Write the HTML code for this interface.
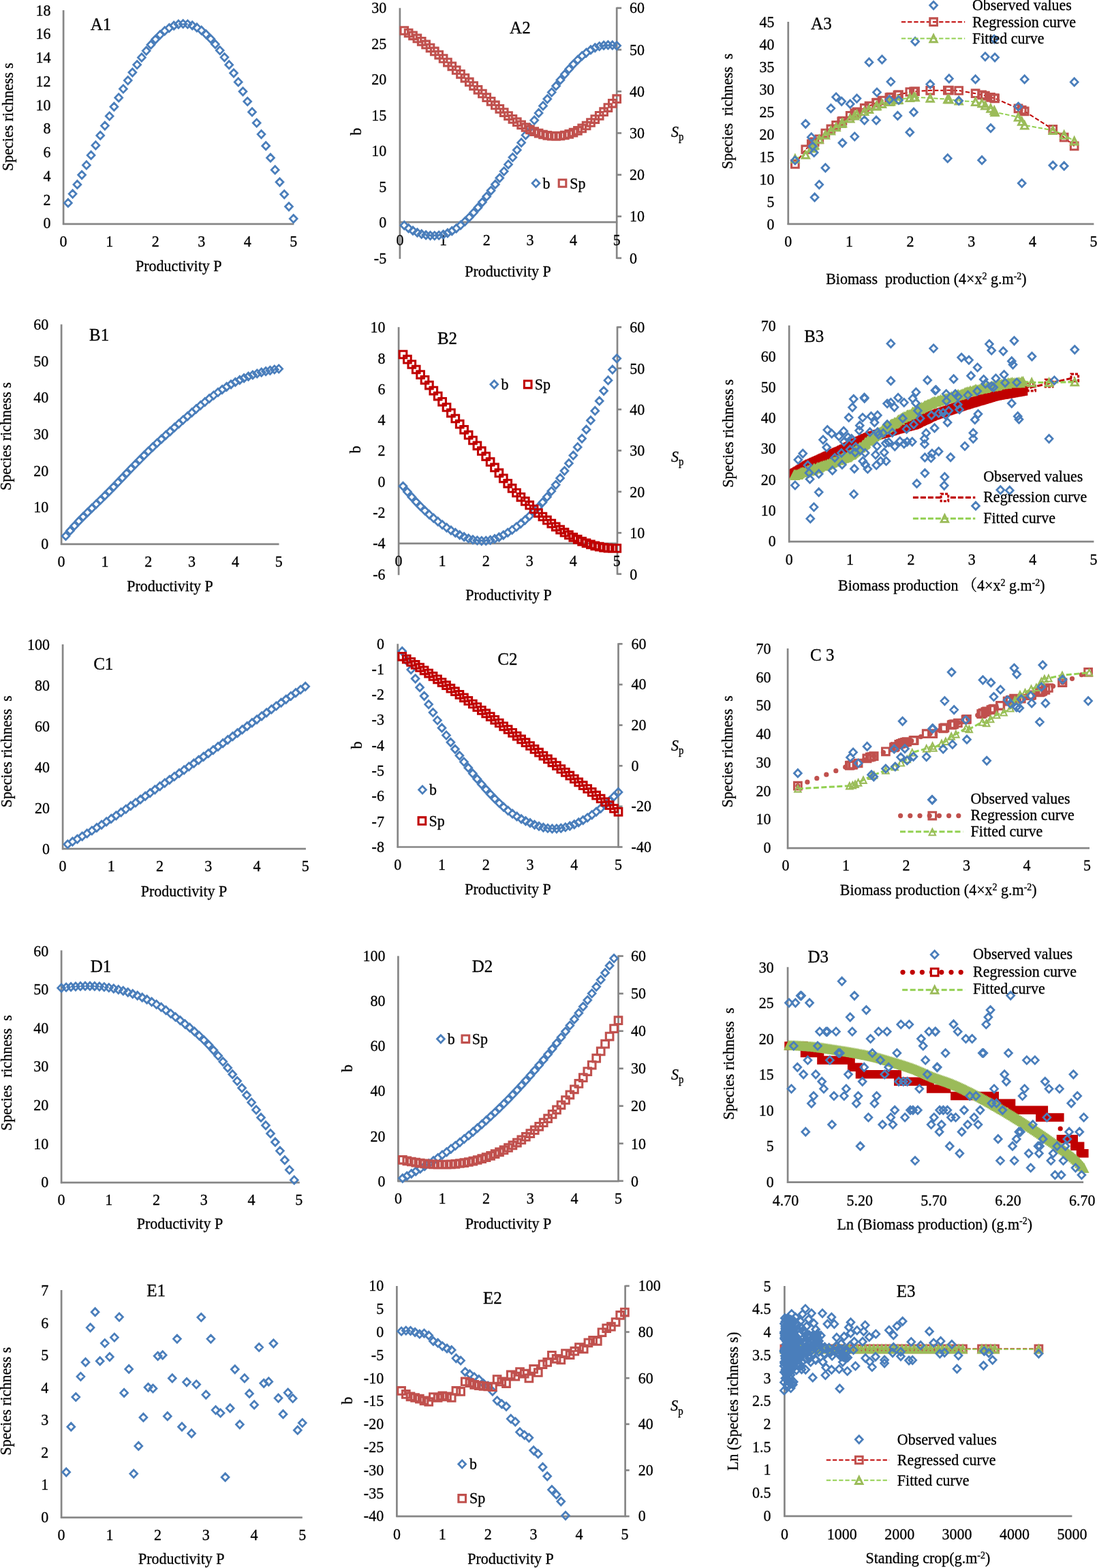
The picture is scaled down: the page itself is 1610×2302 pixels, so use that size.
<!DOCTYPE html>
<html lang="en">
<head>
<meta charset="utf-8">
<title>Species richness and productivity figure</title>
<style>
html,body{margin:0;padding:0;background:#fff;}
body{width:1610px;height:2302px;overflow:hidden;}
svg{display:block;}
svg text{font-family:"Liberation Serif","Noto Serif CJK SC","Noto Sans CJK SC",serif;font-size:22px;fill:#000;stroke:#000;stroke-width:0.3px;white-space:pre;}
</style>
</head>
<body>
<svg width="1610" height="2302" viewBox="0 0 1610 2302">
<rect width="1610" height="2302" fill="#fff"/>
<!-- panel A1 -->
<g id="panel-A1">
<line x1="93.1" y1="15.1" x2="93.1" y2="330.1" stroke="#868686" stroke-width="2.7"/>
<line x1="91.9" y1="328.9" x2="431.4" y2="328.9" stroke="#868686" stroke-width="2.7"/>
<text transform="translate(74.5 22.5) scale(1 1.045)" text-anchor="end">18</text>
<text transform="translate(74.5 57.3) scale(1 1.045)" text-anchor="end">16</text>
<text transform="translate(74.5 92) scale(1 1.045)" text-anchor="end">14</text>
<text transform="translate(74.5 126.8) scale(1 1.045)" text-anchor="end">12</text>
<text transform="translate(74.5 161.5) scale(1 1.045)" text-anchor="end">10</text>
<text transform="translate(74.5 196.3) scale(1 1.045)" text-anchor="end">8</text>
<text transform="translate(74.5 231) scale(1 1.045)" text-anchor="end">6</text>
<text transform="translate(74.5 265.7) scale(1 1.045)" text-anchor="end">4</text>
<text transform="translate(74.5 300.5) scale(1 1.045)" text-anchor="end">2</text>
<text transform="translate(74.5 335.2) scale(1 1.045)" text-anchor="end">0</text>
<text transform="translate(93.1 361.7) scale(1 1.045)" text-anchor="middle">0</text>
<text transform="translate(160.7 361.7) scale(1 1.045)" text-anchor="middle">1</text>
<text transform="translate(228.2 361.7) scale(1 1.045)" text-anchor="middle">2</text>
<text transform="translate(295.7 361.7) scale(1 1.045)" text-anchor="middle">3</text>
<text transform="translate(363.2 361.7) scale(1 1.045)" text-anchor="middle">4</text>
<text transform="translate(430.7 361.7) scale(1 1.045)" text-anchor="middle">5</text>
<text transform="translate(132.8 43.7) scale(1 1.045)" style="font-size:25px">A1</text>
<text transform="translate(262.3 397.8) scale(1 1.045)" text-anchor="middle">Productivity P</text>
<text transform="translate(18.5 171.5) rotate(-90) scale(1 1.045)" text-anchor="middle" xml:space="preserve">Species richness s</text>
<path d="M94.5 297.9l5.4 -5.6l5.4 5.6l-5.4 5.6zM101.2 284.6l5.4 -5.6l5.4 5.6l-5.4 5.6zM108 270.9l5.4 -5.6l5.4 5.6l-5.4 5.6zM114.7 256.8l5.4 -5.6l5.4 5.6l-5.4 5.6zM121.5 242.4l5.4 -5.6l5.4 5.6l-5.4 5.6zM128.2 227.9l5.4 -5.6l5.4 5.6l-5.4 5.6zM135 213.4l5.4 -5.6l5.4 5.6l-5.4 5.6zM141.8 198.9l5.4 -5.6l5.4 5.6l-5.4 5.6zM148.5 184.6l5.4 -5.6l5.4 5.6l-5.4 5.6zM155.3 170.5l5.4 -5.6l5.4 5.6l-5.4 5.6zM162 156.7l5.4 -5.6l5.4 5.6l-5.4 5.6zM168.8 143.4l5.4 -5.6l5.4 5.6l-5.4 5.6zM175.5 130.5l5.4 -5.6l5.4 5.6l-5.4 5.6zM182.3 118.1l5.4 -5.6l5.4 5.6l-5.4 5.6zM189 106.3l5.4 -5.6l5.4 5.6l-5.4 5.6zM195.8 95l5.4 -5.6l5.4 5.6l-5.4 5.6zM202.5 84.4l5.4 -5.6l5.4 5.6l-5.4 5.6zM209.3 74.6l5.4 -5.6l5.4 5.6l-5.4 5.6zM216 65.7l5.4 -5.6l5.4 5.6l-5.4 5.6zM222.8 57.8l5.4 -5.6l5.4 5.6l-5.4 5.6zM229.5 51.1l5.4 -5.6l5.4 5.6l-5.4 5.6zM236.3 45.4l5.4 -5.6l5.4 5.6l-5.4 5.6zM243 41l5.4 -5.6l5.4 5.6l-5.4 5.6zM249.8 37.7l5.4 -5.6l5.4 5.6l-5.4 5.6zM256.5 35.7l5.4 -5.6l5.4 5.6l-5.4 5.6zM263.3 35l5.4 -5.6l5.4 5.6l-5.4 5.6zM270 35.5l5.4 -5.6l5.4 5.6l-5.4 5.6zM276.8 37.3l5.4 -5.6l5.4 5.6l-5.4 5.6zM283.5 40.4l5.4 -5.6l5.4 5.6l-5.4 5.6zM290.3 44.7l5.4 -5.6l5.4 5.6l-5.4 5.6zM297 50.3l5.4 -5.6l5.4 5.6l-5.4 5.6zM303.8 57l5.4 -5.6l5.4 5.6l-5.4 5.6zM310.5 64.9l5.4 -5.6l5.4 5.6l-5.4 5.6zM317.3 74l5.4 -5.6l5.4 5.6l-5.4 5.6zM324 84.1l5.4 -5.6l5.4 5.6l-5.4 5.6zM330.8 95.2l5.4 -5.6l5.4 5.6l-5.4 5.6zM337.6 107.3l5.4 -5.6l5.4 5.6l-5.4 5.6zM344.3 120.4l5.4 -5.6l5.4 5.6l-5.4 5.6zM351.1 134.3l5.4 -5.6l5.4 5.6l-5.4 5.6zM357.8 149l5.4 -5.6l5.4 5.6l-5.4 5.6zM364.6 164.4l5.4 -5.6l5.4 5.6l-5.4 5.6zM371.3 180.5l5.4 -5.6l5.4 5.6l-5.4 5.6zM378.1 197.1l5.4 -5.6l5.4 5.6l-5.4 5.6zM384.8 214.2l5.4 -5.6l5.4 5.6l-5.4 5.6zM391.6 231.7l5.4 -5.6l5.4 5.6l-5.4 5.6zM398.3 249.4l5.4 -5.6l5.4 5.6l-5.4 5.6zM405.1 267.3l5.4 -5.6l5.4 5.6l-5.4 5.6zM411.8 285.3l5.4 -5.6l5.4 5.6l-5.4 5.6zM418.6 303.3l5.4 -5.6l5.4 5.6l-5.4 5.6zM425.3 321.1l5.4 -5.6l5.4 5.6l-5.4 5.6z" fill="none" stroke="#4a7ebb" stroke-width="2.8"/>
</g>
<!-- panel B1 -->
<g id="panel-B1">
<line x1="90.1" y1="476.2" x2="90.1" y2="800" stroke="#868686" stroke-width="2.7"/>
<line x1="88.9" y1="798.8" x2="409.5" y2="798.8" stroke="#868686" stroke-width="2.7"/>
<text transform="translate(71.3 484.1) scale(1 1.045)" text-anchor="end">60</text>
<text transform="translate(71.3 537.8) scale(1 1.045)" text-anchor="end">50</text>
<text transform="translate(71.3 591.4) scale(1 1.045)" text-anchor="end">40</text>
<text transform="translate(71.3 645) scale(1 1.045)" text-anchor="end">30</text>
<text transform="translate(71.3 698.6) scale(1 1.045)" text-anchor="end">20</text>
<text transform="translate(71.3 752.3) scale(1 1.045)" text-anchor="end">10</text>
<text transform="translate(71.3 805.9) scale(1 1.045)" text-anchor="end">0</text>
<text transform="translate(90.1 831.5) scale(1 1.045)" text-anchor="middle">0</text>
<text transform="translate(153.9 831.5) scale(1 1.045)" text-anchor="middle">1</text>
<text transform="translate(217.7 831.5) scale(1 1.045)" text-anchor="middle">2</text>
<text transform="translate(281.6 831.5) scale(1 1.045)" text-anchor="middle">3</text>
<text transform="translate(345.4 831.5) scale(1 1.045)" text-anchor="middle">4</text>
<text transform="translate(409.2 831.5) scale(1 1.045)" text-anchor="middle">5</text>
<text transform="translate(131.1 500.4) scale(1 1.045)" style="font-size:25px">B1</text>
<text transform="translate(249.5 867.6) scale(1 1.045)" text-anchor="middle">Productivity P</text>
<text transform="translate(15.8 640.6) rotate(-90) scale(1 1.045)" text-anchor="middle" xml:space="preserve">Species richness s</text>
<path d="M91.1 786.9l5.4 -5.6l5.4 5.6l-5.4 5.6zM97.5 779.2l5.4 -5.6l5.4 5.6l-5.4 5.6zM103.9 772l5.4 -5.6l5.4 5.6l-5.4 5.6zM110.2 765.2l5.4 -5.6l5.4 5.6l-5.4 5.6zM116.6 758.7l5.4 -5.6l5.4 5.6l-5.4 5.6zM123 752.4l5.4 -5.6l5.4 5.6l-5.4 5.6zM129.4 746.2l5.4 -5.6l5.4 5.6l-5.4 5.6zM135.8 740.1l5.4 -5.6l5.4 5.6l-5.4 5.6zM142.1 734l5.4 -5.6l5.4 5.6l-5.4 5.6zM148.5 727.7l5.4 -5.6l5.4 5.6l-5.4 5.6zM154.9 721.3l5.4 -5.6l5.4 5.6l-5.4 5.6zM161.3 714.8l5.4 -5.6l5.4 5.6l-5.4 5.6zM167.7 708.1l5.4 -5.6l5.4 5.6l-5.4 5.6zM174.1 701.5l5.4 -5.6l5.4 5.6l-5.4 5.6zM180.4 694.8l5.4 -5.6l5.4 5.6l-5.4 5.6zM186.8 688.1l5.4 -5.6l5.4 5.6l-5.4 5.6zM193.2 681.6l5.4 -5.6l5.4 5.6l-5.4 5.6zM199.6 675.1l5.4 -5.6l5.4 5.6l-5.4 5.6zM206 668.7l5.4 -5.6l5.4 5.6l-5.4 5.6zM212.3 662.5l5.4 -5.6l5.4 5.6l-5.4 5.6zM218.7 656.4l5.4 -5.6l5.4 5.6l-5.4 5.6zM225.1 650.5l5.4 -5.6l5.4 5.6l-5.4 5.6zM231.5 644.7l5.4 -5.6l5.4 5.6l-5.4 5.6zM237.9 638.9l5.4 -5.6l5.4 5.6l-5.4 5.6zM244.3 633.3l5.4 -5.6l5.4 5.6l-5.4 5.6zM250.6 627.6l5.4 -5.6l5.4 5.6l-5.4 5.6zM257 622.1l5.4 -5.6l5.4 5.6l-5.4 5.6zM263.4 616.5l5.4 -5.6l5.4 5.6l-5.4 5.6zM269.8 611.1l5.4 -5.6l5.4 5.6l-5.4 5.6zM276.2 605.7l5.4 -5.6l5.4 5.6l-5.4 5.6zM282.5 600.4l5.4 -5.6l5.4 5.6l-5.4 5.6zM288.9 595.1l5.4 -5.6l5.4 5.6l-5.4 5.6zM295.3 590.1l5.4 -5.6l5.4 5.6l-5.4 5.6zM301.7 585.2l5.4 -5.6l5.4 5.6l-5.4 5.6zM308.1 580.5l5.4 -5.6l5.4 5.6l-5.4 5.6zM314.5 576l5.4 -5.6l5.4 5.6l-5.4 5.6zM320.8 571.8l5.4 -5.6l5.4 5.6l-5.4 5.6zM327.2 567.9l5.4 -5.6l5.4 5.6l-5.4 5.6zM333.6 564.3l5.4 -5.6l5.4 5.6l-5.4 5.6zM340 561l5.4 -5.6l5.4 5.6l-5.4 5.6zM346.4 557.9l5.4 -5.6l5.4 5.6l-5.4 5.6zM352.7 555.2l5.4 -5.6l5.4 5.6l-5.4 5.6zM359.1 552.7l5.4 -5.6l5.4 5.6l-5.4 5.6zM365.5 550.5l5.4 -5.6l5.4 5.6l-5.4 5.6zM371.9 548.5l5.4 -5.6l5.4 5.6l-5.4 5.6zM378.3 546.7l5.4 -5.6l5.4 5.6l-5.4 5.6zM384.7 545.2l5.4 -5.6l5.4 5.6l-5.4 5.6zM391 543.8l5.4 -5.6l5.4 5.6l-5.4 5.6zM397.4 542.5l5.4 -5.6l5.4 5.6l-5.4 5.6zM403.8 541.5l5.4 -5.6l5.4 5.6l-5.4 5.6z" fill="none" stroke="#4a7ebb" stroke-width="2.8"/>
</g>
<!-- panel C1 -->
<g id="panel-C1">
<line x1="92.1" y1="946" x2="92.1" y2="1247.3" stroke="#868686" stroke-width="2.7"/>
<line x1="90.9" y1="1246.1" x2="448.9" y2="1246.1" stroke="#868686" stroke-width="2.7"/>
<text transform="translate(73 953.9) scale(1 1.045)" text-anchor="end">100</text>
<text transform="translate(73 1013.8) scale(1 1.045)" text-anchor="end">80</text>
<text transform="translate(73 1073.7) scale(1 1.045)" text-anchor="end">60</text>
<text transform="translate(73 1133.6) scale(1 1.045)" text-anchor="end">40</text>
<text transform="translate(73 1193.5) scale(1 1.045)" text-anchor="end">20</text>
<text transform="translate(73 1253.5) scale(1 1.045)" text-anchor="end">0</text>
<text transform="translate(92.1 1279.3) scale(1 1.045)" text-anchor="middle">0</text>
<text transform="translate(163.3 1279.3) scale(1 1.045)" text-anchor="middle">1</text>
<text transform="translate(234.6 1279.3) scale(1 1.045)" text-anchor="middle">2</text>
<text transform="translate(305.8 1279.3) scale(1 1.045)" text-anchor="middle">3</text>
<text transform="translate(377 1279.3) scale(1 1.045)" text-anchor="middle">4</text>
<text transform="translate(448.2 1279.3) scale(1 1.045)" text-anchor="middle">5</text>
<text transform="translate(137.2 983.3) scale(1 1.045)" style="font-size:25px">C1</text>
<text transform="translate(270 1315.8) scale(1 1.045)" text-anchor="middle">Productivity P</text>
<text transform="translate(16.8 1103.3) rotate(-90) scale(1 1.045)" text-anchor="middle" xml:space="preserve">Species richness  s</text>
<path d="M93.9 1239.5l5.4 -5.6l5.4 5.6l-5.4 5.6zM101 1235.7l5.4 -5.6l5.4 5.6l-5.4 5.6zM108.1 1231.8l5.4 -5.6l5.4 5.6l-5.4 5.6zM115.2 1227.8l5.4 -5.6l5.4 5.6l-5.4 5.6zM122.3 1223.7l5.4 -5.6l5.4 5.6l-5.4 5.6zM129.5 1219.5l5.4 -5.6l5.4 5.6l-5.4 5.6zM136.6 1215.2l5.4 -5.6l5.4 5.6l-5.4 5.6zM143.7 1210.8l5.4 -5.6l5.4 5.6l-5.4 5.6zM150.8 1206.4l5.4 -5.6l5.4 5.6l-5.4 5.6zM157.9 1201.9l5.4 -5.6l5.4 5.6l-5.4 5.6zM165.1 1197.3l5.4 -5.6l5.4 5.6l-5.4 5.6zM172.2 1192.6l5.4 -5.6l5.4 5.6l-5.4 5.6zM179.3 1188l5.4 -5.6l5.4 5.6l-5.4 5.6zM186.4 1183.2l5.4 -5.6l5.4 5.6l-5.4 5.6zM193.6 1178.5l5.4 -5.6l5.4 5.6l-5.4 5.6zM200.7 1173.7l5.4 -5.6l5.4 5.6l-5.4 5.6zM207.8 1168.9l5.4 -5.6l5.4 5.6l-5.4 5.6zM214.9 1164.1l5.4 -5.6l5.4 5.6l-5.4 5.6zM222 1159.3l5.4 -5.6l5.4 5.6l-5.4 5.6zM229.2 1154.4l5.4 -5.6l5.4 5.6l-5.4 5.6zM236.3 1149.6l5.4 -5.6l5.4 5.6l-5.4 5.6zM243.4 1144.8l5.4 -5.6l5.4 5.6l-5.4 5.6zM250.5 1140l5.4 -5.6l5.4 5.6l-5.4 5.6zM257.6 1135.2l5.4 -5.6l5.4 5.6l-5.4 5.6zM264.8 1130.4l5.4 -5.6l5.4 5.6l-5.4 5.6zM271.9 1125.5l5.4 -5.6l5.4 5.6l-5.4 5.6zM279 1120.7l5.4 -5.6l5.4 5.6l-5.4 5.6zM286.1 1115.8l5.4 -5.6l5.4 5.6l-5.4 5.6zM293.3 1110.9l5.4 -5.6l5.4 5.6l-5.4 5.6zM300.4 1106l5.4 -5.6l5.4 5.6l-5.4 5.6zM307.5 1101.1l5.4 -5.6l5.4 5.6l-5.4 5.6zM314.6 1096.2l5.4 -5.6l5.4 5.6l-5.4 5.6zM321.7 1091.2l5.4 -5.6l5.4 5.6l-5.4 5.6zM328.9 1086.2l5.4 -5.6l5.4 5.6l-5.4 5.6zM336 1081.2l5.4 -5.6l5.4 5.6l-5.4 5.6zM343.1 1076.2l5.4 -5.6l5.4 5.6l-5.4 5.6zM350.2 1071.2l5.4 -5.6l5.4 5.6l-5.4 5.6zM357.3 1066.2l5.4 -5.6l5.4 5.6l-5.4 5.6zM364.5 1061.2l5.4 -5.6l5.4 5.6l-5.4 5.6zM371.6 1056.3l5.4 -5.6l5.4 5.6l-5.4 5.6zM378.7 1051.3l5.4 -5.6l5.4 5.6l-5.4 5.6zM385.8 1046.3l5.4 -5.6l5.4 5.6l-5.4 5.6zM393 1041.4l5.4 -5.6l5.4 5.6l-5.4 5.6zM400.1 1036.5l5.4 -5.6l5.4 5.6l-5.4 5.6zM407.2 1031.6l5.4 -5.6l5.4 5.6l-5.4 5.6zM414.3 1026.8l5.4 -5.6l5.4 5.6l-5.4 5.6zM421.4 1022l5.4 -5.6l5.4 5.6l-5.4 5.6zM428.6 1017.2l5.4 -5.6l5.4 5.6l-5.4 5.6zM435.7 1012.5l5.4 -5.6l5.4 5.6l-5.4 5.6zM442.8 1007.8l5.4 -5.6l5.4 5.6l-5.4 5.6z" fill="none" stroke="#4a7ebb" stroke-width="2.8"/>
</g>
<!-- panel D1 -->
<g id="panel-D1">
<line x1="90.1" y1="1395.2" x2="90.1" y2="1737.3" stroke="#868686" stroke-width="2.7"/>
<line x1="88.9" y1="1736.1" x2="439.8" y2="1736.1" stroke="#868686" stroke-width="2.7"/>
<text transform="translate(71.3 1403.5) scale(1 1.045)" text-anchor="end">60</text>
<text transform="translate(71.3 1460.1) scale(1 1.045)" text-anchor="end">50</text>
<text transform="translate(71.3 1516.7) scale(1 1.045)" text-anchor="end">40</text>
<text transform="translate(71.3 1573.3) scale(1 1.045)" text-anchor="end">30</text>
<text transform="translate(71.3 1629.9) scale(1 1.045)" text-anchor="end">20</text>
<text transform="translate(71.3 1686.5) scale(1 1.045)" text-anchor="end">10</text>
<text transform="translate(71.3 1743.1) scale(1 1.045)" text-anchor="end">0</text>
<text transform="translate(90.1 1769) scale(1 1.045)" text-anchor="middle">0</text>
<text transform="translate(159.8 1769) scale(1 1.045)" text-anchor="middle">1</text>
<text transform="translate(229.6 1769) scale(1 1.045)" text-anchor="middle">2</text>
<text transform="translate(299.3 1769) scale(1 1.045)" text-anchor="middle">3</text>
<text transform="translate(369.1 1769) scale(1 1.045)" text-anchor="middle">4</text>
<text transform="translate(438.8 1769) scale(1 1.045)" text-anchor="middle">5</text>
<text transform="translate(132.8 1426.5) scale(1 1.045)" style="font-size:25px">D1</text>
<text transform="translate(263.9 1804.4) scale(1 1.045)" text-anchor="middle">Productivity P</text>
<text transform="translate(16.8 1575.1) rotate(-90) scale(1 1.045)" text-anchor="middle" xml:space="preserve">Species  richness  s</text>
<path d="M84.7 1450.4l5.4 -5.6l5.4 5.6l-5.4 5.6zM91.7 1449.5l5.4 -5.6l5.4 5.6l-5.4 5.6zM98.7 1448.8l5.4 -5.6l5.4 5.6l-5.4 5.6zM105.6 1448.3l5.4 -5.6l5.4 5.6l-5.4 5.6zM112.6 1447.9l5.4 -5.6l5.4 5.6l-5.4 5.6zM119.6 1447.7l5.4 -5.6l5.4 5.6l-5.4 5.6zM126.6 1447.7l5.4 -5.6l5.4 5.6l-5.4 5.6zM133.5 1447.9l5.4 -5.6l5.4 5.6l-5.4 5.6zM140.5 1448.3l5.4 -5.6l5.4 5.6l-5.4 5.6zM147.5 1449l5.4 -5.6l5.4 5.6l-5.4 5.6zM154.4 1450l5.4 -5.6l5.4 5.6l-5.4 5.6zM161.4 1451.3l5.4 -5.6l5.4 5.6l-5.4 5.6zM168.4 1452.9l5.4 -5.6l5.4 5.6l-5.4 5.6zM175.4 1454.7l5.4 -5.6l5.4 5.6l-5.4 5.6zM182.3 1456.8l5.4 -5.6l5.4 5.6l-5.4 5.6zM189.3 1459.1l5.4 -5.6l5.4 5.6l-5.4 5.6zM196.3 1461.6l5.4 -5.6l5.4 5.6l-5.4 5.6zM203.3 1464.4l5.4 -5.6l5.4 5.6l-5.4 5.6zM210.2 1467.4l5.4 -5.6l5.4 5.6l-5.4 5.6zM217.2 1470.8l5.4 -5.6l5.4 5.6l-5.4 5.6zM224.2 1474.6l5.4 -5.6l5.4 5.6l-5.4 5.6zM231.2 1478.7l5.4 -5.6l5.4 5.6l-5.4 5.6zM238.1 1483.2l5.4 -5.6l5.4 5.6l-5.4 5.6zM245.1 1488l5.4 -5.6l5.4 5.6l-5.4 5.6zM252.1 1493l5.4 -5.6l5.4 5.6l-5.4 5.6zM259.1 1498.1l5.4 -5.6l5.4 5.6l-5.4 5.6zM266 1503.3l5.4 -5.6l5.4 5.6l-5.4 5.6zM273 1508.7l5.4 -5.6l5.4 5.6l-5.4 5.6zM280 1514.4l5.4 -5.6l5.4 5.6l-5.4 5.6zM286.9 1520.5l5.4 -5.6l5.4 5.6l-5.4 5.6zM293.9 1527l5.4 -5.6l5.4 5.6l-5.4 5.6zM300.9 1534.1l5.4 -5.6l5.4 5.6l-5.4 5.6zM307.9 1541.8l5.4 -5.6l5.4 5.6l-5.4 5.6zM314.8 1550l5.4 -5.6l5.4 5.6l-5.4 5.6zM321.8 1558.6l5.4 -5.6l5.4 5.6l-5.4 5.6zM328.8 1567.7l5.4 -5.6l5.4 5.6l-5.4 5.6zM335.8 1577.2l5.4 -5.6l5.4 5.6l-5.4 5.6zM342.7 1587.1l5.4 -5.6l5.4 5.6l-5.4 5.6zM349.7 1597.3l5.4 -5.6l5.4 5.6l-5.4 5.6zM356.7 1607.8l5.4 -5.6l5.4 5.6l-5.4 5.6zM363.7 1618.5l5.4 -5.6l5.4 5.6l-5.4 5.6zM370.6 1629.4l5.4 -5.6l5.4 5.6l-5.4 5.6zM377.6 1640.7l5.4 -5.6l5.4 5.6l-5.4 5.6zM384.6 1652.2l5.4 -5.6l5.4 5.6l-5.4 5.6zM391.6 1664.2l5.4 -5.6l5.4 5.6l-5.4 5.6zM398.5 1676.7l5.4 -5.6l5.4 5.6l-5.4 5.6zM405.5 1689.6l5.4 -5.6l5.4 5.6l-5.4 5.6zM412.5 1703.2l5.4 -5.6l5.4 5.6l-5.4 5.6zM419.4 1717.5l5.4 -5.6l5.4 5.6l-5.4 5.6zM426.4 1732.5l5.4 -5.6l5.4 5.6l-5.4 5.6z" fill="none" stroke="#4a7ebb" stroke-width="2.8"/>
</g>
<!-- panel E1 -->
<g id="panel-E1">
<line x1="90.1" y1="1893.9" x2="90.1" y2="2229" stroke="#868686" stroke-width="2.7"/>
<line x1="88.9" y1="2227.8" x2="443.8" y2="2227.8" stroke="#868686" stroke-width="2.7"/>
<text transform="translate(71.3 1901.9) scale(1 1.045)" text-anchor="end">7</text>
<text transform="translate(71.3 1949.5) scale(1 1.045)" text-anchor="end">6</text>
<text transform="translate(71.3 1997.1) scale(1 1.045)" text-anchor="end">5</text>
<text transform="translate(71.3 2044.6) scale(1 1.045)" text-anchor="end">4</text>
<text transform="translate(71.3 2092.2) scale(1 1.045)" text-anchor="end">3</text>
<text transform="translate(71.3 2139.7) scale(1 1.045)" text-anchor="end">2</text>
<text transform="translate(71.3 2187.3) scale(1 1.045)" text-anchor="end">1</text>
<text transform="translate(71.3 2234.8) scale(1 1.045)" text-anchor="end">0</text>
<text transform="translate(90.1 2260.8) scale(1 1.045)" text-anchor="middle">0</text>
<text transform="translate(160.9 2260.8) scale(1 1.045)" text-anchor="middle">1</text>
<text transform="translate(231.6 2260.8) scale(1 1.045)" text-anchor="middle">2</text>
<text transform="translate(302.3 2260.8) scale(1 1.045)" text-anchor="middle">3</text>
<text transform="translate(373.1 2260.8) scale(1 1.045)" text-anchor="middle">4</text>
<text transform="translate(443.8 2260.8) scale(1 1.045)" text-anchor="middle">5</text>
<text transform="translate(215.2 1903.4) scale(1 1.045)" style="font-size:25px">E1</text>
<text transform="translate(266.3 2296.4) scale(1 1.045)" text-anchor="middle">Productivity P</text>
<text transform="translate(15.8 2057) rotate(-90) scale(1 1.045)" text-anchor="middle" xml:space="preserve">Species richness s</text>
<path d="M91.8 2161.3l5.4 -5.6l5.4 5.6l-5.4 5.6zM98.9 2094.7l5.4 -5.6l5.4 5.6l-5.4 5.6zM105.9 2051l5.4 -5.6l5.4 5.6l-5.4 5.6zM113 2021l5.4 -5.6l5.4 5.6l-5.4 5.6zM120.1 1999.9l5.4 -5.6l5.4 5.6l-5.4 5.6zM127.2 1949.1l5.4 -5.6l5.4 5.6l-5.4 5.6zM134.2 1926.2l5.4 -5.6l5.4 5.6l-5.4 5.6zM141.3 1998.2l5.4 -5.6l5.4 5.6l-5.4 5.6zM148.4 1972l5.4 -5.6l5.4 5.6l-5.4 5.6zM155.5 1992.1l5.4 -5.6l5.4 5.6l-5.4 5.6zM162.5 1963.5l5.4 -5.6l5.4 5.6l-5.4 5.6zM169.6 1933.6l5.4 -5.6l5.4 5.6l-5.4 5.6zM176.7 2044.9l5.4 -5.6l5.4 5.6l-5.4 5.6zM183.8 2009.9l5.4 -5.6l5.4 5.6l-5.4 5.6zM190.8 2163.6l5.4 -5.6l5.4 5.6l-5.4 5.6zM197.9 2122.9l5.4 -5.6l5.4 5.6l-5.4 5.6zM205 2080.9l5.4 -5.6l5.4 5.6l-5.4 5.6zM212.1 2036.8l5.4 -5.6l5.4 5.6l-5.4 5.6zM219.1 2038.5l5.4 -5.6l5.4 5.6l-5.4 5.6zM226.2 1990.8l5.4 -5.6l5.4 5.6l-5.4 5.6zM233.3 1989.4l5.4 -5.6l5.4 5.6l-5.4 5.6zM240.4 2079.2l5.4 -5.6l5.4 5.6l-5.4 5.6zM247.4 2023.4l5.4 -5.6l5.4 5.6l-5.4 5.6zM254.5 1965.6l5.4 -5.6l5.4 5.6l-5.4 5.6zM261.6 2094.7l5.4 -5.6l5.4 5.6l-5.4 5.6zM268.6 2029.1l5.4 -5.6l5.4 5.6l-5.4 5.6zM275.7 2104.4l5.4 -5.6l5.4 5.6l-5.4 5.6zM282.8 2032.5l5.4 -5.6l5.4 5.6l-5.4 5.6zM289.9 1934l5.4 -5.6l5.4 5.6l-5.4 5.6zM296.9 2047.6l5.4 -5.6l5.4 5.6l-5.4 5.6zM304 1965.6l5.4 -5.6l5.4 5.6l-5.4 5.6zM311.1 2070.1l5.4 -5.6l5.4 5.6l-5.4 5.6zM318.2 2074.5l5.4 -5.6l5.4 5.6l-5.4 5.6zM325.2 2168.7l5.4 -5.6l5.4 5.6l-5.4 5.6zM332.3 2067.4l5.4 -5.6l5.4 5.6l-5.4 5.6zM339.4 2010.3l5.4 -5.6l5.4 5.6l-5.4 5.6zM346.5 2091.3l5.4 -5.6l5.4 5.6l-5.4 5.6zM353.5 2023.4l5.4 -5.6l5.4 5.6l-5.4 5.6zM360.6 2045.9l5.4 -5.6l5.4 5.6l-5.4 5.6zM367.7 2062.4l5.4 -5.6l5.4 5.6l-5.4 5.6zM374.8 1978l5.4 -5.6l5.4 5.6l-5.4 5.6zM381.8 2030.8l5.4 -5.6l5.4 5.6l-5.4 5.6zM388.9 2028.4l5.4 -5.6l5.4 5.6l-5.4 5.6zM396 1972.3l5.4 -5.6l5.4 5.6l-5.4 5.6zM403.1 2052.6l5.4 -5.6l5.4 5.6l-5.4 5.6zM410.1 2076.2l5.4 -5.6l5.4 5.6l-5.4 5.6zM417.2 2044.6l5.4 -5.6l5.4 5.6l-5.4 5.6zM424.3 2053l5.4 -5.6l5.4 5.6l-5.4 5.6zM431.4 2099.7l5.4 -5.6l5.4 5.6l-5.4 5.6zM438.4 2089l5.4 -5.6l5.4 5.6l-5.4 5.6z" fill="none" stroke="#4a7ebb" stroke-width="2.8"/>
</g>
<!-- panel A2 -->
<g id="panel-A2">
<line x1="586.9" y1="11.8" x2="586.9" y2="379.9" stroke="#868686" stroke-width="2.7"/>
<line x1="585.9" y1="326.2" x2="906.2" y2="326.2" stroke="#868686" stroke-width="2.7"/>
<line x1="905.2" y1="10.8" x2="905.2" y2="379.9" stroke="#868686" stroke-width="2.7"/>
<line x1="905.2" y1="11.8" x2="912.1" y2="11.8" stroke="#868686" stroke-width="2.7"/>
<line x1="905.2" y1="73" x2="912.1" y2="73" stroke="#868686" stroke-width="2.7"/>
<line x1="905.2" y1="134.2" x2="912.1" y2="134.2" stroke="#868686" stroke-width="2.7"/>
<line x1="905.2" y1="195.4" x2="912.1" y2="195.4" stroke="#868686" stroke-width="2.7"/>
<line x1="905.2" y1="256.6" x2="912.1" y2="256.6" stroke="#868686" stroke-width="2.7"/>
<line x1="905.2" y1="317.7" x2="912.1" y2="317.7" stroke="#868686" stroke-width="2.7"/>
<line x1="905.2" y1="378.9" x2="912.1" y2="378.9" stroke="#868686" stroke-width="2.7"/>
<text transform="translate(567.2 19.4) scale(1 1.045)" text-anchor="end">30</text>
<text transform="translate(567.2 71.8) scale(1 1.045)" text-anchor="end">25</text>
<text transform="translate(567.2 124.3) scale(1 1.045)" text-anchor="end">20</text>
<text transform="translate(567.2 176.7) scale(1 1.045)" text-anchor="end">15</text>
<text transform="translate(567.2 229.2) scale(1 1.045)" text-anchor="end">10</text>
<text transform="translate(567.2 281.6) scale(1 1.045)" text-anchor="end">5</text>
<text transform="translate(567.2 334.1) scale(1 1.045)" text-anchor="end">0</text>
<text transform="translate(567.2 386.5) scale(1 1.045)" text-anchor="end">-5</text>
<text transform="translate(586.9 360.4) scale(1 1.045)" text-anchor="middle">0</text>
<text transform="translate(650.6 360.4) scale(1 1.045)" text-anchor="middle">1</text>
<text transform="translate(714.2 360.4) scale(1 1.045)" text-anchor="middle">2</text>
<text transform="translate(777.9 360.4) scale(1 1.045)" text-anchor="middle">3</text>
<text transform="translate(841.5 360.4) scale(1 1.045)" text-anchor="middle">4</text>
<text transform="translate(905.2 360.4) scale(1 1.045)" text-anchor="middle">5</text>
<text transform="translate(923.9 19.4) scale(1 1.045)">60</text>
<text transform="translate(923.9 80.6) scale(1 1.045)">50</text>
<text transform="translate(923.9 141.8) scale(1 1.045)">40</text>
<text transform="translate(923.9 203) scale(1 1.045)">30</text>
<text transform="translate(923.9 264.2) scale(1 1.045)">20</text>
<text transform="translate(923.9 325.3) scale(1 1.045)">10</text>
<text transform="translate(923.9 386.5) scale(1 1.045)">0</text>
<text transform="translate(748.1 48.8) scale(1 1.045)" style="font-size:25px">A2</text>
<text transform="translate(745.5 405.8) scale(1 1.045)" text-anchor="middle">Productivity P</text>
<text transform="translate(530.3 193.3) rotate(-90) scale(1 1.045)" text-anchor="middle">b</text>
<text transform="translate(984.9 201) scale(1 1.045)"><tspan font-style="italic">S</tspan><tspan style="font-size:15px" dy="5">p</tspan></text>
<path d="M587.9 330.9l5.4 -5.6l5.4 5.6l-5.4 5.6zM594.2 335.2l5.4 -5.6l5.4 5.6l-5.4 5.6zM600.6 338.7l5.4 -5.6l5.4 5.6l-5.4 5.6zM607 341.5l5.4 -5.6l5.4 5.6l-5.4 5.6zM613.3 343.6l5.4 -5.6l5.4 5.6l-5.4 5.6zM619.7 345.1l5.4 -5.6l5.4 5.6l-5.4 5.6zM626.1 345.8l5.4 -5.6l5.4 5.6l-5.4 5.6zM632.4 346l5.4 -5.6l5.4 5.6l-5.4 5.6zM638.8 345.5l5.4 -5.6l5.4 5.6l-5.4 5.6zM645.2 344.3l5.4 -5.6l5.4 5.6l-5.4 5.6zM651.5 342.2l5.4 -5.6l5.4 5.6l-5.4 5.6zM657.9 339.2l5.4 -5.6l5.4 5.6l-5.4 5.6zM664.3 335.3l5.4 -5.6l5.4 5.6l-5.4 5.6zM670.6 330.6l5.4 -5.6l5.4 5.6l-5.4 5.6zM677 325.1l5.4 -5.6l5.4 5.6l-5.4 5.6zM683.4 319l5.4 -5.6l5.4 5.6l-5.4 5.6zM689.7 312.1l5.4 -5.6l5.4 5.6l-5.4 5.6zM696.1 304.7l5.4 -5.6l5.4 5.6l-5.4 5.6zM702.5 296.8l5.4 -5.6l5.4 5.6l-5.4 5.6zM708.8 288.5l5.4 -5.6l5.4 5.6l-5.4 5.6zM715.2 279.8l5.4 -5.6l5.4 5.6l-5.4 5.6zM721.5 270.7l5.4 -5.6l5.4 5.6l-5.4 5.6zM727.9 261.3l5.4 -5.6l5.4 5.6l-5.4 5.6zM734.3 251.5l5.4 -5.6l5.4 5.6l-5.4 5.6zM740.6 241.4l5.4 -5.6l5.4 5.6l-5.4 5.6zM747 231l5.4 -5.6l5.4 5.6l-5.4 5.6zM753.4 220.3l5.4 -5.6l5.4 5.6l-5.4 5.6zM759.7 209.4l5.4 -5.6l5.4 5.6l-5.4 5.6zM766.1 198.4l5.4 -5.6l5.4 5.6l-5.4 5.6zM772.5 187.5l5.4 -5.6l5.4 5.6l-5.4 5.6zM778.8 176.6l5.4 -5.6l5.4 5.6l-5.4 5.6zM785.2 165.9l5.4 -5.6l5.4 5.6l-5.4 5.6zM791.6 155.4l5.4 -5.6l5.4 5.6l-5.4 5.6zM797.9 145.3l5.4 -5.6l5.4 5.6l-5.4 5.6zM804.3 135.5l5.4 -5.6l5.4 5.6l-5.4 5.6zM810.7 126.2l5.4 -5.6l5.4 5.6l-5.4 5.6zM817 117.4l5.4 -5.6l5.4 5.6l-5.4 5.6zM823.4 109.1l5.4 -5.6l5.4 5.6l-5.4 5.6zM829.8 101.4l5.4 -5.6l5.4 5.6l-5.4 5.6zM836.1 94.3l5.4 -5.6l5.4 5.6l-5.4 5.6zM842.5 87.9l5.4 -5.6l5.4 5.6l-5.4 5.6zM848.8 82.2l5.4 -5.6l5.4 5.6l-5.4 5.6zM855.2 77.3l5.4 -5.6l5.4 5.6l-5.4 5.6zM861.6 73.2l5.4 -5.6l5.4 5.6l-5.4 5.6zM867.9 70.1l5.4 -5.6l5.4 5.6l-5.4 5.6zM874.3 68l5.4 -5.6l5.4 5.6l-5.4 5.6zM880.7 66.7l5.4 -5.6l5.4 5.6l-5.4 5.6zM887 66.2l5.4 -5.6l5.4 5.6l-5.4 5.6zM893.4 66.4l5.4 -5.6l5.4 5.6l-5.4 5.6zM899.8 67.1l5.4 -5.6l5.4 5.6l-5.4 5.6z" fill="none" stroke="#4a7ebb" stroke-width="2.8"/>
<path d="M588 39.7h10.6v10.6h-10.6zM594.3 43.2h10.6v10.6h-10.6zM600.7 47h10.6v10.6h-10.6zM607.1 51.1h10.6v10.6h-10.6zM613.4 55.5h10.6v10.6h-10.6zM619.8 60.1h10.6v10.6h-10.6zM626.2 65h10.6v10.6h-10.6zM632.5 70.1h10.6v10.6h-10.6zM638.9 75.3h10.6v10.6h-10.6zM645.3 80.7h10.6v10.6h-10.6zM651.6 86.3h10.6v10.6h-10.6zM658 92h10.6v10.6h-10.6zM664.4 97.7h10.6v10.6h-10.6zM670.7 103.5h10.6v10.6h-10.6zM677.1 109.3h10.6v10.6h-10.6zM683.5 115.1h10.6v10.6h-10.6zM689.8 120.8h10.6v10.6h-10.6zM696.2 126.5h10.6v10.6h-10.6zM702.6 132.2h10.6v10.6h-10.6zM708.9 137.9h10.6v10.6h-10.6zM715.3 143.5h10.6v10.6h-10.6zM721.6 149.1h10.6v10.6h-10.6zM728 154.5h10.6v10.6h-10.6zM734.4 159.8h10.6v10.6h-10.6zM740.7 164.8h10.6v10.6h-10.6zM747.1 169.5h10.6v10.6h-10.6zM753.5 173.9h10.6v10.6h-10.6zM759.8 178h10.6v10.6h-10.6zM766.2 181.7h10.6v10.6h-10.6zM772.6 185h10.6v10.6h-10.6zM778.9 187.8h10.6v10.6h-10.6zM785.3 190.3h10.6v10.6h-10.6zM791.7 192.2h10.6v10.6h-10.6zM798 193.6h10.6v10.6h-10.6zM804.4 194.4h10.6v10.6h-10.6zM810.8 194.6h10.6v10.6h-10.6zM817.1 194.2h10.6v10.6h-10.6zM823.5 193.2h10.6v10.6h-10.6zM829.9 191.6h10.6v10.6h-10.6zM836.2 189.3h10.6v10.6h-10.6zM842.6 186.5h10.6v10.6h-10.6zM848.9 183.1h10.6v10.6h-10.6zM855.3 179.2h10.6v10.6h-10.6zM861.7 174.7h10.6v10.6h-10.6zM868 169.8h10.6v10.6h-10.6zM874.4 164.5h10.6v10.6h-10.6zM880.8 158.9h10.6v10.6h-10.6zM887.1 152.8h10.6v10.6h-10.6zM893.5 146.5h10.6v10.6h-10.6zM899.9 139.9h10.6v10.6h-10.6z" fill="none" stroke="#c0504d" stroke-width="3.1"/>
<path d="M781.1 269l5.4 -5.6l5.4 5.6l-5.4 5.6z" fill="none" stroke="#4a7ebb" stroke-width="2.8"/>
<text transform="translate(796.6 276.5) scale(1 1.045)">b</text>
<path d="M820.2 263.7h10.6v10.6h-10.6z" fill="none" stroke="#c0504d" stroke-width="3.1"/>
<text transform="translate(836.2 276.5) scale(1 1.045)">Sp</text>
</g>
<!-- panel B2 -->
<g id="panel-B2">
<line x1="585.1" y1="480.3" x2="585.1" y2="844.3" stroke="#868686" stroke-width="2.7"/>
<line x1="584.1" y1="797.9" x2="907" y2="797.9" stroke="#868686" stroke-width="2.7"/>
<line x1="906" y1="479.3" x2="906" y2="843.7" stroke="#868686" stroke-width="2.7"/>
<line x1="906" y1="480.3" x2="912.1" y2="480.3" stroke="#868686" stroke-width="2.7"/>
<line x1="906" y1="540.7" x2="912.1" y2="540.7" stroke="#868686" stroke-width="2.7"/>
<line x1="906" y1="601.1" x2="912.1" y2="601.1" stroke="#868686" stroke-width="2.7"/>
<line x1="906" y1="661.5" x2="912.1" y2="661.5" stroke="#868686" stroke-width="2.7"/>
<line x1="906" y1="721.9" x2="912.1" y2="721.9" stroke="#868686" stroke-width="2.7"/>
<line x1="906" y1="782.3" x2="912.1" y2="782.3" stroke="#868686" stroke-width="2.7"/>
<line x1="906" y1="842.7" x2="912.1" y2="842.7" stroke="#868686" stroke-width="2.7"/>
<text transform="translate(565.6 488.2) scale(1 1.045)" text-anchor="end">10</text>
<text transform="translate(565.6 533.5) scale(1 1.045)" text-anchor="end">8</text>
<text transform="translate(565.6 578.8) scale(1 1.045)" text-anchor="end">6</text>
<text transform="translate(565.6 624.1) scale(1 1.045)" text-anchor="end">4</text>
<text transform="translate(565.6 669.4) scale(1 1.045)" text-anchor="end">2</text>
<text transform="translate(565.6 714.7) scale(1 1.045)" text-anchor="end">0</text>
<text transform="translate(565.6 760) scale(1 1.045)" text-anchor="end">-2</text>
<text transform="translate(565.6 805.3) scale(1 1.045)" text-anchor="end">-4</text>
<text transform="translate(565.6 850.6) scale(1 1.045)" text-anchor="end">-6</text>
<text transform="translate(585.1 831.2) scale(1 1.045)" text-anchor="middle">0</text>
<text transform="translate(649.1 831.2) scale(1 1.045)" text-anchor="middle">1</text>
<text transform="translate(713.2 831.2) scale(1 1.045)" text-anchor="middle">2</text>
<text transform="translate(777.2 831.2) scale(1 1.045)" text-anchor="middle">3</text>
<text transform="translate(841.3 831.2) scale(1 1.045)" text-anchor="middle">4</text>
<text transform="translate(905.3 831.2) scale(1 1.045)" text-anchor="middle">5</text>
<text transform="translate(924.3 488.2) scale(1 1.045)">60</text>
<text transform="translate(924.3 548.6) scale(1 1.045)">50</text>
<text transform="translate(924.3 609) scale(1 1.045)">40</text>
<text transform="translate(924.3 669.4) scale(1 1.045)">30</text>
<text transform="translate(924.3 729.8) scale(1 1.045)">20</text>
<text transform="translate(924.3 790.2) scale(1 1.045)">10</text>
<text transform="translate(924.3 850.6) scale(1 1.045)">0</text>
<text transform="translate(641.9 504.5) scale(1 1.045)" style="font-size:25px">B2</text>
<text transform="translate(746.5 881.4) scale(1 1.045)" text-anchor="middle">Productivity P</text>
<text transform="translate(529.3 660.1) rotate(-90) scale(1 1.045)" text-anchor="middle">b</text>
<text transform="translate(984.9 677.9) scale(1 1.045)"><tspan font-style="italic">S</tspan><tspan style="font-size:15px" dy="5">p</tspan></text>
<path d="M586.1 713.8l5.4 -5.6l5.4 5.6l-5.4 5.6zM592.5 722l5.4 -5.6l5.4 5.6l-5.4 5.6zM598.9 729.7l5.4 -5.6l5.4 5.6l-5.4 5.6zM605.3 736.8l5.4 -5.6l5.4 5.6l-5.4 5.6zM611.7 743.4l5.4 -5.6l5.4 5.6l-5.4 5.6zM618.1 749.6l5.4 -5.6l5.4 5.6l-5.4 5.6zM624.5 755.4l5.4 -5.6l5.4 5.6l-5.4 5.6zM630.9 760.7l5.4 -5.6l5.4 5.6l-5.4 5.6zM637.3 765.7l5.4 -5.6l5.4 5.6l-5.4 5.6zM643.7 770.3l5.4 -5.6l5.4 5.6l-5.4 5.6zM650.1 774.6l5.4 -5.6l5.4 5.6l-5.4 5.6zM656.5 778.6l5.4 -5.6l5.4 5.6l-5.4 5.6zM662.9 782.2l5.4 -5.6l5.4 5.6l-5.4 5.6zM669.3 785.4l5.4 -5.6l5.4 5.6l-5.4 5.6zM675.7 788.2l5.4 -5.6l5.4 5.6l-5.4 5.6zM682.2 790.5l5.4 -5.6l5.4 5.6l-5.4 5.6zM688.6 792.3l5.4 -5.6l5.4 5.6l-5.4 5.6zM695 793.5l5.4 -5.6l5.4 5.6l-5.4 5.6zM701.4 794.1l5.4 -5.6l5.4 5.6l-5.4 5.6zM707.8 793.9l5.4 -5.6l5.4 5.6l-5.4 5.6zM714.2 792.9l5.4 -5.6l5.4 5.6l-5.4 5.6zM720.6 791.1l5.4 -5.6l5.4 5.6l-5.4 5.6zM727 788.7l5.4 -5.6l5.4 5.6l-5.4 5.6zM733.4 785.6l5.4 -5.6l5.4 5.6l-5.4 5.6zM739.8 782l5.4 -5.6l5.4 5.6l-5.4 5.6zM746.2 778l5.4 -5.6l5.4 5.6l-5.4 5.6zM752.6 773.5l5.4 -5.6l5.4 5.6l-5.4 5.6zM759 768.6l5.4 -5.6l5.4 5.6l-5.4 5.6zM765.4 763.3l5.4 -5.6l5.4 5.6l-5.4 5.6zM771.8 757.5l5.4 -5.6l5.4 5.6l-5.4 5.6zM778.2 751.3l5.4 -5.6l5.4 5.6l-5.4 5.6zM784.6 744.6l5.4 -5.6l5.4 5.6l-5.4 5.6zM791 737.4l5.4 -5.6l5.4 5.6l-5.4 5.6zM797.5 729.5l5.4 -5.6l5.4 5.6l-5.4 5.6zM803.9 721l5.4 -5.6l5.4 5.6l-5.4 5.6zM810.3 711.8l5.4 -5.6l5.4 5.6l-5.4 5.6zM816.7 701.9l5.4 -5.6l5.4 5.6l-5.4 5.6zM823.1 691.3l5.4 -5.6l5.4 5.6l-5.4 5.6zM829.5 680.2l5.4 -5.6l5.4 5.6l-5.4 5.6zM835.9 668.6l5.4 -5.6l5.4 5.6l-5.4 5.6zM842.3 656.4l5.4 -5.6l5.4 5.6l-5.4 5.6zM848.7 643.8l5.4 -5.6l5.4 5.6l-5.4 5.6zM855.1 630.7l5.4 -5.6l5.4 5.6l-5.4 5.6zM861.5 617.2l5.4 -5.6l5.4 5.6l-5.4 5.6zM867.9 603.2l5.4 -5.6l5.4 5.6l-5.4 5.6zM874.3 588.7l5.4 -5.6l5.4 5.6l-5.4 5.6zM880.7 573.8l5.4 -5.6l5.4 5.6l-5.4 5.6zM887.1 558.4l5.4 -5.6l5.4 5.6l-5.4 5.6zM893.5 542.6l5.4 -5.6l5.4 5.6l-5.4 5.6zM899.9 526.3l5.4 -5.6l5.4 5.6l-5.4 5.6z" fill="none" stroke="#4a7ebb" stroke-width="2.8"/>
<path d="M586.2 515.2h10.6v10.6h-10.6zM592.6 522.4h10.6v10.6h-10.6zM599 529.7h10.6v10.6h-10.6zM605.4 537.2h10.6v10.6h-10.6zM611.8 544.8h10.6v10.6h-10.6zM618.2 552.5h10.6v10.6h-10.6zM624.6 560.3h10.6v10.6h-10.6zM631 568.3h10.6v10.6h-10.6zM637.4 576.3h10.6v10.6h-10.6zM643.8 584.5h10.6v10.6h-10.6zM650.2 592.7h10.6v10.6h-10.6zM656.6 601h10.6v10.6h-10.6zM663 609.2h10.6v10.6h-10.6zM669.4 617.4h10.6v10.6h-10.6zM675.8 625.5h10.6v10.6h-10.6zM682.3 633.4h10.6v10.6h-10.6zM688.7 641.2h10.6v10.6h-10.6zM695.1 649h10.6v10.6h-10.6zM701.5 656.9h10.6v10.6h-10.6zM707.9 664.8h10.6v10.6h-10.6zM714.3 672.9h10.6v10.6h-10.6zM720.7 681.1h10.6v10.6h-10.6zM727.1 689.1h10.6v10.6h-10.6zM733.5 697h10.6v10.6h-10.6zM739.9 704.5h10.6v10.6h-10.6zM746.3 711.6h10.6v10.6h-10.6zM752.7 718.2h10.6v10.6h-10.6zM759.1 724.5h10.6v10.6h-10.6zM765.5 730.6h10.6v10.6h-10.6zM771.9 736.4h10.6v10.6h-10.6zM778.3 742.2h10.6v10.6h-10.6zM784.7 747.8h10.6v10.6h-10.6zM791.1 753.2h10.6v10.6h-10.6zM797.6 758.4h10.6v10.6h-10.6zM804 763.3h10.6v10.6h-10.6zM810.4 768h10.6v10.6h-10.6zM816.8 772.3h10.6v10.6h-10.6zM823.2 776.4h10.6v10.6h-10.6zM829.6 780.1h10.6v10.6h-10.6zM836 783.5h10.6v10.6h-10.6zM842.4 786.6h10.6v10.6h-10.6zM848.8 789.5h10.6v10.6h-10.6zM855.2 792h10.6v10.6h-10.6zM861.6 794.1h10.6v10.6h-10.6zM868 796h10.6v10.6h-10.6zM874.4 797.4h10.6v10.6h-10.6zM880.8 798.6h10.6v10.6h-10.6zM887.2 799.3h10.6v10.6h-10.6zM893.6 799.7h10.6v10.6h-10.6zM900 799.7h10.6v10.6h-10.6z" fill="none" stroke="#c00000" stroke-width="3.1"/>
<path d="M719.9 564.3l5.4 -5.6l5.4 5.6l-5.4 5.6z" fill="none" stroke="#4a7ebb" stroke-width="2.8"/>
<text transform="translate(735.4 571.8) scale(1 1.045)">b</text>
<path d="M769.4 559h10.6v10.6h-10.6z" fill="none" stroke="#c00000" stroke-width="3.1"/>
<text transform="translate(784.8 571.8) scale(1 1.045)">Sp</text>
</g>
<!-- panel C2 -->
<g id="panel-C2">
<line x1="583.7" y1="945.3" x2="583.7" y2="1244.5" stroke="#868686" stroke-width="2.7"/>
<line x1="582.7" y1="1243.5" x2="908.5" y2="1243.5" stroke="#868686" stroke-width="2.7"/>
<line x1="907.5" y1="944.3" x2="907.5" y2="1244.5" stroke="#868686" stroke-width="2.7"/>
<line x1="907.5" y1="945.3" x2="913.6" y2="945.3" stroke="#868686" stroke-width="2.7"/>
<line x1="907.5" y1="1005" x2="913.6" y2="1005" stroke="#868686" stroke-width="2.7"/>
<line x1="907.5" y1="1064.6" x2="913.6" y2="1064.6" stroke="#868686" stroke-width="2.7"/>
<line x1="907.5" y1="1124.3" x2="913.6" y2="1124.3" stroke="#868686" stroke-width="2.7"/>
<line x1="907.5" y1="1183.9" x2="913.6" y2="1183.9" stroke="#868686" stroke-width="2.7"/>
<line x1="907.5" y1="1243.5" x2="913.6" y2="1243.5" stroke="#868686" stroke-width="2.7"/>
<text transform="translate(563.9 952.6) scale(1 1.045)" text-anchor="end">0</text>
<text transform="translate(563.9 989.9) scale(1 1.045)" text-anchor="end">-1</text>
<text transform="translate(563.9 1027.2) scale(1 1.045)" text-anchor="end">-2</text>
<text transform="translate(563.9 1064.4) scale(1 1.045)" text-anchor="end">-3</text>
<text transform="translate(563.9 1101.7) scale(1 1.045)" text-anchor="end">-4</text>
<text transform="translate(563.9 1139) scale(1 1.045)" text-anchor="end">-5</text>
<text transform="translate(563.9 1176.3) scale(1 1.045)" text-anchor="end">-6</text>
<text transform="translate(563.9 1213.6) scale(1 1.045)" text-anchor="end">-7</text>
<text transform="translate(563.9 1250.8) scale(1 1.045)" text-anchor="end">-8</text>
<text transform="translate(583.7 1277.1) scale(1 1.045)" text-anchor="middle">0</text>
<text transform="translate(648.5 1277.1) scale(1 1.045)" text-anchor="middle">1</text>
<text transform="translate(713.2 1277.1) scale(1 1.045)" text-anchor="middle">2</text>
<text transform="translate(778 1277.1) scale(1 1.045)" text-anchor="middle">3</text>
<text transform="translate(842.8 1277.1) scale(1 1.045)" text-anchor="middle">4</text>
<text transform="translate(907.5 1277.1) scale(1 1.045)" text-anchor="middle">5</text>
<text transform="translate(926.6 952.6) scale(1 1.045)">60</text>
<text transform="translate(926.6 1012.3) scale(1 1.045)">40</text>
<text transform="translate(926.6 1071.9) scale(1 1.045)">20</text>
<text transform="translate(926.6 1131.6) scale(1 1.045)">0</text>
<text transform="translate(926.6 1191.2) scale(1 1.045)">-20</text>
<text transform="translate(926.6 1250.8) scale(1 1.045)">-40</text>
<text transform="translate(730.3 975.6) scale(1 1.045)" style="font-size:25px">C2</text>
<text transform="translate(745.5 1312.8) scale(1 1.045)" text-anchor="middle">Productivity P</text>
<text transform="translate(531.3 1093.9) rotate(-90) scale(1 1.045)" text-anchor="middle">b</text>
<text transform="translate(984.9 1101.9) scale(1 1.045)"><tspan font-style="italic">S</tspan><tspan style="font-size:15px" dy="5">p</tspan></text>
<path d="M584.8 956.1l5.4 -5.6l5.4 5.6l-5.4 5.6zM591.3 969.7l5.4 -5.6l5.4 5.6l-5.4 5.6zM597.8 983.1l5.4 -5.6l5.4 5.6l-5.4 5.6zM604.2 996.3l5.4 -5.6l5.4 5.6l-5.4 5.6zM610.7 1009.2l5.4 -5.6l5.4 5.6l-5.4 5.6zM617.2 1021.8l5.4 -5.6l5.4 5.6l-5.4 5.6zM623.7 1034.1l5.4 -5.6l5.4 5.6l-5.4 5.6zM630.1 1046l5.4 -5.6l5.4 5.6l-5.4 5.6zM636.6 1057.5l5.4 -5.6l5.4 5.6l-5.4 5.6zM643.1 1068.7l5.4 -5.6l5.4 5.6l-5.4 5.6zM649.6 1079.5l5.4 -5.6l5.4 5.6l-5.4 5.6zM656 1089.8l5.4 -5.6l5.4 5.6l-5.4 5.6zM662.5 1099.8l5.4 -5.6l5.4 5.6l-5.4 5.6zM669 1109.3l5.4 -5.6l5.4 5.6l-5.4 5.6zM675.5 1118.5l5.4 -5.6l5.4 5.6l-5.4 5.6zM681.9 1127.2l5.4 -5.6l5.4 5.6l-5.4 5.6zM688.4 1135.6l5.4 -5.6l5.4 5.6l-5.4 5.6zM694.9 1143.7l5.4 -5.6l5.4 5.6l-5.4 5.6zM701.4 1151.4l5.4 -5.6l5.4 5.6l-5.4 5.6zM707.8 1158.8l5.4 -5.6l5.4 5.6l-5.4 5.6zM714.3 1165.9l5.4 -5.6l5.4 5.6l-5.4 5.6zM720.8 1172.7l5.4 -5.6l5.4 5.6l-5.4 5.6zM727.3 1179l5.4 -5.6l5.4 5.6l-5.4 5.6zM733.7 1184.8l5.4 -5.6l5.4 5.6l-5.4 5.6zM740.2 1190.1l5.4 -5.6l5.4 5.6l-5.4 5.6zM746.7 1194.7l5.4 -5.6l5.4 5.6l-5.4 5.6zM753.2 1198.7l5.4 -5.6l5.4 5.6l-5.4 5.6zM759.7 1202.3l5.4 -5.6l5.4 5.6l-5.4 5.6zM766.1 1205.4l5.4 -5.6l5.4 5.6l-5.4 5.6zM772.6 1208.2l5.4 -5.6l5.4 5.6l-5.4 5.6zM779.1 1210.8l5.4 -5.6l5.4 5.6l-5.4 5.6zM785.6 1213l5.4 -5.6l5.4 5.6l-5.4 5.6zM792 1214.8l5.4 -5.6l5.4 5.6l-5.4 5.6zM798.5 1216l5.4 -5.6l5.4 5.6l-5.4 5.6zM805 1216.7l5.4 -5.6l5.4 5.6l-5.4 5.6zM811.5 1216.6l5.4 -5.6l5.4 5.6l-5.4 5.6zM817.9 1215.9l5.4 -5.6l5.4 5.6l-5.4 5.6zM824.4 1214.5l5.4 -5.6l5.4 5.6l-5.4 5.6zM830.9 1212.6l5.4 -5.6l5.4 5.6l-5.4 5.6zM837.4 1210.3l5.4 -5.6l5.4 5.6l-5.4 5.6zM843.8 1207.4l5.4 -5.6l5.4 5.6l-5.4 5.6zM850.3 1204.2l5.4 -5.6l5.4 5.6l-5.4 5.6zM856.8 1200.5l5.4 -5.6l5.4 5.6l-5.4 5.6zM863.3 1196.3l5.4 -5.6l5.4 5.6l-5.4 5.6zM869.7 1191.8l5.4 -5.6l5.4 5.6l-5.4 5.6zM876.2 1186.8l5.4 -5.6l5.4 5.6l-5.4 5.6zM882.7 1181.4l5.4 -5.6l5.4 5.6l-5.4 5.6zM889.2 1175.6l5.4 -5.6l5.4 5.6l-5.4 5.6zM895.6 1169.4l5.4 -5.6l5.4 5.6l-5.4 5.6zM902.1 1162.9l5.4 -5.6l5.4 5.6l-5.4 5.6z" fill="none" stroke="#4a7ebb" stroke-width="2.8"/>
<path d="M584.9 958.5h10.6v10.6h-10.6zM591.4 962.4h10.6v10.6h-10.6zM597.9 966.5h10.6v10.6h-10.6zM604.3 970.6h10.6v10.6h-10.6zM610.8 974.7h10.6v10.6h-10.6zM617.3 979h10.6v10.6h-10.6zM623.8 983.3h10.6v10.6h-10.6zM630.2 987.6h10.6v10.6h-10.6zM636.7 992h10.6v10.6h-10.6zM643.2 996.5h10.6v10.6h-10.6zM649.7 1000.9h10.6v10.6h-10.6zM656.1 1005.4h10.6v10.6h-10.6zM662.6 1009.9h10.6v10.6h-10.6zM669.1 1014.5h10.6v10.6h-10.6zM675.6 1019h10.6v10.6h-10.6zM682 1023.6h10.6v10.6h-10.6zM688.5 1028.2h10.6v10.6h-10.6zM695 1032.8h10.6v10.6h-10.6zM701.5 1037.5h10.6v10.6h-10.6zM707.9 1042.1h10.6v10.6h-10.6zM714.4 1046.8h10.6v10.6h-10.6zM720.9 1051.5h10.6v10.6h-10.6zM727.4 1056.2h10.6v10.6h-10.6zM733.8 1061h10.6v10.6h-10.6zM740.3 1065.7h10.6v10.6h-10.6zM746.8 1070.5h10.6v10.6h-10.6zM753.3 1075.3h10.6v10.6h-10.6zM759.8 1080.1h10.6v10.6h-10.6zM766.2 1084.9h10.6v10.6h-10.6zM772.7 1089.7h10.6v10.6h-10.6zM779.2 1094.6h10.6v10.6h-10.6zM785.7 1099.4h10.6v10.6h-10.6zM792.1 1104.3h10.6v10.6h-10.6zM798.6 1109.1h10.6v10.6h-10.6zM805.1 1114h10.6v10.6h-10.6zM811.6 1118.8h10.6v10.6h-10.6zM818 1123.7h10.6v10.6h-10.6zM824.5 1128.5h10.6v10.6h-10.6zM831 1133.4h10.6v10.6h-10.6zM837.5 1138.2h10.6v10.6h-10.6zM843.9 1143.1h10.6v10.6h-10.6zM850.4 1147.9h10.6v10.6h-10.6zM856.9 1152.7h10.6v10.6h-10.6zM863.4 1157.6h10.6v10.6h-10.6zM869.8 1162.4h10.6v10.6h-10.6zM876.3 1167.2h10.6v10.6h-10.6zM882.8 1172h10.6v10.6h-10.6zM889.3 1176.9h10.6v10.6h-10.6zM895.7 1181.7h10.6v10.6h-10.6zM902.2 1186.5h10.6v10.6h-10.6z" fill="none" stroke="#c00000" stroke-width="3.1"/>
<path d="M614.6 1159.5l5.4 -5.6l5.4 5.6l-5.4 5.6z" fill="none" stroke="#4a7ebb" stroke-width="2.8"/>
<text transform="translate(630.1 1167) scale(1 1.045)">b</text>
<path d="M614.1 1199.9h10.6v10.6h-10.6z" fill="none" stroke="#c00000" stroke-width="3.1"/>
<text transform="translate(629.5 1212.7) scale(1 1.045)">Sp</text>
</g>
<!-- panel D2 -->
<g id="panel-D2">
<line x1="584.4" y1="1403.6" x2="584.4" y2="1735.1" stroke="#868686" stroke-width="2.7"/>
<line x1="583.4" y1="1734.1" x2="908.5" y2="1734.1" stroke="#868686" stroke-width="2.7"/>
<line x1="907.5" y1="1402.6" x2="907.5" y2="1734.8" stroke="#868686" stroke-width="2.7"/>
<line x1="907.5" y1="1403.6" x2="914.8" y2="1403.6" stroke="#868686" stroke-width="2.7"/>
<line x1="907.5" y1="1458.7" x2="914.8" y2="1458.7" stroke="#868686" stroke-width="2.7"/>
<line x1="907.5" y1="1513.7" x2="914.8" y2="1513.7" stroke="#868686" stroke-width="2.7"/>
<line x1="907.5" y1="1568.7" x2="914.8" y2="1568.7" stroke="#868686" stroke-width="2.7"/>
<line x1="907.5" y1="1623.7" x2="914.8" y2="1623.7" stroke="#868686" stroke-width="2.7"/>
<line x1="907.5" y1="1678.8" x2="914.8" y2="1678.8" stroke="#868686" stroke-width="2.7"/>
<line x1="907.5" y1="1733.8" x2="914.8" y2="1733.8" stroke="#868686" stroke-width="2.7"/>
<text transform="translate(565.6 1411.3) scale(1 1.045)" text-anchor="end">100</text>
<text transform="translate(565.6 1477.4) scale(1 1.045)" text-anchor="end">80</text>
<text transform="translate(565.6 1543.4) scale(1 1.045)" text-anchor="end">60</text>
<text transform="translate(565.6 1609.4) scale(1 1.045)" text-anchor="end">40</text>
<text transform="translate(565.6 1675.5) scale(1 1.045)" text-anchor="end">20</text>
<text transform="translate(565.6 1741.5) scale(1 1.045)" text-anchor="end">0</text>
<text transform="translate(584.4 1767.3) scale(1 1.045)" text-anchor="middle">0</text>
<text transform="translate(649 1767.3) scale(1 1.045)" text-anchor="middle">1</text>
<text transform="translate(713.6 1767.3) scale(1 1.045)" text-anchor="middle">2</text>
<text transform="translate(778.3 1767.3) scale(1 1.045)" text-anchor="middle">3</text>
<text transform="translate(842.9 1767.3) scale(1 1.045)" text-anchor="middle">4</text>
<text transform="translate(907.5 1767.3) scale(1 1.045)" text-anchor="middle">5</text>
<text transform="translate(926.1 1411.3) scale(1 1.045)">60</text>
<text transform="translate(926.1 1466.4) scale(1 1.045)">50</text>
<text transform="translate(926.1 1521.4) scale(1 1.045)">40</text>
<text transform="translate(926.1 1576.4) scale(1 1.045)">30</text>
<text transform="translate(926.1 1631.4) scale(1 1.045)">20</text>
<text transform="translate(926.1 1686.5) scale(1 1.045)">10</text>
<text transform="translate(926.1 1741.5) scale(1 1.045)">0</text>
<text transform="translate(692.7 1427.2) scale(1 1.045)" style="font-size:25px">D2</text>
<text transform="translate(746.1 1803.7) scale(1 1.045)" text-anchor="middle">Productivity P</text>
<text transform="translate(516.8 1568.4) rotate(-90) scale(1 1.045)" text-anchor="middle">b</text>
<text transform="translate(984.9 1584.5) scale(1 1.045)"><tspan font-style="italic">S</tspan><tspan style="font-size:15px" dy="5">p</tspan></text>
<path d="M585.5 1729.8l5.4 -5.6l5.4 5.6l-5.4 5.6zM591.9 1726.5l5.4 -5.6l5.4 5.6l-5.4 5.6zM598.4 1723.1l5.4 -5.6l5.4 5.6l-5.4 5.6zM604.8 1719.6l5.4 -5.6l5.4 5.6l-5.4 5.6zM611.3 1715.9l5.4 -5.6l5.4 5.6l-5.4 5.6zM617.8 1712.2l5.4 -5.6l5.4 5.6l-5.4 5.6zM624.2 1708.2l5.4 -5.6l5.4 5.6l-5.4 5.6zM630.7 1704.2l5.4 -5.6l5.4 5.6l-5.4 5.6zM637.2 1700l5.4 -5.6l5.4 5.6l-5.4 5.6zM643.6 1695.7l5.4 -5.6l5.4 5.6l-5.4 5.6zM650.1 1691.3l5.4 -5.6l5.4 5.6l-5.4 5.6zM656.5 1686.7l5.4 -5.6l5.4 5.6l-5.4 5.6zM663 1682l5.4 -5.6l5.4 5.6l-5.4 5.6zM669.5 1677.1l5.4 -5.6l5.4 5.6l-5.4 5.6zM675.9 1672.1l5.4 -5.6l5.4 5.6l-5.4 5.6zM682.4 1667l5.4 -5.6l5.4 5.6l-5.4 5.6zM688.9 1661.7l5.4 -5.6l5.4 5.6l-5.4 5.6zM695.3 1656.2l5.4 -5.6l5.4 5.6l-5.4 5.6zM701.8 1650.6l5.4 -5.6l5.4 5.6l-5.4 5.6zM708.2 1644.9l5.4 -5.6l5.4 5.6l-5.4 5.6zM714.7 1639l5.4 -5.6l5.4 5.6l-5.4 5.6zM721.2 1633l5.4 -5.6l5.4 5.6l-5.4 5.6zM727.6 1626.8l5.4 -5.6l5.4 5.6l-5.4 5.6zM734.1 1620.4l5.4 -5.6l5.4 5.6l-5.4 5.6zM740.6 1613.9l5.4 -5.6l5.4 5.6l-5.4 5.6zM747 1607.2l5.4 -5.6l5.4 5.6l-5.4 5.6zM753.5 1600.4l5.4 -5.6l5.4 5.6l-5.4 5.6zM759.9 1593.4l5.4 -5.6l5.4 5.6l-5.4 5.6zM766.4 1586.3l5.4 -5.6l5.4 5.6l-5.4 5.6zM772.9 1578.9l5.4 -5.6l5.4 5.6l-5.4 5.6zM779.3 1571.5l5.4 -5.6l5.4 5.6l-5.4 5.6zM785.8 1563.8l5.4 -5.6l5.4 5.6l-5.4 5.6zM792.3 1556l5.4 -5.6l5.4 5.6l-5.4 5.6zM798.7 1548l5.4 -5.6l5.4 5.6l-5.4 5.6zM805.2 1539.8l5.4 -5.6l5.4 5.6l-5.4 5.6zM811.6 1531.5l5.4 -5.6l5.4 5.6l-5.4 5.6zM818.1 1523l5.4 -5.6l5.4 5.6l-5.4 5.6zM824.6 1514.3l5.4 -5.6l5.4 5.6l-5.4 5.6zM831 1505.5l5.4 -5.6l5.4 5.6l-5.4 5.6zM837.5 1496.4l5.4 -5.6l5.4 5.6l-5.4 5.6zM844 1487.2l5.4 -5.6l5.4 5.6l-5.4 5.6zM850.4 1477.8l5.4 -5.6l5.4 5.6l-5.4 5.6zM856.9 1468.3l5.4 -5.6l5.4 5.6l-5.4 5.6zM863.3 1458.5l5.4 -5.6l5.4 5.6l-5.4 5.6zM869.8 1448.6l5.4 -5.6l5.4 5.6l-5.4 5.6zM876.3 1438.5l5.4 -5.6l5.4 5.6l-5.4 5.6zM882.7 1428.2l5.4 -5.6l5.4 5.6l-5.4 5.6zM889.2 1417.7l5.4 -5.6l5.4 5.6l-5.4 5.6zM895.7 1407l5.4 -5.6l5.4 5.6l-5.4 5.6z" fill="none" stroke="#4a7ebb" stroke-width="2.8"/>
<path d="M585.6 1697.5h10.6v10.6h-10.6zM592 1699h10.6v10.6h-10.6zM598.5 1700.2h10.6v10.6h-10.6zM604.9 1701.3h10.6v10.6h-10.6zM611.4 1702.3h10.6v10.6h-10.6zM617.9 1703.1h10.6v10.6h-10.6zM624.3 1703.7h10.6v10.6h-10.6zM630.8 1704.1h10.6v10.6h-10.6zM637.3 1704.3h10.6v10.6h-10.6zM643.7 1704.4h10.6v10.6h-10.6zM650.2 1704.3h10.6v10.6h-10.6zM656.6 1704h10.6v10.6h-10.6zM663.1 1703.5h10.6v10.6h-10.6zM669.6 1702.7h10.6v10.6h-10.6zM676 1701.8h10.6v10.6h-10.6zM682.5 1700.7h10.6v10.6h-10.6zM689 1699.3h10.6v10.6h-10.6zM695.4 1697.7h10.6v10.6h-10.6zM701.9 1695.9h10.6v10.6h-10.6zM708.3 1693.8h10.6v10.6h-10.6zM714.8 1691.5h10.6v10.6h-10.6zM721.3 1688.9h10.6v10.6h-10.6zM727.7 1686.1h10.6v10.6h-10.6zM734.2 1683.1h10.6v10.6h-10.6zM740.7 1679.7h10.6v10.6h-10.6zM747.1 1676.1h10.6v10.6h-10.6zM753.6 1672.3h10.6v10.6h-10.6zM760 1668.1h10.6v10.6h-10.6zM766.5 1663.6h10.6v10.6h-10.6zM773 1658.9h10.6v10.6h-10.6zM779.4 1653.9h10.6v10.6h-10.6zM785.9 1648.5h10.6v10.6h-10.6zM792.4 1642.9h10.6v10.6h-10.6zM798.8 1636.9h10.6v10.6h-10.6zM805.3 1630.6h10.6v10.6h-10.6zM811.7 1624h10.6v10.6h-10.6zM818.2 1617h10.6v10.6h-10.6zM824.7 1609.7h10.6v10.6h-10.6zM831.1 1602h10.6v10.6h-10.6zM837.6 1594h10.6v10.6h-10.6zM844.1 1585.6h10.6v10.6h-10.6zM850.5 1576.9h10.6v10.6h-10.6zM857 1567.8h10.6v10.6h-10.6zM863.4 1558.3h10.6v10.6h-10.6zM869.9 1548.4h10.6v10.6h-10.6zM876.4 1538.1h10.6v10.6h-10.6zM882.8 1527.4h10.6v10.6h-10.6zM889.3 1516.3h10.6v10.6h-10.6zM895.8 1504.8h10.6v10.6h-10.6zM902.2 1492.9h10.6v10.6h-10.6z" fill="none" stroke="#c0504d" stroke-width="3.1"/>
<path d="M641.5 1525.3l5.4 -5.6l5.4 5.6l-5.4 5.6z" fill="none" stroke="#4a7ebb" stroke-width="2.8"/>
<text transform="translate(656.7 1532.8) scale(1 1.045)">b</text>
<path d="M678 1520h10.6v10.6h-10.6z" fill="none" stroke="#c0504d" stroke-width="3.1"/>
<text transform="translate(692.7 1532.8) scale(1 1.045)">Sp</text>
</g>
<!-- panel E2 -->
<g id="panel-E2">
<line x1="582.4" y1="1887.9" x2="582.4" y2="2227.1" stroke="#868686" stroke-width="2.7"/>
<line x1="581.4" y1="2226.1" x2="918.6" y2="2226.1" stroke="#868686" stroke-width="2.7"/>
<line x1="917.6" y1="1886.9" x2="917.6" y2="2227.1" stroke="#868686" stroke-width="2.7"/>
<line x1="917.6" y1="1887.9" x2="923.7" y2="1887.9" stroke="#868686" stroke-width="2.7"/>
<line x1="917.6" y1="1955.5" x2="923.7" y2="1955.5" stroke="#868686" stroke-width="2.7"/>
<line x1="917.6" y1="2023.2" x2="923.7" y2="2023.2" stroke="#868686" stroke-width="2.7"/>
<line x1="917.6" y1="2090.8" x2="923.7" y2="2090.8" stroke="#868686" stroke-width="2.7"/>
<line x1="917.6" y1="2158.5" x2="923.7" y2="2158.5" stroke="#868686" stroke-width="2.7"/>
<line x1="917.6" y1="2226.1" x2="923.7" y2="2226.1" stroke="#868686" stroke-width="2.7"/>
<text transform="translate(563.2 1895.2) scale(1 1.045)" text-anchor="end">10</text>
<text transform="translate(563.2 1929) scale(1 1.045)" text-anchor="end">5</text>
<text transform="translate(563.2 1962.8) scale(1 1.045)" text-anchor="end">0</text>
<text transform="translate(563.2 1996.7) scale(1 1.045)" text-anchor="end">-5</text>
<text transform="translate(563.2 2030.5) scale(1 1.045)" text-anchor="end">-10</text>
<text transform="translate(563.2 2064.3) scale(1 1.045)" text-anchor="end">-15</text>
<text transform="translate(563.2 2098.1) scale(1 1.045)" text-anchor="end">-20</text>
<text transform="translate(563.2 2132) scale(1 1.045)" text-anchor="end">-25</text>
<text transform="translate(563.2 2165.8) scale(1 1.045)" text-anchor="end">-30</text>
<text transform="translate(563.2 2199.6) scale(1 1.045)" text-anchor="end">-35</text>
<text transform="translate(563.2 2233.4) scale(1 1.045)" text-anchor="end">-40</text>
<text transform="translate(582.4 2260.3) scale(1 1.045)" text-anchor="middle">0</text>
<text transform="translate(649.3 2260.3) scale(1 1.045)" text-anchor="middle">1</text>
<text transform="translate(716.2 2260.3) scale(1 1.045)" text-anchor="middle">2</text>
<text transform="translate(783.1 2260.3) scale(1 1.045)" text-anchor="middle">3</text>
<text transform="translate(850 2260.3) scale(1 1.045)" text-anchor="middle">4</text>
<text transform="translate(916.9 2260.3) scale(1 1.045)" text-anchor="middle">5</text>
<text transform="translate(936.7 1895.2) scale(1 1.045)">100</text>
<text transform="translate(936.7 1962.8) scale(1 1.045)">80</text>
<text transform="translate(936.7 2030.5) scale(1 1.045)">60</text>
<text transform="translate(936.7 2098.1) scale(1 1.045)">40</text>
<text transform="translate(936.7 2165.8) scale(1 1.045)">20</text>
<text transform="translate(936.7 2233.4) scale(1 1.045)">0</text>
<text transform="translate(709.1 1914.1) scale(1 1.045)" style="font-size:25px">E2</text>
<text transform="translate(749.5 2295.7) scale(1 1.045)" text-anchor="middle">Productivity P</text>
<text transform="translate(516.8 2056.3) rotate(-90) scale(1 1.045)" text-anchor="middle">b</text>
<text transform="translate(984.2 2071.4) scale(1 1.045)"><tspan font-style="italic">S</tspan><tspan style="font-size:15px" dy="5">p</tspan></text>
<path d="M583.7 1954.5l5.4 -5.6l5.4 5.6l-5.4 5.6zM590.4 1953.5l5.4 -5.6l5.4 5.6l-5.4 5.6zM597.1 1953.8l5.4 -5.6l5.4 5.6l-5.4 5.6zM603.7 1955.8l5.4 -5.6l5.4 5.6l-5.4 5.6zM610.4 1958.5l5.4 -5.6l5.4 5.6l-5.4 5.6zM617.1 1957.5l5.4 -5.6l5.4 5.6l-5.4 5.6zM623.8 1960.5l5.4 -5.6l5.4 5.6l-5.4 5.6zM630.5 1968.9l5.4 -5.6l5.4 5.6l-5.4 5.6zM637.2 1971.6l5.4 -5.6l5.4 5.6l-5.4 5.6zM643.9 1976.3l5.4 -5.6l5.4 5.6l-5.4 5.6zM650.6 1979.7l5.4 -5.6l5.4 5.6l-5.4 5.6zM657.3 1982l5.4 -5.6l5.4 5.6l-5.4 5.6zM664 1994.1l5.4 -5.6l5.4 5.6l-5.4 5.6zM670.7 1997.5l5.4 -5.6l5.4 5.6l-5.4 5.6zM677.3 2014l5.4 -5.6l5.4 5.6l-5.4 5.6zM684 2017.3l5.4 -5.6l5.4 5.6l-5.4 5.6zM690.7 2021.7l5.4 -5.6l5.4 5.6l-5.4 5.6zM697.4 2025.1l5.4 -5.6l5.4 5.6l-5.4 5.6zM704.1 2031.1l5.4 -5.6l5.4 5.6l-5.4 5.6zM710.8 2034.5l5.4 -5.6l5.4 5.6l-5.4 5.6zM717.5 2042.6l5.4 -5.6l5.4 5.6l-5.4 5.6zM724.2 2056.3l5.4 -5.6l5.4 5.6l-5.4 5.6zM730.9 2061.1l5.4 -5.6l5.4 5.6l-5.4 5.6zM737.6 2064.8l5.4 -5.6l5.4 5.6l-5.4 5.6zM744.3 2082.9l5.4 -5.6l5.4 5.6l-5.4 5.6zM750.9 2087.3l5.4 -5.6l5.4 5.6l-5.4 5.6zM757.6 2102.4l5.4 -5.6l5.4 5.6l-5.4 5.6zM764.3 2106.8l5.4 -5.6l5.4 5.6l-5.4 5.6zM771 2110.8l5.4 -5.6l5.4 5.6l-5.4 5.6zM777.7 2129.3l5.4 -5.6l5.4 5.6l-5.4 5.6zM784.4 2134.4l5.4 -5.6l5.4 5.6l-5.4 5.6zM791.1 2153.9l5.4 -5.6l5.4 5.6l-5.4 5.6zM797.8 2167.3l5.4 -5.6l5.4 5.6l-5.4 5.6zM804.5 2187.1l5.4 -5.6l5.4 5.6l-5.4 5.6zM811.2 2194.2l5.4 -5.6l5.4 5.6l-5.4 5.6zM817.9 2204.3l5.4 -5.6l5.4 5.6l-5.4 5.6zM824.6 2225.1l5.4 -5.6l5.4 5.6l-5.4 5.6z" fill="none" stroke="#4a7ebb" stroke-width="2.8"/>
<path d="M583.8 2036.6h10.6v10.6h-10.6zM590.5 2041.6h10.6v10.6h-10.6zM597.2 2045h10.6v10.6h-10.6zM603.8 2046.7h10.6v10.6h-10.6zM610.5 2048.4h10.6v10.6h-10.6zM617.2 2051h10.6v10.6h-10.6zM623.9 2052.7h10.6v10.6h-10.6zM630.6 2045.7h10.6v10.6h-10.6zM637.3 2046.7h10.6v10.6h-10.6zM644 2044h10.6v10.6h-10.6zM650.7 2045h10.6v10.6h-10.6zM657.4 2046.7h10.6v10.6h-10.6zM664.1 2036.6h10.6v10.6h-10.6zM670.8 2037.6h10.6v10.6h-10.6zM677.4 2023.1h10.6v10.6h-10.6zM684.1 2024.8h10.6v10.6h-10.6zM690.8 2027.5h10.6v10.6h-10.6zM697.5 2028.9h10.6v10.6h-10.6zM704.2 2029.5h10.6v10.6h-10.6zM710.9 2030.2h10.6v10.6h-10.6zM717.6 2030.9h10.6v10.6h-10.6zM724.3 2019.8h10.6v10.6h-10.6zM731 2023.1h10.6v10.6h-10.6zM737.7 2025.8h10.6v10.6h-10.6zM744.4 2013.1h10.6v10.6h-10.6zM751 2015.4h10.6v10.6h-10.6zM757.7 2008.7h10.6v10.6h-10.6zM764.4 2011.4h10.6v10.6h-10.6zM771.1 2018.1h10.6v10.6h-10.6zM777.8 2004.6h10.6v10.6h-10.6zM784.5 2009.7h10.6v10.6h-10.6zM791.2 1997.9h10.6v10.6h-10.6zM797.9 1994.6h10.6v10.6h-10.6zM804.6 1984.5h10.6v10.6h-10.6zM811.3 1989.5h10.6v10.6h-10.6zM818 1991.2h10.6v10.6h-10.6zM824.7 1981.8h10.6v10.6h-10.6zM831.3 1983.8h10.6v10.6h-10.6zM838 1978.4h10.6v10.6h-10.6zM844.7 1972.7h10.6v10.6h-10.6zM851.4 1975.1h10.6v10.6h-10.6zM858.1 1966h10.6v10.6h-10.6zM864.8 1962.6h10.6v10.6h-10.6zM871.5 1963.6h10.6v10.6h-10.6zM878.2 1950.8h10.6v10.6h-10.6zM884.9 1944.8h10.6v10.6h-10.6zM891.6 1942.4h10.6v10.6h-10.6zM898.3 1935.7h10.6v10.6h-10.6zM904.9 1925.6h10.6v10.6h-10.6zM911.6 1921.3h10.6v10.6h-10.6z" fill="none" stroke="#c0504d" stroke-width="3.1"/>
<path d="M672.8 2149.5l5.4 -5.6l5.4 5.6l-5.4 5.6z" fill="none" stroke="#4a7ebb" stroke-width="2.8"/>
<text transform="translate(689 2157) scale(1 1.045)">b</text>
<path d="M672.9 2194.6h10.6v10.6h-10.6z" fill="none" stroke="#c0504d" stroke-width="3.1"/>
<text transform="translate(689 2207.4) scale(1 1.045)">Sp</text>
</g>
<!-- panel A3 -->
<g id="panel-A3">
<line x1="1156.8" y1="31.9" x2="1156.8" y2="330" stroke="#868686" stroke-width="2.7"/>
<line x1="1155.6" y1="328.8" x2="1605.4" y2="328.8" stroke="#868686" stroke-width="2.7"/>
<text transform="translate(1136.5 39.7) scale(1 1.045)" text-anchor="end">45</text>
<text transform="translate(1136.5 72.8) scale(1 1.045)" text-anchor="end">40</text>
<text transform="translate(1136.5 105.8) scale(1 1.045)" text-anchor="end">35</text>
<text transform="translate(1136.5 138.8) scale(1 1.045)" text-anchor="end">30</text>
<text transform="translate(1136.5 171.8) scale(1 1.045)" text-anchor="end">25</text>
<text transform="translate(1136.5 204.8) scale(1 1.045)" text-anchor="end">20</text>
<text transform="translate(1136.5 237.8) scale(1 1.045)" text-anchor="end">15</text>
<text transform="translate(1136.5 270.8) scale(1 1.045)" text-anchor="end">10</text>
<text transform="translate(1136.5 303.8) scale(1 1.045)" text-anchor="end">5</text>
<text transform="translate(1136.5 336.8) scale(1 1.045)" text-anchor="end">0</text>
<text transform="translate(1156.8 362.2) scale(1 1.045)" text-anchor="middle">0</text>
<text transform="translate(1246.4 362.2) scale(1 1.045)" text-anchor="middle">1</text>
<text transform="translate(1336.1 362.2) scale(1 1.045)" text-anchor="middle">2</text>
<text transform="translate(1425.7 362.2) scale(1 1.045)" text-anchor="middle">3</text>
<text transform="translate(1515.4 362.2) scale(1 1.045)" text-anchor="middle">4</text>
<text transform="translate(1605 362.2) scale(1 1.045)" text-anchor="middle">5</text>
<text transform="translate(1190.1 43.3) scale(1 1.045)" style="font-size:25px" xml:space="preserve">A3</text>
<text transform="translate(1359.4 417) scale(1 1.045)" text-anchor="middle" xml:space="preserve">Biomass  production (4×x<tspan style="font-size:14px" dy="-7">2</tspan><tspan dy="7"> g.m</tspan><tspan style="font-size:14px" dy="-7">-2</tspan><tspan dy="7">)</tspan></text>
<text transform="translate(1074.8 163.3) rotate(-90) scale(1 1.045)" text-anchor="middle" xml:space="preserve">Species  richness  s</text>
<polyline fill="none" points="1166.9,240.9 1182.3,219.4 1190.8,211.4 1192.6,210.3 1194.7,209 1195.6,208.4 1202.3,204.3 1211.4,195.5 1219.4,189.4 1227.1,183.8 1235.2,178.3 1236.4,177.5 1247.7,169.8 1254.3,166 1257.5,164.4 1268.7,158.7 1275.5,155.6 1286,150.9 1287,150.5 1294.5,147.6 1305.4,143.2 1307.4,142.6 1317.4,139.5 1319,139 1335.3,135 1341,134.4 1343.1,134.2 1365.2,132.8 1390.8,132.6 1392.9,132.6 1407.2,133 1431.6,137.2 1441.1,139.3 1445.9,140.6 1454,142.9 1459.2,144.2 1460.1,144.4 1494.5,159.3 1499.7,161.6 1503.7,163.4 1545.3,189.8 1561.7,201.7 1576.7,214.4" stroke="#c00000" stroke-width="2.0" stroke-dasharray="6.3 2.9"/>
<path d="M1161.6 235.6h10.6v10.6h-10.6zM1177 214.1h10.6v10.6h-10.6zM1185.5 206.1h10.6v10.6h-10.6zM1187.3 205h10.6v10.6h-10.6zM1189.4 203.7h10.6v10.6h-10.6zM1190.3 203.1h10.6v10.6h-10.6zM1197 199h10.6v10.6h-10.6zM1206.1 190.2h10.6v10.6h-10.6zM1214.1 184.1h10.6v10.6h-10.6zM1221.8 178.5h10.6v10.6h-10.6zM1229.9 173h10.6v10.6h-10.6zM1231.1 172.2h10.6v10.6h-10.6zM1242.4 164.5h10.6v10.6h-10.6zM1249 160.7h10.6v10.6h-10.6zM1252.2 159.1h10.6v10.6h-10.6zM1263.4 153.4h10.6v10.6h-10.6zM1270.2 150.3h10.6v10.6h-10.6zM1280.7 145.6h10.6v10.6h-10.6zM1281.7 145.2h10.6v10.6h-10.6zM1289.2 142.3h10.6v10.6h-10.6zM1300.1 137.9h10.6v10.6h-10.6zM1302.1 137.3h10.6v10.6h-10.6zM1312.1 134.2h10.6v10.6h-10.6zM1313.7 133.7h10.6v10.6h-10.6zM1330 129.7h10.6v10.6h-10.6zM1335.7 129.1h10.6v10.6h-10.6zM1337.8 128.9h10.6v10.6h-10.6zM1359.9 127.5h10.6v10.6h-10.6zM1385.5 127.3h10.6v10.6h-10.6zM1387.6 127.3h10.6v10.6h-10.6zM1401.9 127.7h10.6v10.6h-10.6zM1426.3 131.9h10.6v10.6h-10.6zM1435.8 134h10.6v10.6h-10.6zM1440.6 135.3h10.6v10.6h-10.6zM1448.7 137.6h10.6v10.6h-10.6zM1453.9 138.9h10.6v10.6h-10.6zM1454.8 139.1h10.6v10.6h-10.6zM1489.2 154h10.6v10.6h-10.6zM1494.4 156.3h10.6v10.6h-10.6zM1498.4 158.1h10.6v10.6h-10.6zM1540 184.5h10.6v10.6h-10.6zM1556.4 196.4h10.6v10.6h-10.6zM1571.4 209.1h10.6v10.6h-10.6z" fill="none" stroke="#c0504d" stroke-width="3.1"/>
<polyline fill="none" points="1166.9,233 1182.3,227.1 1190.8,217.5 1192.6,215.5 1194.7,213.6 1195.6,212.8 1202.3,204.5 1211.4,198 1219.4,191.8 1227.1,186.6 1235.2,181.4 1236.4,180.6 1247.7,173.8 1254.3,169.8 1257.5,167.9 1268.7,163.4 1275.5,160.3 1286,155.8 1287,155.3 1294.5,152.3 1305.4,149.4 1307.4,148.9 1317.4,146.7 1319,146.3 1335.3,143.4 1341,142.6 1343.1,142.6 1365.2,144 1390.8,145.6 1392.9,145.8 1407.2,147.9 1431.6,149.4 1441.1,151.6 1445.9,154.9 1454,159 1459.2,162.1 1460.1,164.6 1494.5,171.9 1499.7,178.2 1503.7,183.9 1545.3,191.3 1561.7,198 1576.7,207" stroke="#92d050" stroke-width="2.0" stroke-dasharray="6.3 2.9"/>
<path d="M1166.9 227.8l5.2 10.4h-10.4zM1182.3 221.9l5.2 10.4h-10.4zM1190.8 212.3l5.2 10.4h-10.4zM1192.6 210.3l5.2 10.4h-10.4zM1194.7 208.4l5.2 10.4h-10.4zM1195.6 207.6l5.2 10.4h-10.4zM1202.3 199.3l5.2 10.4h-10.4zM1211.4 192.8l5.2 10.4h-10.4zM1219.4 186.6l5.2 10.4h-10.4zM1227.1 181.4l5.2 10.4h-10.4zM1235.2 176.2l5.2 10.4h-10.4zM1236.4 175.4l5.2 10.4h-10.4zM1247.7 168.6l5.2 10.4h-10.4zM1254.3 164.6l5.2 10.4h-10.4zM1257.5 162.7l5.2 10.4h-10.4zM1268.7 158.2l5.2 10.4h-10.4zM1275.5 155.1l5.2 10.4h-10.4zM1286 150.6l5.2 10.4h-10.4zM1287 150.1l5.2 10.4h-10.4zM1294.5 147.1l5.2 10.4h-10.4zM1305.4 144.2l5.2 10.4h-10.4zM1307.4 143.7l5.2 10.4h-10.4zM1317.4 141.5l5.2 10.4h-10.4zM1319 141.1l5.2 10.4h-10.4zM1335.3 138.2l5.2 10.4h-10.4zM1341 137.4l5.2 10.4h-10.4zM1343.1 137.4l5.2 10.4h-10.4zM1365.2 138.8l5.2 10.4h-10.4zM1390.8 140.4l5.2 10.4h-10.4zM1392.9 140.6l5.2 10.4h-10.4zM1407.2 142.7l5.2 10.4h-10.4zM1431.6 144.2l5.2 10.4h-10.4zM1441.1 146.4l5.2 10.4h-10.4zM1445.9 149.7l5.2 10.4h-10.4zM1454 153.8l5.2 10.4h-10.4zM1459.2 156.9l5.2 10.4h-10.4zM1460.1 159.4l5.2 10.4h-10.4zM1494.5 166.7l5.2 10.4h-10.4zM1499.7 173l5.2 10.4h-10.4zM1503.7 178.7l5.2 10.4h-10.4zM1545.3 186.1l5.2 10.4h-10.4zM1561.7 192.8l5.2 10.4h-10.4zM1576.7 201.8l5.2 10.4h-10.4z" fill="none" stroke="#9bbb59" stroke-width="2.9"/>
<path d="M1161.5 235.5l5.4 -5.6l5.4 5.6l-5.4 5.6zM1176.9 181.8l5.4 -5.6l5.4 5.6l-5.4 5.6zM1185.4 201.4l5.4 -5.6l5.4 5.6l-5.4 5.6zM1187.2 214.7l5.4 -5.6l5.4 5.6l-5.4 5.6zM1189.3 224l5.4 -5.6l5.4 5.6l-5.4 5.6zM1206 246.4l5.4 -5.6l5.4 5.6l-5.4 5.6zM1196.9 271.1l5.4 -5.6l5.4 5.6l-5.4 5.6zM1190.2 289.7l5.4 -5.6l5.4 5.6l-5.4 5.6zM1214 159.1l5.4 -5.6l5.4 5.6l-5.4 5.6zM1221.7 142.5l5.4 -5.6l5.4 5.6l-5.4 5.6zM1229.8 148.8l5.4 -5.6l5.4 5.6l-5.4 5.6zM1242.3 152.7l5.4 -5.6l5.4 5.6l-5.4 5.6zM1252.1 144.6l5.4 -5.6l5.4 5.6l-5.4 5.6zM1231 209.8l5.4 -5.6l5.4 5.6l-5.4 5.6zM1248.9 200.5l5.4 -5.6l5.4 5.6l-5.4 5.6zM1263.3 176.6l5.4 -5.6l5.4 5.6l-5.4 5.6zM1280.6 176.6l5.4 -5.6l5.4 5.6l-5.4 5.6zM1281.6 135.5l5.4 -5.6l5.4 5.6l-5.4 5.6zM1270.1 91.4l5.4 -5.6l5.4 5.6l-5.4 5.6zM1289.1 87.4l5.4 -5.6l5.4 5.6l-5.4 5.6zM1302 120l5.4 -5.6l5.4 5.6l-5.4 5.6zM1300 146.3l5.4 -5.6l5.4 5.6l-5.4 5.6zM1313.6 147l5.4 -5.6l5.4 5.6l-5.4 5.6zM1312 169.9l5.4 -5.6l5.4 5.6l-5.4 5.6zM1335.6 164.7l5.4 -5.6l5.4 5.6l-5.4 5.6zM1329.9 194.2l5.4 -5.6l5.4 5.6l-5.4 5.6zM1337.7 60.9l5.4 -5.6l5.4 5.6l-5.4 5.6zM1359.8 123.6l5.4 -5.6l5.4 5.6l-5.4 5.6zM1453.8 57.5l5.4 -5.6l5.4 5.6l-5.4 5.6zM1440.5 83.1l5.4 -5.6l5.4 5.6l-5.4 5.6zM1454.7 84.3l5.4 -5.6l5.4 5.6l-5.4 5.6zM1387.5 115.4l5.4 -5.6l5.4 5.6l-5.4 5.6zM1426.2 116.4l5.4 -5.6l5.4 5.6l-5.4 5.6zM1498.3 116.4l5.4 -5.6l5.4 5.6l-5.4 5.6zM1571.3 120.4l5.4 -5.6l5.4 5.6l-5.4 5.6zM1401.8 147.9l5.4 -5.6l5.4 5.6l-5.4 5.6zM1489.1 156.5l5.4 -5.6l5.4 5.6l-5.4 5.6zM1448.6 188.1l5.4 -5.6l5.4 5.6l-5.4 5.6zM1385.4 232.4l5.4 -5.6l5.4 5.6l-5.4 5.6zM1435.7 235.2l5.4 -5.6l5.4 5.6l-5.4 5.6zM1539.9 242.8l5.4 -5.6l5.4 5.6l-5.4 5.6zM1556.3 243.7l5.4 -5.6l5.4 5.6l-5.4 5.6zM1494.3 269l5.4 -5.6l5.4 5.6l-5.4 5.6z" fill="none" stroke="#4a7ebb" stroke-width="2.8"/>
<path d="M1364.7 7.8l5.4 -5.6l5.4 5.6l-5.4 5.6z" fill="none" stroke="#4a7ebb" stroke-width="2.8"/>
<line x1="1322.9" y1="32.2" x2="1416.2" y2="32.2" stroke="#c00000" stroke-width="2.0" stroke-dasharray="6.3 2.9"/>
<path d="M1364.8 26.9h10.6v10.6h-10.6z" fill="none" stroke="#c0504d" stroke-width="3.1"/>
<line x1="1322.9" y1="56.5" x2="1416.2" y2="56.5" stroke="#92d050" stroke-width="2.0" stroke-dasharray="6.3 2.9"/>
<path d="M1370.1 51.3l5.2 10.4h-10.4z" fill="none" stroke="#9bbb59" stroke-width="2.9"/>
<text transform="translate(1426.9 15.4) scale(1 1.045)">Observed values</text>
<text transform="translate(1426.9 39.6) scale(1 1.045)">Regression curve</text>
<text transform="translate(1426.9 63.5) scale(1 1.045)">Fitted curve</text>
</g>
<!-- panel B3 -->
<g id="panel-B3">
<line x1="1158.2" y1="477.7" x2="1158.2" y2="796.3" stroke="#868686" stroke-width="2.7"/>
<line x1="1157" y1="795.1" x2="1605.4" y2="795.1" stroke="#868686" stroke-width="2.7"/>
<text transform="translate(1138.7 485.5) scale(1 1.045)" text-anchor="end">70</text>
<text transform="translate(1138.7 530.7) scale(1 1.045)" text-anchor="end">60</text>
<text transform="translate(1138.7 575.9) scale(1 1.045)" text-anchor="end">50</text>
<text transform="translate(1138.7 621.2) scale(1 1.045)" text-anchor="end">40</text>
<text transform="translate(1138.7 666.4) scale(1 1.045)" text-anchor="end">30</text>
<text transform="translate(1138.7 711.6) scale(1 1.045)" text-anchor="end">20</text>
<text transform="translate(1138.7 756.8) scale(1 1.045)" text-anchor="end">10</text>
<text transform="translate(1138.7 802.1) scale(1 1.045)" text-anchor="end">0</text>
<text transform="translate(1158.2 828.9) scale(1 1.045)" text-anchor="middle">0</text>
<text transform="translate(1247.6 828.9) scale(1 1.045)" text-anchor="middle">1</text>
<text transform="translate(1336.9 828.9) scale(1 1.045)" text-anchor="middle">2</text>
<text transform="translate(1426.3 828.9) scale(1 1.045)" text-anchor="middle">3</text>
<text transform="translate(1515.7 828.9) scale(1 1.045)" text-anchor="middle">4</text>
<text transform="translate(1605 828.9) scale(1 1.045)" text-anchor="middle">5</text>
<text transform="translate(1180.2 502.2) scale(1 1.045)" style="font-size:25px" xml:space="preserve">B3</text>
<text transform="translate(1381.8 867) scale(1 1.045)" text-anchor="middle" xml:space="preserve">Biomass production （4×x<tspan style="font-size:14px" dy="-7">2</tspan><tspan dy="7"> g.m</tspan><tspan style="font-size:14px" dy="-7">-2</tspan><tspan dy="7">)</tspan></text>
<text transform="translate(1075.5 636.3) rotate(-90) scale(1 1.045)" text-anchor="middle" xml:space="preserve">Species richness s</text>
<polyline fill="none" points="1501.5,573.9 1514.2,568.6 1539.6,562.7 1577.3,554.4" stroke="#c00000" stroke-width="3.1" stroke-dasharray="8 3"/>
<path d="M1160.4 690.1h10.6v10.6h-10.6zM1161.6 689.4h10.6v10.6h-10.6zM1162.4 688.9h10.6v10.6h-10.6zM1164.4 687.6h10.6v10.6h-10.6zM1166.1 686.6h10.6v10.6h-10.6zM1166.4 686.4h10.6v10.6h-10.6zM1168.4 685.1h10.6v10.6h-10.6zM1170.3 683.9h10.6v10.6h-10.6zM1172.3 682.6h10.6v10.6h-10.6zM1173 682.2h10.6v10.6h-10.6zM1174.3 681.4h10.6v10.6h-10.6zM1176.3 680.1h10.6v10.6h-10.6zM1178.3 678.9h10.6v10.6h-10.6zM1180.3 677.8h10.6v10.6h-10.6zM1180.3 677.8h10.6v10.6h-10.6zM1182.2 676.9h10.6v10.6h-10.6zM1182.3 676.9h10.6v10.6h-10.6zM1183.3 676.4h10.6v10.6h-10.6zM1184 676.1h10.6v10.6h-10.6zM1184.2 676h10.6v10.6h-10.6zM1186.2 675.1h10.6v10.6h-10.6zM1188.2 674.2h10.6v10.6h-10.6zM1189.2 673.7h10.6v10.6h-10.6zM1190.2 673.3h10.6v10.6h-10.6zM1192.2 672.4h10.6v10.6h-10.6zM1194.2 671.5h10.6v10.6h-10.6zM1196.2 670.6h10.6v10.6h-10.6zM1196.4 670.5h10.6v10.6h-10.6zM1196.4 670.5h10.6v10.6h-10.6zM1198.2 669.7h10.6v10.6h-10.6zM1200.1 668.8h10.6v10.6h-10.6zM1202.1 667.9h10.6v10.6h-10.6zM1202.7 667.7h10.6v10.6h-10.6zM1204.1 667h10.6v10.6h-10.6zM1206.1 666.1h10.6v10.6h-10.6zM1207.9 665.3h10.6v10.6h-10.6zM1208.1 665.2h10.6v10.6h-10.6zM1209 664.9h10.6v10.6h-10.6zM1210.1 664.4h10.6v10.6h-10.6zM1212.1 663.6h10.6v10.6h-10.6zM1214.1 662.7h10.6v10.6h-10.6zM1215.4 662.2h10.6v10.6h-10.6zM1216 661.9h10.6v10.6h-10.6zM1216.4 661.7h10.6v10.6h-10.6zM1218 661.1h10.6v10.6h-10.6zM1219.9 660.3h10.6v10.6h-10.6zM1220 660.3h10.6v10.6h-10.6zM1222 659.4h10.6v10.6h-10.6zM1224 658.6h10.6v10.6h-10.6zM1225.9 657.8h10.6v10.6h-10.6zM1226 657.8h10.6v10.6h-10.6zM1228 657h10.6v10.6h-10.6zM1229.6 656.3h10.6v10.6h-10.6zM1229.9 656.1h10.6v10.6h-10.6zM1230.6 655.8h10.6v10.6h-10.6zM1231.9 655.2h10.6v10.6h-10.6zM1232.9 654.7h10.6v10.6h-10.6zM1233.3 654.5h10.6v10.6h-10.6zM1233.9 654.1h10.6v10.6h-10.6zM1235.9 653.1h10.6v10.6h-10.6zM1237.9 652.1h10.6v10.6h-10.6zM1239.3 651.4h10.6v10.6h-10.6zM1239.9 651.1h10.6v10.6h-10.6zM1240.4 650.9h10.6v10.6h-10.6zM1241.9 650.1h10.6v10.6h-10.6zM1242.3 649.9h10.6v10.6h-10.6zM1243.9 649.1h10.6v10.6h-10.6zM1244.5 648.7h10.6v10.6h-10.6zM1245.7 648.1h10.6v10.6h-10.6zM1245.8 648h10.6v10.6h-10.6zM1247.5 647.2h10.6v10.6h-10.6zM1247.8 647h10.6v10.6h-10.6zM1247.8 647h10.6v10.6h-10.6zM1248.6 646.6h10.6v10.6h-10.6zM1249.8 646h10.6v10.6h-10.6zM1249.8 646h10.6v10.6h-10.6zM1250.5 645.6h10.6v10.6h-10.6zM1251.8 645h10.6v10.6h-10.6zM1253.8 644h10.6v10.6h-10.6zM1255.7 643h10.6v10.6h-10.6zM1255.8 643h10.6v10.6h-10.6zM1256.5 642.7h10.6v10.6h-10.6zM1257.2 642.4h10.6v10.6h-10.6zM1257.8 642.1h10.6v10.6h-10.6zM1259.8 641.2h10.6v10.6h-10.6zM1260.7 640.8h10.6v10.6h-10.6zM1261 640.6h10.6v10.6h-10.6zM1261.7 640.3h10.6v10.6h-10.6zM1263.2 639.6h10.6v10.6h-10.6zM1263.5 639.5h10.6v10.6h-10.6zM1263.7 639.4h10.6v10.6h-10.6zM1264.4 639.1h10.6v10.6h-10.6zM1264.7 638.9h10.6v10.6h-10.6zM1265.7 638.5h10.6v10.6h-10.6zM1267.7 637.5h10.6v10.6h-10.6zM1268.1 637.3h10.6v10.6h-10.6zM1269.7 636.7h10.6v10.6h-10.6zM1271.4 636.2h10.6v10.6h-10.6zM1271.7 636.1h10.6v10.6h-10.6zM1273.2 635.6h10.6v10.6h-10.6zM1273.7 635.5h10.6v10.6h-10.6zM1275.6 634.9h10.6v10.6h-10.6zM1277.6 634.3h10.6v10.6h-10.6zM1278.2 634.2h10.6v10.6h-10.6zM1279.6 633.7h10.6v10.6h-10.6zM1279.7 633.7h10.6v10.6h-10.6zM1280.9 633.4h10.6v10.6h-10.6zM1281.6 633.1h10.6v10.6h-10.6zM1281.9 633h10.6v10.6h-10.6zM1282.6 632.8h10.6v10.6h-10.6zM1282.6 632.8h10.6v10.6h-10.6zM1283.6 632.5h10.6v10.6h-10.6zM1284.1 632.4h10.6v10.6h-10.6zM1285.6 632h10.6v10.6h-10.6zM1287.1 631.6h10.6v10.6h-10.6zM1287.6 631.4h10.6v10.6h-10.6zM1289.6 630.9h10.6v10.6h-10.6zM1290.9 630.6h10.6v10.6h-10.6zM1291.5 630.4h10.6v10.6h-10.6zM1292.4 630.2h10.6v10.6h-10.6zM1293.5 629.8h10.6v10.6h-10.6zM1294.6 629.5h10.6v10.6h-10.6zM1295.3 629.3h10.6v10.6h-10.6zM1295.5 629.3h10.6v10.6h-10.6zM1296.8 628.9h10.6v10.6h-10.6zM1296.8 628.9h10.6v10.6h-10.6zM1297.5 628.8h10.6v10.6h-10.6zM1299.1 628.3h10.6v10.6h-10.6zM1299.5 628.2h10.6v10.6h-10.6zM1301.5 627.6h10.6v10.6h-10.6zM1302.1 627.4h10.6v10.6h-10.6zM1302.1 627.4h10.6v10.6h-10.6zM1302.1 627.4h10.6v10.6h-10.6zM1303.5 627h10.6v10.6h-10.6zM1304.3 626.8h10.6v10.6h-10.6zM1305.5 626.4h10.6v10.6h-10.6zM1307.3 625.9h10.6v10.6h-10.6zM1307.4 625.8h10.6v10.6h-10.6zM1308 625.6h10.6v10.6h-10.6zM1309.4 625.2h10.6v10.6h-10.6zM1311.4 624.6h10.6v10.6h-10.6zM1312.8 624.2h10.6v10.6h-10.6zM1313.4 624h10.6v10.6h-10.6zM1315.4 623.5h10.6v10.6h-10.6zM1315.5 623.5h10.6v10.6h-10.6zM1317.4 623h10.6v10.6h-10.6zM1319.4 622.4h10.6v10.6h-10.6zM1319.6 622.4h10.6v10.6h-10.6zM1321.4 621.9h10.6v10.6h-10.6zM1321.5 621.9h10.6v10.6h-10.6zM1321.5 621.9h10.6v10.6h-10.6zM1323.3 621.4h10.6v10.6h-10.6zM1325.2 620.9h10.6v10.6h-10.6zM1325.3 620.8h10.6v10.6h-10.6zM1326 620.7h10.6v10.6h-10.6zM1327.3 620.3h10.6v10.6h-10.6zM1329.3 619.8h10.6v10.6h-10.6zM1331.3 619.3h10.6v10.6h-10.6zM1333.3 618.7h10.6v10.6h-10.6zM1333.5 618.7h10.6v10.6h-10.6zM1334.2 618.5h10.6v10.6h-10.6zM1335.3 618.2h10.6v10.6h-10.6zM1335.7 618.1h10.6v10.6h-10.6zM1337.2 617.5h10.6v10.6h-10.6zM1338.7 616.8h10.6v10.6h-10.6zM1339.1 616.6h10.6v10.6h-10.6zM1339.2 616.5h10.6v10.6h-10.6zM1340.2 616.1h10.6v10.6h-10.6zM1341.2 615.6h10.6v10.6h-10.6zM1341.7 615.4h10.6v10.6h-10.6zM1343.2 614.7h10.6v10.6h-10.6zM1345.2 613.7h10.6v10.6h-10.6zM1345.4 613.6h10.6v10.6h-10.6zM1347.2 612.8h10.6v10.6h-10.6zM1349.2 611.8h10.6v10.6h-10.6zM1351.2 610.9h10.6v10.6h-10.6zM1351.4 610.8h10.6v10.6h-10.6zM1351.7 610.6h10.6v10.6h-10.6zM1352.1 610.4h10.6v10.6h-10.6zM1352.1 610.4h10.6v10.6h-10.6zM1353.1 609.9h10.6v10.6h-10.6zM1353.9 609.5h10.6v10.6h-10.6zM1355.1 609h10.6v10.6h-10.6zM1355.9 608.6h10.6v10.6h-10.6zM1357.1 608h10.6v10.6h-10.6zM1359.1 607.1h10.6v10.6h-10.6zM1361.1 606.1h10.6v10.6h-10.6zM1361.1 606.1h10.6v10.6h-10.6zM1361.8 605.8h10.6v10.6h-10.6zM1362.6 605.4h10.6v10.6h-10.6zM1363.1 605.2h10.6v10.6h-10.6zM1364.8 604.4h10.6v10.6h-10.6zM1365.1 604.3h10.6v10.6h-10.6zM1366.3 603.9h10.6v10.6h-10.6zM1367.1 603.6h10.6v10.6h-10.6zM1367.1 603.6h10.6v10.6h-10.6zM1369 603h10.6v10.6h-10.6zM1371 602.3h10.6v10.6h-10.6zM1372.3 601.9h10.6v10.6h-10.6zM1372.3 601.9h10.6v10.6h-10.6zM1373 601.7h10.6v10.6h-10.6zM1375 601h10.6v10.6h-10.6zM1377 600.3h10.6v10.6h-10.6zM1379 599.7h10.6v10.6h-10.6zM1381 599h10.6v10.6h-10.6zM1382.9 598.3h10.6v10.6h-10.6zM1384.9 597.7h10.6v10.6h-10.6zM1386.9 597h10.6v10.6h-10.6zM1388.9 596.4h10.6v10.6h-10.6zM1390.9 595.7h10.6v10.6h-10.6zM1392.9 595h10.6v10.6h-10.6zM1394.9 594.4h10.6v10.6h-10.6zM1396.9 593.7h10.6v10.6h-10.6zM1398.8 593h10.6v10.6h-10.6zM1400.8 592.4h10.6v10.6h-10.6zM1402.8 591.7h10.6v10.6h-10.6zM1404.8 591.1h10.6v10.6h-10.6zM1406.8 590.4h10.6v10.6h-10.6zM1408.8 589.7h10.6v10.6h-10.6zM1410.8 589.1h10.6v10.6h-10.6zM1412.8 588.5h10.6v10.6h-10.6zM1414.7 587.9h10.6v10.6h-10.6zM1416.7 587.3h10.6v10.6h-10.6zM1418.7 586.7h10.6v10.6h-10.6zM1420.7 586.1h10.6v10.6h-10.6zM1422.7 585.5h10.6v10.6h-10.6zM1424.7 584.9h10.6v10.6h-10.6zM1426.7 584.3h10.6v10.6h-10.6zM1428.6 583.7h10.6v10.6h-10.6zM1430.6 583.2h10.6v10.6h-10.6zM1432.6 582.6h10.6v10.6h-10.6zM1434.6 582h10.6v10.6h-10.6zM1436.6 581.4h10.6v10.6h-10.6zM1438.6 580.8h10.6v10.6h-10.6zM1440.6 580.2h10.6v10.6h-10.6zM1442.6 579.6h10.6v10.6h-10.6zM1444.5 579h10.6v10.6h-10.6zM1446.5 578.4h10.6v10.6h-10.6zM1448.5 577.8h10.6v10.6h-10.6zM1450.5 577.2h10.6v10.6h-10.6zM1452.5 576.6h10.6v10.6h-10.6zM1454.5 576h10.6v10.6h-10.6zM1456.5 575.7h10.6v10.6h-10.6zM1458.5 575.3h10.6v10.6h-10.6zM1460.4 574.9h10.6v10.6h-10.6zM1462.4 574.6h10.6v10.6h-10.6zM1464.4 574.2h10.6v10.6h-10.6zM1466.4 573.9h10.6v10.6h-10.6zM1468.4 573.5h10.6v10.6h-10.6zM1470.4 573.2h10.6v10.6h-10.6zM1472.4 572.8h10.6v10.6h-10.6zM1474.3 572.5h10.6v10.6h-10.6zM1476.3 572.1h10.6v10.6h-10.6zM1478.3 571.8h10.6v10.6h-10.6zM1480.3 571.4h10.6v10.6h-10.6zM1482.3 571h10.6v10.6h-10.6zM1484.3 570.7h10.6v10.6h-10.6zM1486.3 570.3h10.6v10.6h-10.6zM1488.3 570h10.6v10.6h-10.6zM1490.2 569.6h10.6v10.6h-10.6zM1492.2 569.3h10.6v10.6h-10.6zM1494.2 568.9h10.6v10.6h-10.6zM1496.2 568.6h10.6v10.6h-10.6z" fill="none" stroke="#c00000" stroke-width="3.1"/>
<g stroke-dasharray="4 2">
<path d="M1508.9 563.3h10.6v10.6h-10.6zM1534.3 557.4h10.6v10.6h-10.6zM1572 549.1h10.6v10.6h-10.6z" fill="none" stroke="#c00000" stroke-width="3.1"/>
</g>
<polyline fill="none" points="1501.5,560.2 1514.2,561.5 1539.6,561.5 1577.3,560.7" stroke="#92d050" stroke-width="3.1" stroke-dasharray="8 3"/>
<path d="M1165.7 692l5.2 10.4h-10.4zM1166.9 693.1l5.2 10.4h-10.4zM1167.7 692.1l5.2 10.4h-10.4zM1169.7 692.1l5.2 10.4h-10.4zM1171.4 692.1l5.2 10.4h-10.4zM1171.7 691.1l5.2 10.4h-10.4zM1173.7 690.3l5.2 10.4h-10.4zM1175.6 688.8l5.2 10.4h-10.4zM1177.6 688.6l5.2 10.4h-10.4zM1178.3 688.8l5.2 10.4h-10.4zM1179.6 688.8l5.2 10.4h-10.4zM1181.6 688.4l5.2 10.4h-10.4zM1183.6 686.9l5.2 10.4h-10.4zM1185.6 685.6l5.2 10.4h-10.4zM1185.6 686l5.2 10.4h-10.4zM1187.5 686.7l5.2 10.4h-10.4zM1187.6 685.2l5.2 10.4h-10.4zM1188.6 685.4l5.2 10.4h-10.4zM1189.3 686.2l5.2 10.4h-10.4zM1189.5 684.2l5.2 10.4h-10.4zM1191.5 684.7l5.2 10.4h-10.4zM1193.5 684.8l5.2 10.4h-10.4zM1194.5 683l5.2 10.4h-10.4zM1195.5 683.3l5.2 10.4h-10.4zM1197.5 683.5l5.2 10.4h-10.4zM1199.5 681.2l5.2 10.4h-10.4zM1201.5 681.4l5.2 10.4h-10.4zM1201.7 681.8l5.2 10.4h-10.4zM1201.7 681.6l5.2 10.4h-10.4zM1203.5 680.6l5.2 10.4h-10.4zM1205.4 679.4l5.2 10.4h-10.4zM1207.4 679.4l5.2 10.4h-10.4zM1208 678.9l5.2 10.4h-10.4zM1209.4 678.7l5.2 10.4h-10.4zM1211.4 677.8l5.2 10.4h-10.4zM1213.2 678.2l5.2 10.4h-10.4zM1213.4 678l5.2 10.4h-10.4zM1214.3 676.8l5.2 10.4h-10.4zM1215.4 676.9l5.2 10.4h-10.4zM1217.4 675.5l5.2 10.4h-10.4zM1219.4 675.1l5.2 10.4h-10.4zM1220.7 674.3l5.2 10.4h-10.4zM1221.3 674.7l5.2 10.4h-10.4zM1221.7 673.9l5.2 10.4h-10.4zM1223.3 673.5l5.2 10.4h-10.4zM1225.2 673.3l5.2 10.4h-10.4zM1225.3 672.6l5.2 10.4h-10.4zM1227.3 672.8l5.2 10.4h-10.4zM1229.3 670.5l5.2 10.4h-10.4zM1231.2 670.9l5.2 10.4h-10.4zM1231.3 670.2l5.2 10.4h-10.4zM1233.3 669.4l5.2 10.4h-10.4zM1234.9 669.2l5.2 10.4h-10.4zM1235.2 668.8l5.2 10.4h-10.4zM1235.9 668.3l5.2 10.4h-10.4zM1237.2 667l5.2 10.4h-10.4zM1238.2 666.8l5.2 10.4h-10.4zM1238.6 667.9l5.2 10.4h-10.4zM1239.2 667.3l5.2 10.4h-10.4zM1241.2 666.8l5.2 10.4h-10.4zM1243.2 666.6l5.2 10.4h-10.4zM1244.6 665.4l5.2 10.4h-10.4zM1245.2 663.7l5.2 10.4h-10.4zM1245.7 663.9l5.2 10.4h-10.4zM1247.2 663.4l5.2 10.4h-10.4zM1247.6 662.4l5.2 10.4h-10.4zM1249.2 662.8l5.2 10.4h-10.4zM1249.8 662.3l5.2 10.4h-10.4zM1251 661.3l5.2 10.4h-10.4zM1251.1 660.4l5.2 10.4h-10.4zM1252.8 660l5.2 10.4h-10.4zM1253.1 658.3l5.2 10.4h-10.4zM1253.1 658.7l5.2 10.4h-10.4zM1253.9 658.5l5.2 10.4h-10.4zM1255.1 658.2l5.2 10.4h-10.4zM1255.1 657.7l5.2 10.4h-10.4zM1255.8 656.4l5.2 10.4h-10.4zM1257.1 656l5.2 10.4h-10.4zM1259.1 654.5l5.2 10.4h-10.4zM1261 652.9l5.2 10.4h-10.4zM1261.1 652.6l5.2 10.4h-10.4zM1261.8 652.5l5.2 10.4h-10.4zM1262.5 651.9l5.2 10.4h-10.4zM1263.1 652.2l5.2 10.4h-10.4zM1265.1 650.5l5.2 10.4h-10.4zM1266 649.2l5.2 10.4h-10.4zM1266.3 648.8l5.2 10.4h-10.4zM1267 648.8l5.2 10.4h-10.4zM1268.5 647.8l5.2 10.4h-10.4zM1268.8 647.1l5.2 10.4h-10.4zM1269 647.2l5.2 10.4h-10.4zM1269.7 646.9l5.2 10.4h-10.4zM1270 644.7l5.2 10.4h-10.4zM1271 645.6l5.2 10.4h-10.4zM1273 642.7l5.2 10.4h-10.4zM1273.4 642.7l5.2 10.4h-10.4zM1275 642.1l5.2 10.4h-10.4zM1276.7 640.7l5.2 10.4h-10.4zM1277 639.3l5.2 10.4h-10.4zM1278.5 639.2l5.2 10.4h-10.4zM1279 637.6l5.2 10.4h-10.4zM1280.9 636.7l5.2 10.4h-10.4zM1282.9 636.2l5.2 10.4h-10.4zM1283.5 635l5.2 10.4h-10.4zM1284.9 634.3l5.2 10.4h-10.4zM1285 634.5l5.2 10.4h-10.4zM1286.2 633.8l5.2 10.4h-10.4zM1286.9 633.1l5.2 10.4h-10.4zM1287.2 631.3l5.2 10.4h-10.4zM1287.9 631.6l5.2 10.4h-10.4zM1287.9 631.7l5.2 10.4h-10.4zM1288.9 630.2l5.2 10.4h-10.4zM1289.4 630.8l5.2 10.4h-10.4zM1290.9 630l5.2 10.4h-10.4zM1292.4 629.4l5.2 10.4h-10.4zM1292.9 629.4l5.2 10.4h-10.4zM1294.9 626.4l5.2 10.4h-10.4zM1296.2 625.7l5.2 10.4h-10.4zM1296.8 626.2l5.2 10.4h-10.4zM1297.7 624.6l5.2 10.4h-10.4zM1298.8 624l5.2 10.4h-10.4zM1299.9 624l5.2 10.4h-10.4zM1300.6 622.7l5.2 10.4h-10.4zM1300.8 623.9l5.2 10.4h-10.4zM1302.1 623.2l5.2 10.4h-10.4zM1302.1 621.4l5.2 10.4h-10.4zM1302.8 622.1l5.2 10.4h-10.4zM1304.4 621.6l5.2 10.4h-10.4zM1304.8 621.7l5.2 10.4h-10.4zM1306.8 619.1l5.2 10.4h-10.4zM1307.4 618.5l5.2 10.4h-10.4zM1307.4 620l5.2 10.4h-10.4zM1307.4 620l5.2 10.4h-10.4zM1308.8 617.7l5.2 10.4h-10.4zM1309.6 617.7l5.2 10.4h-10.4zM1310.8 617.6l5.2 10.4h-10.4zM1312.6 616.8l5.2 10.4h-10.4zM1312.7 615.3l5.2 10.4h-10.4zM1313.3 615.9l5.2 10.4h-10.4zM1314.7 615.4l5.2 10.4h-10.4zM1316.7 613.7l5.2 10.4h-10.4zM1318.1 612l5.2 10.4h-10.4zM1318.7 611.4l5.2 10.4h-10.4zM1320.7 610.8l5.2 10.4h-10.4zM1320.8 611.8l5.2 10.4h-10.4zM1322.7 609.2l5.2 10.4h-10.4zM1324.7 608l5.2 10.4h-10.4zM1324.9 608.7l5.2 10.4h-10.4zM1326.7 607.1l5.2 10.4h-10.4zM1326.8 607.2l5.2 10.4h-10.4zM1326.8 606.9l5.2 10.4h-10.4zM1328.6 606.9l5.2 10.4h-10.4zM1330.5 606.2l5.2 10.4h-10.4zM1330.6 605.6l5.2 10.4h-10.4zM1331.3 604.7l5.2 10.4h-10.4zM1332.6 604.3l5.2 10.4h-10.4zM1334.6 603.8l5.2 10.4h-10.4zM1336.6 603.4l5.2 10.4h-10.4zM1338.6 602.4l5.2 10.4h-10.4zM1338.8 600.8l5.2 10.4h-10.4zM1339.5 599.9l5.2 10.4h-10.4zM1340.6 601l5.2 10.4h-10.4zM1341 601l5.2 10.4h-10.4zM1342.5 599.1l5.2 10.4h-10.4zM1344 599l5.2 10.4h-10.4zM1344.4 599l5.2 10.4h-10.4zM1344.5 598.4l5.2 10.4h-10.4zM1345.5 598.4l5.2 10.4h-10.4zM1346.5 596l5.2 10.4h-10.4zM1347 596.3l5.2 10.4h-10.4zM1348.5 595.5l5.2 10.4h-10.4zM1350.5 594.2l5.2 10.4h-10.4zM1350.7 595.7l5.2 10.4h-10.4zM1352.5 593l5.2 10.4h-10.4zM1354.5 593.5l5.2 10.4h-10.4zM1356.5 591.3l5.2 10.4h-10.4zM1356.7 591.8l5.2 10.4h-10.4zM1357 591.8l5.2 10.4h-10.4zM1357.4 591l5.2 10.4h-10.4zM1357.4 591.8l5.2 10.4h-10.4zM1358.4 591.3l5.2 10.4h-10.4zM1359.2 590.5l5.2 10.4h-10.4zM1360.4 590.8l5.2 10.4h-10.4zM1361.2 589.3l5.2 10.4h-10.4zM1362.4 588.7l5.2 10.4h-10.4zM1364.4 588.2l5.2 10.4h-10.4zM1366.4 587.3l5.2 10.4h-10.4zM1366.4 586.9l5.2 10.4h-10.4zM1367.1 588l5.2 10.4h-10.4zM1367.9 587.5l5.2 10.4h-10.4zM1368.4 585.8l5.2 10.4h-10.4zM1370.1 585.5l5.2 10.4h-10.4zM1370.4 585.2l5.2 10.4h-10.4zM1371.6 585.3l5.2 10.4h-10.4zM1372.4 584.7l5.2 10.4h-10.4zM1372.4 585.1l5.2 10.4h-10.4zM1374.3 585.4l5.2 10.4h-10.4zM1376.3 583.7l5.2 10.4h-10.4zM1377.6 583.9l5.2 10.4h-10.4zM1377.6 583.8l5.2 10.4h-10.4zM1378.3 583.9l5.2 10.4h-10.4zM1380.3 581.8l5.2 10.4h-10.4zM1382.3 582.7l5.2 10.4h-10.4zM1384.3 582.5l5.2 10.4h-10.4zM1386.3 581.2l5.2 10.4h-10.4zM1388.2 579.9l5.2 10.4h-10.4zM1390.2 580.1l5.2 10.4h-10.4zM1392.2 579.6l5.2 10.4h-10.4zM1394.2 578.9l5.2 10.4h-10.4zM1396.2 577.2l5.2 10.4h-10.4zM1398.2 578.4l5.2 10.4h-10.4zM1400.2 577.7l5.2 10.4h-10.4zM1402.2 576l5.2 10.4h-10.4zM1404.1 575.8l5.2 10.4h-10.4zM1406.1 574l5.2 10.4h-10.4zM1408.1 575.4l5.2 10.4h-10.4zM1410.1 574.5l5.2 10.4h-10.4zM1412.1 573.5l5.2 10.4h-10.4zM1414.1 573.2l5.2 10.4h-10.4zM1416.1 571.4l5.2 10.4h-10.4zM1418.1 571l5.2 10.4h-10.4zM1420 570.3l5.2 10.4h-10.4zM1422 570.4l5.2 10.4h-10.4zM1424 568.8l5.2 10.4h-10.4zM1426 569.9l5.2 10.4h-10.4zM1428 568.4l5.2 10.4h-10.4zM1430 567.8l5.2 10.4h-10.4zM1432 566.6l5.2 10.4h-10.4zM1433.9 567.4l5.2 10.4h-10.4zM1435.9 567.2l5.2 10.4h-10.4zM1437.9 566.4l5.2 10.4h-10.4zM1439.9 565.2l5.2 10.4h-10.4zM1441.9 565.9l5.2 10.4h-10.4zM1443.9 564.1l5.2 10.4h-10.4zM1445.9 565.1l5.2 10.4h-10.4zM1447.9 564.2l5.2 10.4h-10.4zM1449.8 563.1l5.2 10.4h-10.4zM1451.8 563.2l5.2 10.4h-10.4zM1453.8 563l5.2 10.4h-10.4zM1455.8 561.8l5.2 10.4h-10.4zM1457.8 562.6l5.2 10.4h-10.4zM1459.8 561.2l5.2 10.4h-10.4zM1461.8 561.8l5.2 10.4h-10.4zM1463.8 561.3l5.2 10.4h-10.4zM1465.7 559.3l5.2 10.4h-10.4zM1467.7 560l5.2 10.4h-10.4zM1469.7 558.9l5.2 10.4h-10.4zM1471.7 559.4l5.2 10.4h-10.4zM1473.7 558.5l5.2 10.4h-10.4zM1475.7 558l5.2 10.4h-10.4zM1477.7 558.8l5.2 10.4h-10.4zM1479.6 556.9l5.2 10.4h-10.4zM1481.6 557.7l5.2 10.4h-10.4zM1483.6 557.1l5.2 10.4h-10.4zM1485.6 556.3l5.2 10.4h-10.4zM1487.6 557.6l5.2 10.4h-10.4zM1489.6 557.1l5.2 10.4h-10.4zM1491.6 557.6l5.2 10.4h-10.4zM1493.6 556.8l5.2 10.4h-10.4zM1495.5 556.1l5.2 10.4h-10.4zM1497.5 557.3l5.2 10.4h-10.4zM1499.5 555.3l5.2 10.4h-10.4zM1501.5 555l5.2 10.4h-10.4zM1514.2 556.3l5.2 10.4h-10.4zM1539.6 556.3l5.2 10.4h-10.4zM1577.3 555.5l5.2 10.4h-10.4z" fill="none" stroke="#9bbb59" stroke-width="2.9"/>
<path d="M1161.5 712.5l5.4 -5.6l5.4 5.6l-5.4 5.6zM1166 675l5.4 -5.6l5.4 5.6l-5.4 5.6zM1172.9 665.8l5.4 -5.6l5.4 5.6l-5.4 5.6zM1180.2 683l5.4 -5.6l5.4 5.6l-5.4 5.6zM1182.1 694.2l5.4 -5.6l5.4 5.6l-5.4 5.6zM1183.2 703.4l5.4 -5.6l5.4 5.6l-5.4 5.6zM1196.3 695.7l5.4 -5.6l5.4 5.6l-5.4 5.6zM1196.3 722.6l5.4 -5.6l5.4 5.6l-5.4 5.6zM1189.1 744.5l5.4 -5.6l5.4 5.6l-5.4 5.6zM1183.9 761.4l5.4 -5.6l5.4 5.6l-5.4 5.6zM1202.6 645.6l5.4 -5.6l5.4 5.6l-5.4 5.6zM1207.8 656.8l5.4 -5.6l5.4 5.6l-5.4 5.6zM1208.9 631.1l5.4 -5.6l5.4 5.6l-5.4 5.6zM1215.3 636.6l5.4 -5.6l5.4 5.6l-5.4 5.6zM1216.3 690.7l5.4 -5.6l5.4 5.6l-5.4 5.6zM1219.8 672l5.4 -5.6l5.4 5.6l-5.4 5.6zM1225.8 640.4l5.4 -5.6l5.4 5.6l-5.4 5.6zM1229.5 665l5.4 -5.6l5.4 5.6l-5.4 5.6zM1230.5 682.2l5.4 -5.6l5.4 5.6l-5.4 5.6zM1232.8 632.9l5.4 -5.6l5.4 5.6l-5.4 5.6zM1233.2 648.6l5.4 -5.6l5.4 5.6l-5.4 5.6zM1239.2 641.9l5.4 -5.6l5.4 5.6l-5.4 5.6zM1240.3 613l5.4 -5.6l5.4 5.6l-5.4 5.6zM1242.2 659.8l5.4 -5.6l5.4 5.6l-5.4 5.6zM1244.4 644.1l5.4 -5.6l5.4 5.6l-5.4 5.6zM1245.6 598.1l5.4 -5.6l5.4 5.6l-5.4 5.6zM1247.4 585.8l5.4 -5.6l5.4 5.6l-5.4 5.6zM1247.7 725.5l5.4 -5.6l5.4 5.6l-5.4 5.6zM1248.5 688.2l5.4 -5.6l5.4 5.6l-5.4 5.6zM1249.7 664.3l5.4 -5.6l5.4 5.6l-5.4 5.6zM1250.4 656.1l5.4 -5.6l5.4 5.6l-5.4 5.6zM1255.6 632.1l5.4 -5.6l5.4 5.6l-5.4 5.6zM1256.4 624.7l5.4 -5.6l5.4 5.6l-5.4 5.6zM1257.1 661.3l5.4 -5.6l5.4 5.6l-5.4 5.6zM1260.6 613l5.4 -5.6l5.4 5.6l-5.4 5.6zM1260.9 677l5.4 -5.6l5.4 5.6l-5.4 5.6zM1263.1 583.6l5.4 -5.6l5.4 5.6l-5.4 5.6zM1263.4 584.8l5.4 -5.6l5.4 5.6l-5.4 5.6zM1264.3 665l5.4 -5.6l5.4 5.6l-5.4 5.6zM1264.6 682.2l5.4 -5.6l5.4 5.6l-5.4 5.6zM1268 688.5l5.4 -5.6l5.4 5.6l-5.4 5.6zM1271.3 634.4l5.4 -5.6l5.4 5.6l-5.4 5.6zM1273.1 611.2l5.4 -5.6l5.4 5.6l-5.4 5.6zM1278.1 620.2l5.4 -5.6l5.4 5.6l-5.4 5.6zM1279.6 667.6l5.4 -5.6l5.4 5.6l-5.4 5.6zM1280.8 683l5.4 -5.6l5.4 5.6l-5.4 5.6zM1281.8 655l5.4 -5.6l5.4 5.6l-5.4 5.6zM1282.5 609.7l5.4 -5.6l5.4 5.6l-5.4 5.6zM1282.5 634.4l5.4 -5.6l5.4 5.6l-5.4 5.6zM1284 638.1l5.4 -5.6l5.4 5.6l-5.4 5.6zM1287 677l5.4 -5.6l5.4 5.6l-5.4 5.6zM1290.8 635.9l5.4 -5.6l5.4 5.6l-5.4 5.6zM1292.3 664.3l5.4 -5.6l5.4 5.6l-5.4 5.6zM1294.5 650.8l5.4 -5.6l5.4 5.6l-5.4 5.6zM1295.2 677l5.4 -5.6l5.4 5.6l-5.4 5.6zM1296.7 623.2l5.4 -5.6l5.4 5.6l-5.4 5.6zM1296.7 592.5l5.4 -5.6l5.4 5.6l-5.4 5.6zM1299 649.3l5.4 -5.6l5.4 5.6l-5.4 5.6zM1302 504.4l5.4 -5.6l5.4 5.6l-5.4 5.6zM1302 559.2l5.4 -5.6l5.4 5.6l-5.4 5.6zM1302 591l5.4 -5.6l5.4 5.6l-5.4 5.6zM1304.2 635.1l5.4 -5.6l5.4 5.6l-5.4 5.6zM1307.2 597.8l5.4 -5.6l5.4 5.6l-5.4 5.6zM1307.9 655.3l5.4 -5.6l5.4 5.6l-5.4 5.6zM1312.7 583.9l5.4 -5.6l5.4 5.6l-5.4 5.6zM1315.4 647.8l5.4 -5.6l5.4 5.6l-5.4 5.6zM1319.5 614.2l5.4 -5.6l5.4 5.6l-5.4 5.6zM1321.4 591l5.4 -5.6l5.4 5.6l-5.4 5.6zM1321.4 651.6l5.4 -5.6l5.4 5.6l-5.4 5.6zM1325.1 629.9l5.4 -5.6l5.4 5.6l-5.4 5.6zM1325.9 648.6l5.4 -5.6l5.4 5.6l-5.4 5.6zM1333.4 648.6l5.4 -5.6l5.4 5.6l-5.4 5.6zM1334.1 585.1l5.4 -5.6l5.4 5.6l-5.4 5.6zM1335.6 623.2l5.4 -5.6l5.4 5.6l-5.4 5.6zM1338.6 591.8l5.4 -5.6l5.4 5.6l-5.4 5.6zM1339 575.8l5.4 -5.6l5.4 5.6l-5.4 5.6zM1340.1 709.9l5.4 -5.6l5.4 5.6l-5.4 5.6zM1341.6 603l5.4 -5.6l5.4 5.6l-5.4 5.6zM1345.3 614.2l5.4 -5.6l5.4 5.6l-5.4 5.6zM1351.3 644.1l5.4 -5.6l5.4 5.6l-5.4 5.6zM1351.6 652l5.4 -5.6l5.4 5.6l-5.4 5.6zM1352 671.7l5.4 -5.6l5.4 5.6l-5.4 5.6zM1352 694.6l5.4 -5.6l5.4 5.6l-5.4 5.6zM1353.8 635.9l5.4 -5.6l5.4 5.6l-5.4 5.6zM1355.8 558.2l5.4 -5.6l5.4 5.6l-5.4 5.6zM1361 672.5l5.4 -5.6l5.4 5.6l-5.4 5.6zM1362.5 665.8l5.4 -5.6l5.4 5.6l-5.4 5.6zM1361.7 609.7l5.4 -5.6l5.4 5.6l-5.4 5.6zM1364.7 511.5l5.4 -5.6l5.4 5.6l-5.4 5.6zM1366.2 628.4l5.4 -5.6l5.4 5.6l-5.4 5.6zM1367 573.1l5.4 -5.6l5.4 5.6l-5.4 5.6zM1372.2 662.8l5.4 -5.6l5.4 5.6l-5.4 5.6zM1372.2 606.7l5.4 -5.6l5.4 5.6l-5.4 5.6zM1446.5 505.1l5.4 -5.6l5.4 5.6l-5.4 5.6zM1449.8 514.5l5.4 -5.6l5.4 5.6l-5.4 5.6zM1467 515.6l5.4 -5.6l5.4 5.6l-5.4 5.6zM1483.1 500.3l5.4 -5.6l5.4 5.6l-5.4 5.6zM1509.1 523.3l5.4 -5.6l5.4 5.6l-5.4 5.6zM1571.9 513.3l5.4 -5.6l5.4 5.6l-5.4 5.6zM1405.7 524.8l5.4 -5.6l5.4 5.6l-5.4 5.6zM1416.6 528.6l5.4 -5.6l5.4 5.6l-5.4 5.6zM1429.2 539.5l5.4 -5.6l5.4 5.6l-5.4 5.6zM1479.4 530.2l5.4 -5.6l5.4 5.6l-5.4 5.6zM1481.2 535.3l5.4 -5.6l5.4 5.6l-5.4 5.6zM1419.6 551.7l5.4 -5.6l5.4 5.6l-5.4 5.6zM1394.2 556.4l5.4 -5.6l5.4 5.6l-5.4 5.6zM1438.3 557l5.4 -5.6l5.4 5.6l-5.4 5.6zM1456.1 555.5l5.4 -5.6l5.4 5.6l-5.4 5.6zM1468.2 550l5.4 -5.6l5.4 5.6l-5.4 5.6zM1469.7 561.9l5.4 -5.6l5.4 5.6l-5.4 5.6zM1486.8 561.5l5.4 -5.6l5.4 5.6l-5.4 5.6zM1542 558.5l5.4 -5.6l5.4 5.6l-5.4 5.6zM1440.8 563.4l5.4 -5.6l5.4 5.6l-5.4 5.6zM1449.8 567.1l5.4 -5.6l5.4 5.6l-5.4 5.6zM1452.8 568.6l5.4 -5.6l5.4 5.6l-5.4 5.6zM1368.3 572.4l5.4 -5.6l5.4 5.6l-5.4 5.6zM1428.9 574.2l5.4 -5.6l5.4 5.6l-5.4 5.6zM1383.3 578.3l5.4 -5.6l5.4 5.6l-5.4 5.6zM1396.7 578.3l5.4 -5.6l5.4 5.6l-5.4 5.6zM1400.5 582.1l5.4 -5.6l5.4 5.6l-5.4 5.6zM1415.1 580.1l5.4 -5.6l5.4 5.6l-5.4 5.6zM1383.7 588.8l5.4 -5.6l5.4 5.6l-5.4 5.6zM1400.5 594l5.4 -5.6l5.4 5.6l-5.4 5.6zM1402.7 601.2l5.4 -5.6l5.4 5.6l-5.4 5.6zM1387 603l5.4 -5.6l5.4 5.6l-5.4 5.6zM1378.8 606l5.4 -5.6l5.4 5.6l-5.4 5.6zM1382.5 609.7l5.4 -5.6l5.4 5.6l-5.4 5.6zM1479.4 592.2l5.4 -5.6l5.4 5.6l-5.4 5.6zM1430.1 607.8l5.4 -5.6l5.4 5.6l-5.4 5.6zM1425.4 616.2l5.4 -5.6l5.4 5.6l-5.4 5.6zM1385.2 620.2l5.4 -5.6l5.4 5.6l-5.4 5.6zM1366.1 628.4l5.4 -5.6l5.4 5.6l-5.4 5.6zM1488.3 611.2l5.4 -5.6l5.4 5.6l-5.4 5.6zM1490.1 615.7l5.4 -5.6l5.4 5.6l-5.4 5.6zM1422.9 635.6l5.4 -5.6l5.4 5.6l-5.4 5.6zM1422.9 644.1l5.4 -5.6l5.4 5.6l-5.4 5.6zM1410.6 655l5.4 -5.6l5.4 5.6l-5.4 5.6zM1534.2 644.1l5.4 -5.6l5.4 5.6l-5.4 5.6zM1389.7 671.3l5.4 -5.6l5.4 5.6l-5.4 5.6zM1380.3 712.8l5.4 -5.6l5.4 5.6l-5.4 5.6zM1462.9 719.3l5.4 -5.6l5.4 5.6l-5.4 5.6zM1476.4 719.9l5.4 -5.6l5.4 5.6l-5.4 5.6zM1426.6 742.7l5.4 -5.6l5.4 5.6l-5.4 5.6z" fill="none" stroke="#4a7ebb" stroke-width="2.8"/>
<path d="M1381 700.2l5.4 -5.6l5.4 5.6l-5.4 5.6z" fill="none" stroke="#4a7ebb" stroke-width="2.8"/>
<line x1="1339.9" y1="730.4" x2="1431.3" y2="730.4" stroke="#c00000" stroke-width="3.1" stroke-dasharray="8 3"/>
<g stroke-dasharray="4 2">
<path d="M1381.1 725.1h10.6v10.6h-10.6z" fill="#fff" stroke="#c00000" stroke-width="3.1"/>
</g>
<line x1="1339.9" y1="761.2" x2="1431.3" y2="761.2" stroke="#92d050" stroke-width="3.1" stroke-dasharray="8 3"/>
<path d="M1386.4 756l5.2 10.4h-10.4z" fill="none" stroke="#9bbb59" stroke-width="2.9"/>
<text transform="translate(1443.2 706.9) scale(1 1.045)">Observed values</text>
<text transform="translate(1443.2 736.8) scale(1 1.045)">Regression curve</text>
<text transform="translate(1443.2 767.9) scale(1 1.045)">Fitted curve</text>
</g>
<!-- panel C3 -->
<g id="panel-C3">
<line x1="1156.1" y1="951.9" x2="1156.1" y2="1246.3" stroke="#868686" stroke-width="2.7"/>
<line x1="1154.9" y1="1245.1" x2="1599" y2="1245.1" stroke="#868686" stroke-width="2.7"/>
<text transform="translate(1131.6 959.7) scale(1 1.045)" text-anchor="end">70</text>
<text transform="translate(1131.6 1001.5) scale(1 1.045)" text-anchor="end">60</text>
<text transform="translate(1131.6 1043.2) scale(1 1.045)" text-anchor="end">50</text>
<text transform="translate(1131.6 1085) scale(1 1.045)" text-anchor="end">40</text>
<text transform="translate(1131.6 1126.8) scale(1 1.045)" text-anchor="end">30</text>
<text transform="translate(1131.6 1168.6) scale(1 1.045)" text-anchor="end">20</text>
<text transform="translate(1131.6 1210.4) scale(1 1.045)" text-anchor="end">10</text>
<text transform="translate(1131.6 1252.1) scale(1 1.045)" text-anchor="end">0</text>
<text transform="translate(1153 1278.3) scale(1 1.045)" text-anchor="middle">0</text>
<text transform="translate(1241.5 1278.3) scale(1 1.045)" text-anchor="middle">1</text>
<text transform="translate(1330 1278.3) scale(1 1.045)" text-anchor="middle">2</text>
<text transform="translate(1418.5 1278.3) scale(1 1.045)" text-anchor="middle">3</text>
<text transform="translate(1507 1278.3) scale(1 1.045)" text-anchor="middle">4</text>
<text transform="translate(1595.4 1278.3) scale(1 1.045)" text-anchor="middle">5</text>
<text transform="translate(1189.1 970.3) scale(1 1.045)" style="font-size:25px" xml:space="preserve">C 3</text>
<text transform="translate(1377.2 1313.9) scale(1 1.045)" text-anchor="middle" xml:space="preserve">Biomass production (4×x<tspan style="font-size:14px" dy="-7">2</tspan><tspan dy="7"> g.m</tspan><tspan style="font-size:14px" dy="-7">-2</tspan><tspan dy="7">)</tspan></text>
<text transform="translate(1074.8 1103.4) rotate(-90) scale(1 1.045)" text-anchor="middle" xml:space="preserve">Species richness  s</text>
<g fill="#c0504d"><circle cx="1170.9" cy="1153.7" r="3.6"/><circle cx="1184.9" cy="1148.2" r="3.6"/><circle cx="1198.8" cy="1142.7" r="3.6"/><circle cx="1212.8" cy="1137.2" r="3.6"/><circle cx="1226.8" cy="1131.7" r="3.6"/><circle cx="1240.7" cy="1126.2" r="3.6"/><circle cx="1255" cy="1121.8" r="3.6"/><circle cx="1268.6" cy="1115.6" r="3.6"/><circle cx="1282.5" cy="1110.1" r="3.6"/><circle cx="1296.4" cy="1104.7" r="3.6"/><circle cx="1310" cy="1098.3" r="3.6"/><circle cx="1323.3" cy="1091.4" r="3.6"/><circle cx="1337.8" cy="1087.7" r="3.6"/><circle cx="1351.4" cy="1081.7" r="3.6"/><circle cx="1365.2" cy="1077.2" r="3.6"/><circle cx="1379" cy="1072.1" r="3.6"/><circle cx="1392.6" cy="1066" r="3.6"/><circle cx="1406.8" cy="1061.1" r="3.6"/><circle cx="1420.6" cy="1055.3" r="3.6"/><circle cx="1434.7" cy="1050.1" r="3.6"/><circle cx="1448.5" cy="1044.3" r="3.6"/><circle cx="1462.4" cy="1038.7" r="3.6"/><circle cx="1475.5" cy="1031.5" r="3.6"/><circle cx="1489.2" cy="1025.6" r="3.6"/><circle cx="1503.9" cy="1023.8" r="3.6"/><circle cx="1518.1" cy="1019" r="3.6"/><circle cx="1532.2" cy="1013.8" r="3.6"/><circle cx="1545.6" cy="1007.3" r="3.6"/><circle cx="1559.6" cy="1001.9" r="3.6"/><circle cx="1573.5" cy="996.3" r="3.6"/><circle cx="1587.4" cy="990.7" r="3.6"/></g>
<path d="M1165.6 1148.4h10.6v10.6h-10.6zM1241.5 1118.5h10.6v10.6h-10.6zM1246 1117.5h10.6v10.6h-10.6zM1254.3 1115.2h10.6v10.6h-10.6zM1267 1108.2h10.6v10.6h-10.6zM1271.4 1106.3h10.6v10.6h-10.6zM1277.4 1104.8h10.6v10.6h-10.6zM1294.6 1098h10.6v10.6h-10.6zM1306.6 1092.1h10.6v10.6h-10.6zM1314 1087.6h10.6v10.6h-10.6zM1320 1085.3h10.6v10.6h-10.6zM1325.2 1083.9h10.6v10.6h-10.6zM1336.4 1081.6h10.6v10.6h-10.6zM1354.4 1071.9h10.6v10.6h-10.6zM1363.3 1071.9h10.6v10.6h-10.6zM1364 1071.9h10.6v10.6h-10.6zM1379.6 1063.7h10.6v10.6h-10.6zM1393.1 1058.4h10.6v10.6h-10.6zM1400.6 1056.2h10.6v10.6h-10.6zM1412.5 1051h10.6v10.6h-10.6zM1434.9 1042.8h10.6v10.6h-10.6zM1440.9 1039.8h10.6v10.6h-10.6zM1451.4 1036h10.6v10.6h-10.6zM1462.6 1030.8h10.6v10.6h-10.6zM1473.8 1024.1h10.6v10.6h-10.6zM1482.8 1020.3h10.6v10.6h-10.6zM1493.2 1020.3h10.6v10.6h-10.6zM1506.7 1015.9h10.6v10.6h-10.6zM1521.6 1010.6h10.6v10.6h-10.6zM1529.1 1007.6h10.6v10.6h-10.6zM1533.6 1004.7h10.6v10.6h-10.6zM1553.7 996.9h10.6v10.6h-10.6zM1591.8 981.5h10.6v10.6h-10.6zM1165.6 1148.4h10.6v10.6h-10.6zM1242.7 1118.2h10.6v10.6h-10.6zM1246.8 1117.3h10.6v10.6h-10.6zM1254.3 1115.2h10.6v10.6h-10.6zM1267.3 1108.1h10.6v10.6h-10.6zM1273.7 1105.7h10.6v10.6h-10.6zM1277 1104.9h10.6v10.6h-10.6zM1294.6 1098h10.6v10.6h-10.6zM1307 1091.8h10.6v10.6h-10.6zM1308.5 1090.9h10.6v10.6h-10.6zM1316.7 1086.6h10.6v10.6h-10.6zM1319.3 1085.6h10.6v10.6h-10.6zM1322.7 1084.6h10.6v10.6h-10.6zM1326 1083.7h10.6v10.6h-10.6zM1335.2 1081.9h10.6v10.6h-10.6zM1354.4 1071.9h10.6v10.6h-10.6zM1362.6 1071.9h10.6v10.6h-10.6zM1362.9 1071.9h10.6v10.6h-10.6zM1364 1071.9h10.6v10.6h-10.6zM1378.9 1064.1h10.6v10.6h-10.6zM1381.1 1063.1h10.6v10.6h-10.6zM1391.3 1059.1h10.6v10.6h-10.6zM1392.6 1058.6h10.6v10.6h-10.6zM1394.9 1057.9h10.6v10.6h-10.6zM1412.2 1051.1h10.6v10.6h-10.6zM1413.7 1050.5h10.6v10.6h-10.6zM1437.2 1041.6h10.6v10.6h-10.6zM1442.9 1039.1h10.6v10.6h-10.6zM1449.1 1036.8h10.6v10.6h-10.6zM1453.2 1035.2h10.6v10.6h-10.6zM1463 1030.5h10.6v10.6h-10.6zM1473.3 1024.3h10.6v10.6h-10.6zM1477.5 1022.5h10.6v10.6h-10.6zM1483.2 1020.3h10.6v10.6h-10.6zM1486.5 1020.3h10.6v10.6h-10.6zM1486.9 1020.3h10.6v10.6h-10.6zM1491 1020.3h10.6v10.6h-10.6zM1493.5 1020.2h10.6v10.6h-10.6zM1507.4 1015.6h10.6v10.6h-10.6zM1508.9 1015.1h10.6v10.6h-10.6zM1520.6 1011h10.6v10.6h-10.6zM1523.1 1010h10.6v10.6h-10.6zM1525 1009.3h10.6v10.6h-10.6zM1529.1 1007.6h10.6v10.6h-10.6zM1554.2 996.7h10.6v10.6h-10.6zM1591.8 981.5h10.6v10.6h-10.6z" fill="none" stroke="#c0504d" stroke-width="3.1"/>
<polyline fill="none" points="1170.9,1157.9 1246.8,1153.7 1251.3,1152.7 1255.1,1151.2 1259.6,1148.9 1267,1145.2 1279,1139.2 1282.7,1137.7 1299.9,1131 1313.3,1125.8 1322.3,1119.8 1331.3,1114.6 1338.8,1104.8 1359.7,1098.9 1368.6,1095.1 1370,1098.1 1382,1091.4 1387.9,1088.4 1396.2,1080.9 1402.9,1077.9 1417.8,1069 1422.3,1070.5 1441.7,1060 1447.7,1061.5 1453.7,1055.5 1462.7,1049.6 1473.1,1045.8 1482.8,1039.8 1489.6,1027.9 1497,1019.7 1504.5,1016.7 1513.5,1011.4 1520.9,1009.2 1528.4,1000.2 1532.9,996.5 1538.9,995.8 1559,991.3 1598.6,987.5" stroke="#92d050" stroke-width="3.0" stroke-dasharray="8 3.5"/>
<path d="M1170.9 1153.2l4.7 9.4h-9.4zM1246.8 1149l4.7 9.4h-9.4zM1251.3 1148l4.7 9.4h-9.4zM1255.1 1146.5l4.7 9.4h-9.4zM1259.6 1144.2l4.7 9.4h-9.4zM1267 1140.5l4.7 9.4h-9.4zM1279 1134.5l4.7 9.4h-9.4zM1282.7 1133l4.7 9.4h-9.4zM1299.9 1126.3l4.7 9.4h-9.4zM1313.3 1121.1l4.7 9.4h-9.4zM1322.3 1115.1l4.7 9.4h-9.4zM1331.3 1109.9l4.7 9.4h-9.4zM1338.8 1100.1l4.7 9.4h-9.4zM1359.7 1094.2l4.7 9.4h-9.4zM1368.6 1090.4l4.7 9.4h-9.4zM1370 1093.4l4.7 9.4h-9.4zM1382 1086.7l4.7 9.4h-9.4zM1387.9 1083.7l4.7 9.4h-9.4zM1396.2 1076.2l4.7 9.4h-9.4zM1402.9 1073.2l4.7 9.4h-9.4zM1417.8 1064.3l4.7 9.4h-9.4zM1422.3 1065.8l4.7 9.4h-9.4zM1441.7 1055.3l4.7 9.4h-9.4zM1447.7 1056.8l4.7 9.4h-9.4zM1453.7 1050.8l4.7 9.4h-9.4zM1462.7 1044.9l4.7 9.4h-9.4zM1473.1 1041.1l4.7 9.4h-9.4zM1482.8 1035.1l4.7 9.4h-9.4zM1489.6 1023.2l4.7 9.4h-9.4zM1497 1015l4.7 9.4h-9.4zM1504.5 1012l4.7 9.4h-9.4zM1513.5 1006.7l4.7 9.4h-9.4zM1520.9 1004.5l4.7 9.4h-9.4zM1528.4 995.5l4.7 9.4h-9.4zM1532.9 991.8l4.7 9.4h-9.4zM1538.9 991.1l4.7 9.4h-9.4zM1559 986.6l4.7 9.4h-9.4zM1598.6 982.8l4.7 9.4h-9.4z" fill="none" stroke="#9bbb59" stroke-width="2.1"/>
<path d="M1165.5 1135.2l5.4 -5.6l5.4 5.6l-5.4 5.6zM1246.7 1104.5l5.4 -5.6l5.4 5.6l-5.4 5.6zM1242.6 1112l5.4 -5.6l5.4 5.6l-5.4 5.6zM1254.2 1120.5l5.4 -5.6l5.4 5.6l-5.4 5.6zM1267.2 1095.9l5.4 -5.6l5.4 5.6l-5.4 5.6zM1273.6 1137.4l5.4 -5.6l5.4 5.6l-5.4 5.6zM1276.9 1140.3l5.4 -5.6l5.4 5.6l-5.4 5.6zM1294.5 1128.5l5.4 -5.6l5.4 5.6l-5.4 5.6zM1306.9 1099.6l5.4 -5.6l5.4 5.6l-5.4 5.6zM1308.4 1125.5l5.4 -5.6l5.4 5.6l-5.4 5.6zM1316.6 1111.6l5.4 -5.6l5.4 5.6l-5.4 5.6zM1319.2 1058.8l5.4 -5.6l5.4 5.6l-5.4 5.6zM1322.6 1099.2l5.4 -5.6l5.4 5.6l-5.4 5.6zM1325.9 1116.5l5.4 -5.6l5.4 5.6l-5.4 5.6zM1335.1 1110.8l5.4 -5.6l5.4 5.6l-5.4 5.6zM1354.3 1111.1l5.4 -5.6l5.4 5.6l-5.4 5.6zM1362.8 1069.7l5.4 -5.6l5.4 5.6l-5.4 5.6zM1362.5 1174l5.4 -5.6l5.4 5.6l-5.4 5.6zM1391.2 986.8l5.4 -5.6l5.4 5.6l-5.4 5.6zM1381 1029.1l5.4 -5.6l5.4 5.6l-5.4 5.6zM1394.8 1042.1l5.4 -5.6l5.4 5.6l-5.4 5.6zM1363.9 1069.7l5.4 -5.6l5.4 5.6l-5.4 5.6zM1412.1 1057l5.4 -5.6l5.4 5.6l-5.4 5.6zM1413.6 1085.7l5.4 -5.6l5.4 5.6l-5.4 5.6zM1392.5 1092.9l5.4 -5.6l5.4 5.6l-5.4 5.6zM1378.8 1099.6l5.4 -5.6l5.4 5.6l-5.4 5.6zM1442.8 1116.8l5.4 -5.6l5.4 5.6l-5.4 5.6zM1437.1 998.3l5.4 -5.6l5.4 5.6l-5.4 5.6zM1449 1002.2l5.4 -5.6l5.4 5.6l-5.4 5.6zM1462.9 1012.5l5.4 -5.6l5.4 5.6l-5.4 5.6zM1453.1 1023l5.4 -5.6l5.4 5.6l-5.4 5.6zM1473.2 1027.9l5.4 -5.6l5.4 5.6l-5.4 5.6zM1477.4 1033.1l5.4 -5.6l5.4 5.6l-5.4 5.6zM1483.1 980.8l5.4 -5.6l5.4 5.6l-5.4 5.6zM1486.8 989.8l5.4 -5.6l5.4 5.6l-5.4 5.6zM1486.4 1038.3l5.4 -5.6l5.4 5.6l-5.4 5.6zM1490.9 1039.4l5.4 -5.6l5.4 5.6l-5.4 5.6zM1493.4 1026.4l5.4 -5.6l5.4 5.6l-5.4 5.6zM1507.3 1021.5l5.4 -5.6l5.4 5.6l-5.4 5.6zM1508.8 1032.4l5.4 -5.6l5.4 5.6l-5.4 5.6zM1520.5 1060l5.4 -5.6l5.4 5.6l-5.4 5.6zM1523 1008.5l5.4 -5.6l5.4 5.6l-5.4 5.6zM1524.9 976.3l5.4 -5.6l5.4 5.6l-5.4 5.6zM1529 1032.4l5.4 -5.6l5.4 5.6l-5.4 5.6zM1554.1 997.7l5.4 -5.6l5.4 5.6l-5.4 5.6zM1591.7 1029.1l5.4 -5.6l5.4 5.6l-5.4 5.6z" fill="none" stroke="#4a7ebb" stroke-width="2.8"/>
<path d="M1362.9 1174.4l5.4 -5.6l5.4 5.6l-5.4 5.6z" fill="none" stroke="#4a7ebb" stroke-width="2.8"/>
<g fill="#c0504d"><circle cx="1321.6" cy="1197.6" r="3.6"/><circle cx="1335.8" cy="1197.6" r="3.6"/><circle cx="1350" cy="1197.6" r="3.6"/><circle cx="1364.2" cy="1197.6" r="3.6"/><circle cx="1378.4" cy="1197.6" r="3.6"/><circle cx="1392.6" cy="1197.6" r="3.6"/><circle cx="1406.8" cy="1197.6" r="3.6"/></g>
<path d="M1363 1192.3h10.6v10.6h-10.6z" fill="none" stroke="#c0504d" stroke-width="3.1"/>
<line x1="1321" y1="1221" x2="1413.3" y2="1221" stroke="#92d050" stroke-width="3.0" stroke-dasharray="8 3.5"/>
<path d="M1368.3 1216.8l4.7 9.4h-9.4z" fill="none" stroke="#9bbb59" stroke-width="2.1"/>
<text transform="translate(1424.6 1179.9) scale(1 1.045)">Observed values</text>
<text transform="translate(1424.6 1204.3) scale(1 1.045)">Regression curve</text>
<text transform="translate(1424.6 1227.8) scale(1 1.045)">Fitted curve</text>
</g>
<!-- panel D3 -->
<g id="panel-D3">
<line x1="1156.1" y1="1419.7" x2="1156.1" y2="1736.9" stroke="#868686" stroke-width="2.7"/>
<line x1="1154.9" y1="1735.7" x2="1590.1" y2="1735.7" stroke="#868686" stroke-width="2.7"/>
<text transform="translate(1135.8 1427.5) scale(1 1.045)" text-anchor="end">30</text>
<text transform="translate(1135.8 1480) scale(1 1.045)" text-anchor="end">25</text>
<text transform="translate(1135.8 1532.5) scale(1 1.045)" text-anchor="end">20</text>
<text transform="translate(1135.8 1585.1) scale(1 1.045)" text-anchor="end">15</text>
<text transform="translate(1135.8 1637.6) scale(1 1.045)" text-anchor="end">10</text>
<text transform="translate(1135.8 1690.1) scale(1 1.045)" text-anchor="end">5</text>
<text transform="translate(1135.8 1742.7) scale(1 1.045)" text-anchor="end">0</text>
<text transform="translate(1152.9 1769.5) scale(1 1.045)" text-anchor="middle">4.70</text>
<text transform="translate(1261.7 1769.5) scale(1 1.045)" text-anchor="middle">5.20</text>
<text transform="translate(1370.6 1769.5) scale(1 1.045)" text-anchor="middle">5.70</text>
<text transform="translate(1479.5 1769.5) scale(1 1.045)" text-anchor="middle">6.20</text>
<text transform="translate(1588.3 1769.5) scale(1 1.045)" text-anchor="middle">6.70</text>
<text transform="translate(1185.5 1413.3) scale(1 1.045)" style="font-size:25px" xml:space="preserve">D3</text>
<text transform="translate(1371.8 1804.8) scale(1 1.045)" text-anchor="middle" xml:space="preserve">Ln (Biomass production) (g.m<tspan style="font-size:14px" dy="-7">-2</tspan><tspan dy="7">)</tspan></text>
<text transform="translate(1077.3 1561.7) rotate(-90) scale(1 1.045)" text-anchor="middle" xml:space="preserve">Species richness  s</text>
<g fill="#c00000"><circle cx="1556.2" cy="1657" r="3.6"/></g>
<path d="M1153.2 1531.1h8.8v8.8h-8.8zM1156.8 1531.1h8.8v8.8h-8.8zM1160.5 1531.1h8.8v8.8h-8.8zM1164.1 1531.1h8.8v8.8h-8.8zM1167.8 1531.1h8.8v8.8h-8.8zM1171.4 1531.1h8.8v8.8h-8.8zM1175.1 1531.1h8.8v8.8h-8.8zM1176.7 1541.6h8.8v8.8h-8.8zM1180.3 1541.6h8.8v8.8h-8.8zM1184 1541.6h8.8v8.8h-8.8zM1187.6 1541.6h8.8v8.8h-8.8zM1191.3 1541.6h8.8v8.8h-8.8zM1195 1541.6h8.8v8.8h-8.8zM1198.6 1541.6h8.8v8.8h-8.8zM1201.1 1552.1h8.8v8.8h-8.8zM1204.7 1552.1h8.8v8.8h-8.8zM1208.3 1552.1h8.8v8.8h-8.8zM1211.9 1552.1h8.8v8.8h-8.8zM1215.4 1552.1h8.8v8.8h-8.8zM1219 1552.1h8.8v8.8h-8.8zM1222.6 1552.1h8.8v8.8h-8.8zM1226.2 1552.1h8.8v8.8h-8.8zM1229.8 1552.1h8.8v8.8h-8.8zM1233.3 1552.1h8.8v8.8h-8.8zM1236.9 1552.1h8.8v8.8h-8.8zM1240.5 1552.1h8.8v8.8h-8.8zM1244.1 1552.1h8.8v8.8h-8.8zM1245.8 1562.4h8.8v8.8h-8.8zM1250.4 1562.4h8.8v8.8h-8.8zM1255.1 1562.4h8.8v8.8h-8.8zM1257.6 1572.9h8.8v8.8h-8.8zM1261.2 1572.9h8.8v8.8h-8.8zM1264.9 1572.9h8.8v8.8h-8.8zM1268.5 1572.9h8.8v8.8h-8.8zM1272.1 1572.9h8.8v8.8h-8.8zM1275.8 1572.9h8.8v8.8h-8.8zM1279.4 1572.9h8.8v8.8h-8.8zM1283.1 1572.9h8.8v8.8h-8.8zM1286.7 1572.9h8.8v8.8h-8.8zM1290.4 1572.9h8.8v8.8h-8.8zM1294 1572.9h8.8v8.8h-8.8zM1297.7 1572.9h8.8v8.8h-8.8zM1301.3 1572.9h8.8v8.8h-8.8zM1305 1572.9h8.8v8.8h-8.8zM1308.6 1572.9h8.8v8.8h-8.8zM1312.3 1572.9h8.8v8.8h-8.8zM1314 1583.4h8.8v8.8h-8.8zM1317.5 1583.4h8.8v8.8h-8.8zM1321.1 1583.4h8.8v8.8h-8.8zM1324.6 1583.4h8.8v8.8h-8.8zM1328.2 1583.4h8.8v8.8h-8.8zM1331.7 1583.4h8.8v8.8h-8.8zM1335.3 1583.4h8.8v8.8h-8.8zM1338.8 1583.4h8.8v8.8h-8.8zM1342.4 1583.4h8.8v8.8h-8.8zM1345.9 1583.4h8.8v8.8h-8.8zM1349.4 1583.4h8.8v8.8h-8.8zM1353 1583.4h8.8v8.8h-8.8zM1356.5 1583.4h8.8v8.8h-8.8zM1360.1 1583.4h8.8v8.8h-8.8zM1361.8 1594.1h8.8v8.8h-8.8zM1365.6 1594.1h8.8v8.8h-8.8zM1369.4 1594.1h8.8v8.8h-8.8zM1373.3 1594.1h8.8v8.8h-8.8zM1377.1 1594.1h8.8v8.8h-8.8zM1380.9 1594.1h8.8v8.8h-8.8zM1384.7 1594.1h8.8v8.8h-8.8zM1397 1604.6h8.8v8.8h-8.8zM1400.6 1604.6h8.8v8.8h-8.8zM1404.2 1604.6h8.8v8.8h-8.8zM1407.9 1604.6h8.8v8.8h-8.8zM1411.5 1604.6h8.8v8.8h-8.8zM1415.2 1604.6h8.8v8.8h-8.8zM1418.8 1604.6h8.8v8.8h-8.8zM1422.5 1604.6h8.8v8.8h-8.8zM1426.1 1604.6h8.8v8.8h-8.8zM1429.8 1604.6h8.8v8.8h-8.8zM1433.4 1604.6h8.8v8.8h-8.8zM1437 1604.6h8.8v8.8h-8.8zM1440.7 1604.6h8.8v8.8h-8.8zM1444.3 1604.6h8.8v8.8h-8.8zM1448 1604.6h8.8v8.8h-8.8zM1451.6 1604.6h8.8v8.8h-8.8zM1455.3 1604.6h8.8v8.8h-8.8zM1457 1615.3h8.8v8.8h-8.8zM1460.8 1615.3h8.8v8.8h-8.8zM1464.5 1615.3h8.8v8.8h-8.8zM1468.3 1615.3h8.8v8.8h-8.8zM1472 1615.3h8.8v8.8h-8.8zM1475.8 1615.3h8.8v8.8h-8.8zM1479.6 1615.3h8.8v8.8h-8.8zM1481.3 1625.4h8.8v8.8h-8.8zM1484.8 1625.4h8.8v8.8h-8.8zM1488.4 1625.4h8.8v8.8h-8.8zM1491.9 1625.4h8.8v8.8h-8.8zM1495.5 1625.4h8.8v8.8h-8.8zM1499 1625.4h8.8v8.8h-8.8zM1502.6 1625.4h8.8v8.8h-8.8zM1506.1 1625.4h8.8v8.8h-8.8zM1509.7 1625.4h8.8v8.8h-8.8zM1513.2 1625.4h8.8v8.8h-8.8zM1516.7 1625.4h8.8v8.8h-8.8zM1520.3 1625.4h8.8v8.8h-8.8zM1523.8 1625.4h8.8v8.8h-8.8zM1527.4 1625.4h8.8v8.8h-8.8zM1522 1636.1h8.8v8.8h-8.8zM1525.7 1636.1h8.8v8.8h-8.8zM1529.3 1636.1h8.8v8.8h-8.8zM1532.9 1636.1h8.8v8.8h-8.8zM1536.5 1636.1h8.8v8.8h-8.8zM1540.1 1636.1h8.8v8.8h-8.8zM1543.7 1636.1h8.8v8.8h-8.8zM1547.3 1636.1h8.8v8.8h-8.8zM1550.9 1636.1h8.8v8.8h-8.8zM1552.6 1667.8h8.8v8.8h-8.8zM1556.3 1667.8h8.8v8.8h-8.8zM1560.1 1667.8h8.8v8.8h-8.8zM1563.8 1667.8h8.8v8.8h-8.8zM1567.5 1667.8h8.8v8.8h-8.8zM1571.3 1667.8h8.8v8.8h-8.8zM1573 1678.3h8.8v8.8h-8.8zM1576.8 1678.3h8.8v8.8h-8.8zM1580.7 1678.3h8.8v8.8h-8.8zM1581.6 1688.9h8.8v8.8h-8.8zM1586.9 1688.9h8.8v8.8h-8.8z" fill="#c00000" stroke="#c00000" stroke-width="3.8"/>
<path d="M1157.6 1529.8l5.2 10.4h-10.4zM1159.7 1529.9l5.2 10.4h-10.4zM1161.9 1529.9l5.2 10.4h-10.4zM1164.1 1530l5.2 10.4h-10.4zM1166.3 1530.1l5.2 10.4h-10.4zM1168.4 1530.2l5.2 10.4h-10.4zM1170.6 1530.3l5.2 10.4h-10.4zM1172.8 1530.4l5.2 10.4h-10.4zM1175 1530.6l5.2 10.4h-10.4zM1177.2 1530.7l5.2 10.4h-10.4zM1179.3 1530.8l5.2 10.4h-10.4zM1181.5 1531l5.2 10.4h-10.4zM1183.7 1531.1l5.2 10.4h-10.4zM1185.9 1531.3l5.2 10.4h-10.4zM1188.1 1531.4l5.2 10.4h-10.4zM1190.2 1531.6l5.2 10.4h-10.4zM1192.4 1531.8l5.2 10.4h-10.4zM1194.6 1532l5.2 10.4h-10.4zM1196.8 1532.3l5.2 10.4h-10.4zM1198.9 1532.5l5.2 10.4h-10.4zM1201.1 1532.8l5.2 10.4h-10.4zM1203.3 1533l5.2 10.4h-10.4zM1205.5 1533.3l5.2 10.4h-10.4zM1207.7 1533.6l5.2 10.4h-10.4zM1209.8 1533.9l5.2 10.4h-10.4zM1212 1534.2l5.2 10.4h-10.4zM1214.2 1534.6l5.2 10.4h-10.4zM1216.4 1534.9l5.2 10.4h-10.4zM1218.5 1535.2l5.2 10.4h-10.4zM1220.7 1535.6l5.2 10.4h-10.4zM1222.9 1535.9l5.2 10.4h-10.4zM1225.1 1536.2l5.2 10.4h-10.4zM1227.3 1536.6l5.2 10.4h-10.4zM1229.4 1536.9l5.2 10.4h-10.4zM1231.6 1537.3l5.2 10.4h-10.4zM1233.8 1537.6l5.2 10.4h-10.4zM1236 1537.9l5.2 10.4h-10.4zM1238.2 1538.3l5.2 10.4h-10.4zM1240.3 1538.6l5.2 10.4h-10.4zM1242.5 1539l5.2 10.4h-10.4zM1244.7 1539.3l5.2 10.4h-10.4zM1246.9 1539.7l5.2 10.4h-10.4zM1249 1540.1l5.2 10.4h-10.4zM1251.2 1540.4l5.2 10.4h-10.4zM1253.4 1540.8l5.2 10.4h-10.4zM1255.6 1541.2l5.2 10.4h-10.4zM1257.8 1541.6l5.2 10.4h-10.4zM1259.9 1542l5.2 10.4h-10.4zM1262.1 1542.4l5.2 10.4h-10.4zM1264.3 1542.8l5.2 10.4h-10.4zM1266.5 1543.2l5.2 10.4h-10.4zM1268.6 1543.6l5.2 10.4h-10.4zM1270.8 1544.1l5.2 10.4h-10.4zM1273 1544.5l5.2 10.4h-10.4zM1275.2 1545l5.2 10.4h-10.4zM1277.4 1545.4l5.2 10.4h-10.4zM1279.5 1545.9l5.2 10.4h-10.4zM1281.7 1546.4l5.2 10.4h-10.4zM1283.9 1546.9l5.2 10.4h-10.4zM1286.1 1547.4l5.2 10.4h-10.4zM1288.3 1548l5.2 10.4h-10.4zM1290.4 1548.5l5.2 10.4h-10.4zM1292.6 1549.1l5.2 10.4h-10.4zM1294.8 1549.7l5.2 10.4h-10.4zM1297 1550.3l5.2 10.4h-10.4zM1299.1 1551l5.2 10.4h-10.4zM1301.3 1551.6l5.2 10.4h-10.4zM1303.5 1552.2l5.2 10.4h-10.4zM1305.7 1552.9l5.2 10.4h-10.4zM1307.9 1553.5l5.2 10.4h-10.4zM1310 1554.2l5.2 10.4h-10.4zM1312.2 1554.8l5.2 10.4h-10.4zM1314.4 1555.5l5.2 10.4h-10.4zM1316.6 1556.1l5.2 10.4h-10.4zM1318.7 1556.8l5.2 10.4h-10.4zM1320.9 1557.4l5.2 10.4h-10.4zM1323.1 1558.1l5.2 10.4h-10.4zM1325.3 1558.8l5.2 10.4h-10.4zM1327.5 1559.5l5.2 10.4h-10.4zM1329.6 1560.2l5.2 10.4h-10.4zM1331.8 1560.9l5.2 10.4h-10.4zM1334 1561.6l5.2 10.4h-10.4zM1336.2 1562.4l5.2 10.4h-10.4zM1338.4 1563.1l5.2 10.4h-10.4zM1340.5 1563.9l5.2 10.4h-10.4zM1342.7 1564.7l5.2 10.4h-10.4zM1344.9 1565.5l5.2 10.4h-10.4zM1347.1 1566.4l5.2 10.4h-10.4zM1349.2 1567.3l5.2 10.4h-10.4zM1351.4 1568.2l5.2 10.4h-10.4zM1353.6 1569.2l5.2 10.4h-10.4zM1355.8 1570.1l5.2 10.4h-10.4zM1358 1571.1l5.2 10.4h-10.4zM1360.1 1572.1l5.2 10.4h-10.4zM1362.3 1573.1l5.2 10.4h-10.4zM1364.5 1574.1l5.2 10.4h-10.4zM1366.7 1575l5.2 10.4h-10.4zM1368.8 1575.9l5.2 10.4h-10.4zM1371 1576.8l5.2 10.4h-10.4zM1373.2 1577.6l5.2 10.4h-10.4zM1375.4 1578.4l5.2 10.4h-10.4zM1377.6 1579.2l5.2 10.4h-10.4zM1379.7 1580l5.2 10.4h-10.4zM1381.9 1580.7l5.2 10.4h-10.4zM1384.1 1581.5l5.2 10.4h-10.4zM1386.3 1582.2l5.2 10.4h-10.4zM1388.5 1583l5.2 10.4h-10.4zM1390.6 1583.7l5.2 10.4h-10.4zM1392.8 1584.5l5.2 10.4h-10.4zM1395 1585.3l5.2 10.4h-10.4zM1397.2 1586.1l5.2 10.4h-10.4zM1399.3 1587l5.2 10.4h-10.4zM1401.5 1587.9l5.2 10.4h-10.4zM1403.7 1588.8l5.2 10.4h-10.4zM1405.9 1589.7l5.2 10.4h-10.4zM1408.1 1590.7l5.2 10.4h-10.4zM1410.2 1591.7l5.2 10.4h-10.4zM1412.4 1592.7l5.2 10.4h-10.4zM1414.6 1593.7l5.2 10.4h-10.4zM1416.8 1594.7l5.2 10.4h-10.4zM1418.9 1595.8l5.2 10.4h-10.4zM1421.1 1596.9l5.2 10.4h-10.4zM1423.3 1597.9l5.2 10.4h-10.4zM1425.5 1599l5.2 10.4h-10.4zM1427.7 1600.1l5.2 10.4h-10.4zM1429.8 1601.2l5.2 10.4h-10.4zM1432 1602.3l5.2 10.4h-10.4zM1434.2 1603.5l5.2 10.4h-10.4zM1436.4 1604.6l5.2 10.4h-10.4zM1438.6 1605.7l5.2 10.4h-10.4zM1440.7 1606.9l5.2 10.4h-10.4zM1442.9 1608.1l5.2 10.4h-10.4zM1445.1 1609.3l5.2 10.4h-10.4zM1447.3 1610.5l5.2 10.4h-10.4zM1449.4 1611.7l5.2 10.4h-10.4zM1451.6 1612.9l5.2 10.4h-10.4zM1453.8 1614.1l5.2 10.4h-10.4zM1456 1615.3l5.2 10.4h-10.4zM1458.2 1616.6l5.2 10.4h-10.4zM1460.3 1617.8l5.2 10.4h-10.4zM1462.5 1619.1l5.2 10.4h-10.4zM1464.7 1620.3l5.2 10.4h-10.4zM1466.9 1621.6l5.2 10.4h-10.4zM1469 1622.8l5.2 10.4h-10.4zM1471.2 1624.1l5.2 10.4h-10.4zM1473.4 1625.4l5.2 10.4h-10.4zM1475.6 1626.7l5.2 10.4h-10.4zM1477.8 1628l5.2 10.4h-10.4zM1479.9 1629.3l5.2 10.4h-10.4zM1482.1 1630.6l5.2 10.4h-10.4zM1484.3 1631.9l5.2 10.4h-10.4zM1486.5 1633.2l5.2 10.4h-10.4zM1488.7 1634.6l5.2 10.4h-10.4zM1490.8 1635.9l5.2 10.4h-10.4zM1493 1637.3l5.2 10.4h-10.4zM1495.2 1638.6l5.2 10.4h-10.4zM1497.4 1640l5.2 10.4h-10.4zM1499.5 1641.3l5.2 10.4h-10.4zM1501.7 1642.7l5.2 10.4h-10.4zM1503.9 1644.1l5.2 10.4h-10.4zM1506.1 1645.5l5.2 10.4h-10.4zM1508.3 1646.9l5.2 10.4h-10.4zM1510.4 1648.3l5.2 10.4h-10.4zM1512.6 1649.7l5.2 10.4h-10.4zM1514.8 1651.2l5.2 10.4h-10.4zM1517 1652.6l5.2 10.4h-10.4zM1519.1 1654l5.2 10.4h-10.4zM1521.3 1655.5l5.2 10.4h-10.4zM1523.5 1656.9l5.2 10.4h-10.4zM1525.7 1658.4l5.2 10.4h-10.4zM1527.9 1659.9l5.2 10.4h-10.4zM1530 1661.3l5.2 10.4h-10.4zM1532.2 1662.8l5.2 10.4h-10.4zM1534.4 1664.3l5.2 10.4h-10.4zM1536.6 1665.8l5.2 10.4h-10.4zM1538.8 1667.3l5.2 10.4h-10.4zM1540.9 1668.8l5.2 10.4h-10.4zM1543.1 1670.3l5.2 10.4h-10.4zM1545.3 1671.8l5.2 10.4h-10.4zM1547.5 1673.3l5.2 10.4h-10.4zM1549.6 1674.9l5.2 10.4h-10.4zM1551.8 1676.5l5.2 10.4h-10.4zM1554 1678l5.2 10.4h-10.4zM1556.2 1679.6l5.2 10.4h-10.4zM1558.4 1681.3l5.2 10.4h-10.4zM1560.5 1682.9l5.2 10.4h-10.4zM1562.7 1684.5l5.2 10.4h-10.4zM1564.9 1686.1l5.2 10.4h-10.4zM1567.1 1687.8l5.2 10.4h-10.4zM1569.2 1689.4l5.2 10.4h-10.4zM1571.4 1691.1l5.2 10.4h-10.4zM1573.6 1692.9l5.2 10.4h-10.4zM1575.8 1694.7l5.2 10.4h-10.4zM1578 1696.6l5.2 10.4h-10.4zM1580.1 1698.5l5.2 10.4h-10.4zM1582.3 1700.5l5.2 10.4h-10.4zM1584.5 1702.8l5.2 10.4h-10.4zM1586.7 1705.1l5.2 10.4h-10.4zM1588.9 1707.6l5.2 10.4h-10.4zM1591 1710.1l5.2 10.4h-10.4z" fill="#9bbb59" stroke="#9bbb59" stroke-width="2.9"/>
<path d="M1230.2 1440.6l5.4 -5.6l5.4 5.6l-5.4 5.6zM1169.4 1461.8l5.4 -5.6l5.4 5.6l-5.4 5.6zM1170.7 1461.8l5.4 -5.6l5.4 5.6l-5.4 5.6zM1248.6 1461.8l5.4 -5.6l5.4 5.6l-5.4 5.6zM1152.6 1472.3l5.4 -5.6l5.4 5.6l-5.4 5.6zM1162 1472.3l5.4 -5.6l5.4 5.6l-5.4 5.6zM1182.7 1472.3l5.4 -5.6l5.4 5.6l-5.4 5.6zM1266 1482.8l5.4 -5.6l5.4 5.6l-5.4 5.6zM1242.3 1493.3l5.4 -5.6l5.4 5.6l-5.4 5.6zM1316.8 1504l5.4 -5.6l5.4 5.6l-5.4 5.6zM1329 1504l5.4 -5.6l5.4 5.6l-5.4 5.6zM1197.6 1514.5l5.4 -5.6l5.4 5.6l-5.4 5.6zM1207 1514.5l5.4 -5.6l5.4 5.6l-5.4 5.6zM1208.9 1514.5l5.4 -5.6l5.4 5.6l-5.4 5.6zM1221.6 1514.5l5.4 -5.6l5.4 5.6l-5.4 5.6zM1245.4 1514.5l5.4 -5.6l5.4 5.6l-5.4 5.6zM1284 1514.5l5.4 -5.6l5.4 5.6l-5.4 5.6zM1296.4 1514.5l5.4 -5.6l5.4 5.6l-5.4 5.6zM1358 1514.5l5.4 -5.6l5.4 5.6l-5.4 5.6zM1367.1 1514.5l5.4 -5.6l5.4 5.6l-5.4 5.6zM1272.2 1525l5.4 -5.6l5.4 5.6l-5.4 5.6zM1346.5 1525l5.4 -5.6l5.4 5.6l-5.4 5.6zM1159.4 1535.5l5.4 -5.6l5.4 5.6l-5.4 5.6zM1194.6 1535.5l5.4 -5.6l5.4 5.6l-5.4 5.6zM1349.4 1535.5l5.4 -5.6l5.4 5.6l-5.4 5.6zM1225.2 1546l5.4 -5.6l5.4 5.6l-5.4 5.6zM1227.4 1546l5.4 -5.6l5.4 5.6l-5.4 5.6zM1274.9 1546l5.4 -5.6l5.4 5.6l-5.4 5.6zM1311 1546l5.4 -5.6l5.4 5.6l-5.4 5.6zM1180.1 1556.5l5.4 -5.6l5.4 5.6l-5.4 5.6zM1212.5 1556.5l5.4 -5.6l5.4 5.6l-5.4 5.6zM1286.7 1556.5l5.4 -5.6l5.4 5.6l-5.4 5.6zM1352.8 1556.5l5.4 -5.6l5.4 5.6l-5.4 5.6zM1164.9 1566.8l5.4 -5.6l5.4 5.6l-5.4 5.6zM1262.8 1566.8l5.4 -5.6l5.4 5.6l-5.4 5.6zM1298.7 1566.8l5.4 -5.6l5.4 5.6l-5.4 5.6zM1369.7 1566.8l5.4 -5.6l5.4 5.6l-5.4 5.6zM1173.8 1577.3l5.4 -5.6l5.4 5.6l-5.4 5.6zM1191.8 1577.3l5.4 -5.6l5.4 5.6l-5.4 5.6zM1239.6 1577.3l5.4 -5.6l5.4 5.6l-5.4 5.6zM1292.9 1577.3l5.4 -5.6l5.4 5.6l-5.4 5.6zM1355.6 1577.3l5.4 -5.6l5.4 5.6l-5.4 5.6zM1200.8 1587.8l5.4 -5.6l5.4 5.6l-5.4 5.6zM1260.3 1587.8l5.4 -5.6l5.4 5.6l-5.4 5.6zM1313.6 1587.8l5.4 -5.6l5.4 5.6l-5.4 5.6zM1320.4 1587.8l5.4 -5.6l5.4 5.6l-5.4 5.6zM1326.2 1587.8l5.4 -5.6l5.4 5.6l-5.4 5.6zM1156.1 1598.5l5.4 -5.6l5.4 5.6l-5.4 5.6zM1203.6 1598.5l5.4 -5.6l5.4 5.6l-5.4 5.6zM1236.5 1598.5l5.4 -5.6l5.4 5.6l-5.4 5.6zM1343.9 1598.5l5.4 -5.6l5.4 5.6l-5.4 5.6zM1188.7 1609l5.4 -5.6l5.4 5.6l-5.4 5.6zM1218.5 1609l5.4 -5.6l5.4 5.6l-5.4 5.6zM1233.4 1609l5.4 -5.6l5.4 5.6l-5.4 5.6zM1254.1 1609l5.4 -5.6l5.4 5.6l-5.4 5.6zM1281.2 1609l5.4 -5.6l5.4 5.6l-5.4 5.6zM1185.5 1620l5.4 -5.6l5.4 5.6l-5.4 5.6zM1251.4 1620l5.4 -5.6l5.4 5.6l-5.4 5.6zM1278 1620l5.4 -5.6l5.4 5.6l-5.4 5.6zM1307.8 1629.8l5.4 -5.6l5.4 5.6l-5.4 5.6zM1330.6 1629.8l5.4 -5.6l5.4 5.6l-5.4 5.6zM1334.5 1629.8l5.4 -5.6l5.4 5.6l-5.4 5.6zM1341.5 1629.8l5.4 -5.6l5.4 5.6l-5.4 5.6zM1269.1 1640.5l5.4 -5.6l5.4 5.6l-5.4 5.6zM1301.9 1640.5l5.4 -5.6l5.4 5.6l-5.4 5.6zM1322.7 1640.5l5.4 -5.6l5.4 5.6l-5.4 5.6zM1215.6 1651l5.4 -5.6l5.4 5.6l-5.4 5.6zM1289.8 1651l5.4 -5.6l5.4 5.6l-5.4 5.6zM1305 1651l5.4 -5.6l5.4 5.6l-5.4 5.6zM1176.9 1661.7l5.4 -5.6l5.4 5.6l-5.4 5.6zM1257.2 1682.7l5.4 -5.6l5.4 5.6l-5.4 5.6zM1337.6 1704l5.4 -5.6l5.4 5.6l-5.4 5.6zM1477.8 1461.6l5.4 -5.6l5.4 5.6l-5.4 5.6zM1448.2 1482.8l5.4 -5.6l5.4 5.6l-5.4 5.6zM1445 1493.3l5.4 -5.6l5.4 5.6l-5.4 5.6zM1441.9 1504l5.4 -5.6l5.4 5.6l-5.4 5.6zM1394.1 1503.7l5.4 -5.6l5.4 5.6l-5.4 5.6zM1367.7 1514.5l5.4 -5.6l5.4 5.6l-5.4 5.6zM1400.3 1514.5l5.4 -5.6l5.4 5.6l-5.4 5.6zM1412.1 1525l5.4 -5.6l5.4 5.6l-5.4 5.6zM1421.3 1525l5.4 -5.6l5.4 5.6l-5.4 5.6zM1382.2 1546l5.4 -5.6l5.4 5.6l-5.4 5.6zM1436.4 1546l5.4 -5.6l5.4 5.6l-5.4 5.6zM1438 1546l5.4 -5.6l5.4 5.6l-5.4 5.6zM1474.6 1546l5.4 -5.6l5.4 5.6l-5.4 5.6zM1501.5 1556.5l5.4 -5.6l5.4 5.6l-5.4 5.6zM1513.5 1556.5l5.4 -5.6l5.4 5.6l-5.4 5.6zM1370.4 1566.8l5.4 -5.6l5.4 5.6l-5.4 5.6zM1468.8 1577.3l5.4 -5.6l5.4 5.6l-5.4 5.6zM1570 1577.3l5.4 -5.6l5.4 5.6l-5.4 5.6zM1471.5 1587.8l5.4 -5.6l5.4 5.6l-5.4 5.6zM1528.4 1587.8l5.4 -5.6l5.4 5.6l-5.4 5.6zM1453.6 1598.5l5.4 -5.6l5.4 5.6l-5.4 5.6zM1498.3 1598.5l5.4 -5.6l5.4 5.6l-5.4 5.6zM1534.2 1598.5l5.4 -5.6l5.4 5.6l-5.4 5.6zM1549.6 1598.5l5.4 -5.6l5.4 5.6l-5.4 5.6zM1417.9 1609l5.4 -5.6l5.4 5.6l-5.4 5.6zM1427 1609l5.4 -5.6l5.4 5.6l-5.4 5.6zM1495.2 1609l5.4 -5.6l5.4 5.6l-5.4 5.6zM1575.8 1609l5.4 -5.6l5.4 5.6l-5.4 5.6zM1450 1619.7l5.4 -5.6l5.4 5.6l-5.4 5.6zM1457.1 1619.7l5.4 -5.6l5.4 5.6l-5.4 5.6zM1566.8 1619.7l5.4 -5.6l5.4 5.6l-5.4 5.6zM1379 1629.8l5.4 -5.6l5.4 5.6l-5.4 5.6zM1385 1629.8l5.4 -5.6l5.4 5.6l-5.4 5.6zM1409.6 1629.8l5.4 -5.6l5.4 5.6l-5.4 5.6zM1433.1 1629.8l5.4 -5.6l5.4 5.6l-5.4 5.6zM1466 1629.8l5.4 -5.6l5.4 5.6l-5.4 5.6zM1365.4 1640.5l5.4 -5.6l5.4 5.6l-5.4 5.6zM1390.5 1640.5l5.4 -5.6l5.4 5.6l-5.4 5.6zM1397.2 1640.5l5.4 -5.6l5.4 5.6l-5.4 5.6zM1424.2 1640.5l5.4 -5.6l5.4 5.6l-5.4 5.6zM1531.1 1640.5l5.4 -5.6l5.4 5.6l-5.4 5.6zM1585.2 1640.5l5.4 -5.6l5.4 5.6l-5.4 5.6zM1376.4 1651l5.4 -5.6l5.4 5.6l-5.4 5.6zM1414.8 1651l5.4 -5.6l5.4 5.6l-5.4 5.6zM1430.1 1651l5.4 -5.6l5.4 5.6l-5.4 5.6zM1510.4 1651l5.4 -5.6l5.4 5.6l-5.4 5.6zM1361.2 1651l5.4 -5.6l5.4 5.6l-5.4 5.6zM1373.2 1661.7l5.4 -5.6l5.4 5.6l-5.4 5.6zM1406.1 1661.7l5.4 -5.6l5.4 5.6l-5.4 5.6zM1490 1661.7l5.4 -5.6l5.4 5.6l-5.4 5.6zM1492.4 1661.7l5.4 -5.6l5.4 5.6l-5.4 5.6zM1563.7 1661.7l5.4 -5.6l5.4 5.6l-5.4 5.6zM1578.9 1661.7l5.4 -5.6l5.4 5.6l-5.4 5.6zM1459.4 1672.2l5.4 -5.6l5.4 5.6l-5.4 5.6zM1486.4 1672.2l5.4 -5.6l5.4 5.6l-5.4 5.6zM1525.3 1672.2l5.4 -5.6l5.4 5.6l-5.4 5.6zM1561 1672.2l5.4 -5.6l5.4 5.6l-5.4 5.6zM1388.4 1682.7l5.4 -5.6l5.4 5.6l-5.4 5.6zM1480.6 1682.7l5.4 -5.6l5.4 5.6l-5.4 5.6zM1518.2 1682.7l5.4 -5.6l5.4 5.6l-5.4 5.6zM1520.6 1682.7l5.4 -5.6l5.4 5.6l-5.4 5.6zM1546 1682.7l5.4 -5.6l5.4 5.6l-5.4 5.6zM1558.2 1682.7l5.4 -5.6l5.4 5.6l-5.4 5.6zM1403 1693.3l5.4 -5.6l5.4 5.6l-5.4 5.6zM1504.4 1693.3l5.4 -5.6l5.4 5.6l-5.4 5.6zM1519.5 1693.3l5.4 -5.6l5.4 5.6l-5.4 5.6zM1540.2 1693.3l5.4 -5.6l5.4 5.6l-5.4 5.6zM1462.6 1704l5.4 -5.6l5.4 5.6l-5.4 5.6zM1483.3 1704l5.4 -5.6l5.4 5.6l-5.4 5.6zM1537 1704l5.4 -5.6l5.4 5.6l-5.4 5.6zM1555.1 1704l5.4 -5.6l5.4 5.6l-5.4 5.6zM1507.3 1714.5l5.4 -5.6l5.4 5.6l-5.4 5.6zM1573.1 1714.5l5.4 -5.6l5.4 5.6l-5.4 5.6zM1543 1725l5.4 -5.6l5.4 5.6l-5.4 5.6zM1552.2 1725l5.4 -5.6l5.4 5.6l-5.4 5.6zM1582 1725l5.4 -5.6l5.4 5.6l-5.4 5.6zM1373.7 1629.8l5.4 -5.6l5.4 5.6l-5.4 5.6z" fill="none" stroke="#4a7ebb" stroke-width="2.8"/>
<path d="M1366.3 1401.4l5.4 -5.6l5.4 5.6l-5.4 5.6z" fill="none" stroke="#4a7ebb" stroke-width="2.8"/>
<g fill="#c00000"><circle cx="1325" cy="1427.3" r="3.6"/><circle cx="1339.2" cy="1427.3" r="3.6"/><circle cx="1353.4" cy="1427.3" r="3.6"/><circle cx="1367.6" cy="1427.3" r="3.6"/><circle cx="1381.8" cy="1427.3" r="3.6"/><circle cx="1396" cy="1427.3" r="3.6"/><circle cx="1410.2" cy="1427.3" r="3.6"/></g>
<path d="M1366.4 1422h10.6v10.6h-10.6z" fill="#fff" stroke="#c00000" stroke-width="3.1"/>
<line x1="1324.2" y1="1453.2" x2="1416.3" y2="1453.2" stroke="#92d050" stroke-width="3.0" stroke-dasharray="8 3.5"/>
<path d="M1371.7 1448l5.2 10.4h-10.4z" fill="#fff" stroke="#9bbb59" stroke-width="2.9"/>
<text transform="translate(1428 1408) scale(1 1.045)">Observed values</text>
<text transform="translate(1428 1433.6) scale(1 1.045)">Regression curve</text>
<text transform="translate(1428 1459) scale(1 1.045)">Fitted curve</text>
</g>
<!-- panel E3 -->
<g id="panel-E3">
<line x1="1151.4" y1="1887.9" x2="1151.4" y2="2227.1" stroke="#868686" stroke-width="2.7"/>
<line x1="1150.2" y1="2225.9" x2="1573.4" y2="2225.9" stroke="#868686" stroke-width="2.7"/>
<text transform="translate(1131.6 1895.7) scale(1 1.045)" text-anchor="end">5</text>
<text transform="translate(1131.6 1929.4) scale(1 1.045)" text-anchor="end">4.5</text>
<text transform="translate(1131.6 1963.1) scale(1 1.045)" text-anchor="end">4</text>
<text transform="translate(1131.6 1996.9) scale(1 1.045)" text-anchor="end">3.5</text>
<text transform="translate(1131.6 2030.6) scale(1 1.045)" text-anchor="end">3</text>
<text transform="translate(1131.6 2064.3) scale(1 1.045)" text-anchor="end">2.5</text>
<text transform="translate(1131.6 2098) scale(1 1.045)" text-anchor="end">2</text>
<text transform="translate(1131.6 2131.7) scale(1 1.045)" text-anchor="end">1.5</text>
<text transform="translate(1131.6 2165.4) scale(1 1.045)" text-anchor="end">1</text>
<text transform="translate(1131.6 2199.2) scale(1 1.045)" text-anchor="end">0.5</text>
<text transform="translate(1131.6 2232.9) scale(1 1.045)" text-anchor="end">0</text>
<text transform="translate(1151.4 2259.7) scale(1 1.045)" text-anchor="middle">0</text>
<text transform="translate(1235.8 2259.7) scale(1 1.045)" text-anchor="middle">1000</text>
<text transform="translate(1320.2 2259.7) scale(1 1.045)" text-anchor="middle">2000</text>
<text transform="translate(1404.6 2259.7) scale(1 1.045)" text-anchor="middle">3000</text>
<text transform="translate(1489 2259.7) scale(1 1.045)" text-anchor="middle">4000</text>
<text transform="translate(1573.4 2259.7) scale(1 1.045)" text-anchor="middle">5000</text>
<text transform="translate(1315.8 1903.9) scale(1 1.045)" style="font-size:25px" xml:space="preserve">E3</text>
<text transform="translate(1361.9 2295) scale(1 1.045)" text-anchor="middle" xml:space="preserve">Standing crop(g.m<tspan style="font-size:14px" dy="-7">-2</tspan><tspan dy="7">)</tspan></text>
<text transform="translate(1082.6 2057.2) rotate(-90) scale(1 1.045)" text-anchor="middle" xml:space="preserve">Ln (Species richness s)</text>
<line x1="1151.4" y1="1980.3" x2="1524.4" y2="1980.3" stroke="#c00000" stroke-width="1.9" stroke-dasharray="6.3 2.9"/>
<path d="M1146.1 1975h10.6v10.6h-10.6zM1152 1975h10.6v10.6h-10.6zM1158 1975h10.6v10.6h-10.6zM1163.9 1975h10.6v10.6h-10.6zM1169.9 1975h10.6v10.6h-10.6zM1175.8 1975h10.6v10.6h-10.6zM1181.8 1975h10.6v10.6h-10.6zM1187.7 1975h10.6v10.6h-10.6zM1193.7 1975h10.6v10.6h-10.6zM1199.6 1975h10.6v10.6h-10.6zM1205.6 1975h10.6v10.6h-10.6zM1211.5 1975h10.6v10.6h-10.6zM1217.4 1975h10.6v10.6h-10.6zM1223.4 1975h10.6v10.6h-10.6zM1229.3 1975h10.6v10.6h-10.6zM1235.3 1975h10.6v10.6h-10.6zM1241.2 1975h10.6v10.6h-10.6zM1247.2 1975h10.6v10.6h-10.6zM1253.1 1975h10.6v10.6h-10.6zM1259.1 1975h10.6v10.6h-10.6zM1265 1975h10.6v10.6h-10.6zM1271 1975h10.6v10.6h-10.6zM1276.9 1975h10.6v10.6h-10.6zM1282.8 1975h10.6v10.6h-10.6zM1288.8 1975h10.6v10.6h-10.6zM1294.7 1975h10.6v10.6h-10.6zM1300.7 1975h10.6v10.6h-10.6zM1306.6 1975h10.6v10.6h-10.6zM1312.6 1975h10.6v10.6h-10.6zM1318.5 1975h10.6v10.6h-10.6zM1324.5 1975h10.6v10.6h-10.6zM1330.4 1975h10.6v10.6h-10.6zM1336.4 1975h10.6v10.6h-10.6zM1342.3 1975h10.6v10.6h-10.6zM1348.2 1975h10.6v10.6h-10.6zM1354.2 1975h10.6v10.6h-10.6zM1360.1 1975h10.6v10.6h-10.6zM1366.1 1975h10.6v10.6h-10.6zM1372 1975h10.6v10.6h-10.6zM1378 1975h10.6v10.6h-10.6zM1383.9 1975h10.6v10.6h-10.6zM1389.9 1975h10.6v10.6h-10.6zM1395.8 1975h10.6v10.6h-10.6zM1401.8 1975h10.6v10.6h-10.6zM1407.7 1975h10.6v10.6h-10.6zM1435.7 1975h10.6v10.6h-10.6zM1441.7 1975h10.6v10.6h-10.6zM1448.7 1975h10.6v10.6h-10.6zM1454.7 1975h10.6v10.6h-10.6zM1519.1 1975h10.6v10.6h-10.6z" fill="none" stroke="#c0504d" stroke-width="3.1"/>
<line x1="1151.4" y1="1980.8" x2="1524.4" y2="1980.8" stroke="#92d050" stroke-width="1.9" stroke-dasharray="6.3 2.9"/>
<path d="M1151.4 1975.6l5.2 10.4h-10.4zM1157.3 1975.6l5.2 10.4h-10.4zM1163.3 1975.6l5.2 10.4h-10.4zM1169.2 1975.6l5.2 10.4h-10.4zM1175.2 1975.6l5.2 10.4h-10.4zM1181.1 1975.6l5.2 10.4h-10.4zM1187.1 1975.6l5.2 10.4h-10.4zM1193 1975.6l5.2 10.4h-10.4zM1199 1975.6l5.2 10.4h-10.4zM1204.9 1975.6l5.2 10.4h-10.4zM1210.9 1975.6l5.2 10.4h-10.4zM1216.8 1975.6l5.2 10.4h-10.4zM1222.7 1975.6l5.2 10.4h-10.4zM1228.7 1975.6l5.2 10.4h-10.4zM1234.6 1975.6l5.2 10.4h-10.4zM1240.6 1975.6l5.2 10.4h-10.4zM1246.5 1975.6l5.2 10.4h-10.4zM1252.5 1975.6l5.2 10.4h-10.4zM1258.4 1975.6l5.2 10.4h-10.4zM1264.4 1975.6l5.2 10.4h-10.4zM1270.3 1975.6l5.2 10.4h-10.4zM1276.3 1975.6l5.2 10.4h-10.4zM1282.2 1975.6l5.2 10.4h-10.4zM1288.1 1975.6l5.2 10.4h-10.4zM1294.1 1975.6l5.2 10.4h-10.4zM1300 1975.6l5.2 10.4h-10.4zM1306 1975.6l5.2 10.4h-10.4zM1311.9 1975.6l5.2 10.4h-10.4zM1317.9 1975.6l5.2 10.4h-10.4zM1323.8 1975.6l5.2 10.4h-10.4zM1329.8 1975.6l5.2 10.4h-10.4zM1335.7 1975.6l5.2 10.4h-10.4zM1341.7 1975.6l5.2 10.4h-10.4zM1347.6 1975.6l5.2 10.4h-10.4zM1353.5 1975.6l5.2 10.4h-10.4zM1359.5 1975.6l5.2 10.4h-10.4zM1365.4 1975.6l5.2 10.4h-10.4zM1371.4 1975.6l5.2 10.4h-10.4zM1377.3 1975.6l5.2 10.4h-10.4zM1383.3 1975.6l5.2 10.4h-10.4zM1389.2 1975.6l5.2 10.4h-10.4zM1395.2 1975.6l5.2 10.4h-10.4zM1401.1 1975.6l5.2 10.4h-10.4zM1407.1 1975.6l5.2 10.4h-10.4zM1413 1975.6l5.2 10.4h-10.4zM1441 1975.6l5.2 10.4h-10.4zM1447 1975.6l5.2 10.4h-10.4zM1454 1975.6l5.2 10.4h-10.4zM1460 1975.6l5.2 10.4h-10.4zM1524.4 1975.6l5.2 10.4h-10.4z" fill="none" stroke="#9bbb59" stroke-width="2.9"/>
<path d="M1169.3 1983.3l5.4 -5.6l5.4 5.6l-5.4 5.6zM1146.5 1935.2l5.4 -5.6l5.4 5.6l-5.4 5.6zM1149 1966.7l5.4 -5.6l5.4 5.6l-5.4 5.6zM1146.3 1961l5.4 -5.6l5.4 5.6l-5.4 5.6zM1145.8 1964.2l5.4 -5.6l5.4 5.6l-5.4 5.6zM1162.9 1992.7l5.4 -5.6l5.4 5.6l-5.4 5.6zM1157.1 2009.9l5.4 -5.6l5.4 5.6l-5.4 5.6zM1145.9 1965.7l5.4 -5.6l5.4 5.6l-5.4 5.6zM1152.6 1941.8l5.4 -5.6l5.4 5.6l-5.4 5.6zM1158.4 1951.1l5.4 -5.6l5.4 5.6l-5.4 5.6zM1161.2 1969.8l5.4 -5.6l5.4 5.6l-5.4 5.6zM1165.2 1979.1l5.4 -5.6l5.4 5.6l-5.4 5.6zM1159 1959.2l5.4 -5.6l5.4 5.6l-5.4 5.6zM1153.6 1970.8l5.4 -5.6l5.4 5.6l-5.4 5.6zM1155.6 1969.3l5.4 -5.6l5.4 5.6l-5.4 5.6zM1162 1961l5.4 -5.6l5.4 5.6l-5.4 5.6zM1157.6 1952.7l5.4 -5.6l5.4 5.6l-5.4 5.6zM1160.3 1971.4l5.4 -5.6l5.4 5.6l-5.4 5.6zM1167.1 1987.7l5.4 -5.6l5.4 5.6l-5.4 5.6zM1150 1937.7l5.4 -5.6l5.4 5.6l-5.4 5.6zM1153.2 1961.8l5.4 -5.6l5.4 5.6l-5.4 5.6zM1157 1974.8l5.4 -5.6l5.4 5.6l-5.4 5.6zM1175.5 1968.5l5.4 -5.6l5.4 5.6l-5.4 5.6zM1158.8 1992l5.4 -5.6l5.4 5.6l-5.4 5.6zM1160.1 1997.6l5.4 -5.6l5.4 5.6l-5.4 5.6zM1165.2 1950.8l5.4 -5.6l5.4 5.6l-5.4 5.6zM1159.3 2002.1l5.4 -5.6l5.4 5.6l-5.4 5.6zM1147.9 2011.3l5.4 -5.6l5.4 5.6l-5.4 5.6zM1154.3 1977.3l5.4 -5.6l5.4 5.6l-5.4 5.6zM1147.3 1951.9l5.4 -5.6l5.4 5.6l-5.4 5.6zM1151.1 2014.7l5.4 -5.6l5.4 5.6l-5.4 5.6zM1159 1993l5.4 -5.6l5.4 5.6l-5.4 5.6zM1147.3 2011.2l5.4 -5.6l5.4 5.6l-5.4 5.6zM1151.7 1988.3l5.4 -5.6l5.4 5.6l-5.4 5.6zM1153.9 1979.4l5.4 -5.6l5.4 5.6l-5.4 5.6zM1164 2003.3l5.4 -5.6l5.4 5.6l-5.4 5.6zM1163.7 1979.1l5.4 -5.6l5.4 5.6l-5.4 5.6zM1153.5 1956.6l5.4 -5.6l5.4 5.6l-5.4 5.6zM1147.2 1998.6l5.4 -5.6l5.4 5.6l-5.4 5.6zM1145.5 1955.6l5.4 -5.6l5.4 5.6l-5.4 5.6zM1153.2 1963.3l5.4 -5.6l5.4 5.6l-5.4 5.6zM1158.1 1982l5.4 -5.6l5.4 5.6l-5.4 5.6zM1153 1971.9l5.4 -5.6l5.4 5.6l-5.4 5.6zM1154.4 1956.2l5.4 -5.6l5.4 5.6l-5.4 5.6zM1157 1947.1l5.4 -5.6l5.4 5.6l-5.4 5.6zM1146.3 1986l5.4 -5.6l5.4 5.6l-5.4 5.6zM1161.8 1977.3l5.4 -5.6l5.4 5.6l-5.4 5.6zM1152.4 1958.9l5.4 -5.6l5.4 5.6l-5.4 5.6zM1153.9 1980.7l5.4 -5.6l5.4 5.6l-5.4 5.6zM1152.2 1970.2l5.4 -5.6l5.4 5.6l-5.4 5.6zM1150.8 1989.3l5.4 -5.6l5.4 5.6l-5.4 5.6zM1154.5 1984.3l5.4 -5.6l5.4 5.6l-5.4 5.6zM1156.7 1984.3l5.4 -5.6l5.4 5.6l-5.4 5.6zM1156.4 2002.3l5.4 -5.6l5.4 5.6l-5.4 5.6zM1154.3 1983.1l5.4 -5.6l5.4 5.6l-5.4 5.6zM1155.4 1937.7l5.4 -5.6l5.4 5.6l-5.4 5.6zM1148.3 1980.2l5.4 -5.6l5.4 5.6l-5.4 5.6zM1146.3 1979.9l5.4 -5.6l5.4 5.6l-5.4 5.6zM1153.9 1958.7l5.4 -5.6l5.4 5.6l-5.4 5.6zM1147.5 2014.1l5.4 -5.6l5.4 5.6l-5.4 5.6zM1156.2 1963.3l5.4 -5.6l5.4 5.6l-5.4 5.6zM1152.7 1964.1l5.4 -5.6l5.4 5.6l-5.4 5.6zM1151.4 1992.1l5.4 -5.6l5.4 5.6l-5.4 5.6zM1152.3 1939.1l5.4 -5.6l5.4 5.6l-5.4 5.6zM1157.4 1976l5.4 -5.6l5.4 5.6l-5.4 5.6zM1146.9 2000.1l5.4 -5.6l5.4 5.6l-5.4 5.6zM1154.9 1989.5l5.4 -5.6l5.4 5.6l-5.4 5.6zM1151 1971l5.4 -5.6l5.4 5.6l-5.4 5.6zM1156.5 1984.4l5.4 -5.6l5.4 5.6l-5.4 5.6zM1156.8 1996.6l5.4 -5.6l5.4 5.6l-5.4 5.6zM1161.6 1975.4l5.4 -5.6l5.4 5.6l-5.4 5.6zM1145.3 1983l5.4 -5.6l5.4 5.6l-5.4 5.6zM1155 1973.4l5.4 -5.6l5.4 5.6l-5.4 5.6zM1147.1 1995l5.4 -5.6l5.4 5.6l-5.4 5.6zM1155.9 1975.7l5.4 -5.6l5.4 5.6l-5.4 5.6zM1148.7 1947l5.4 -5.6l5.4 5.6l-5.4 5.6zM1181.2 1972.7l5.4 -5.6l5.4 5.6l-5.4 5.6zM1165.2 2003.6l5.4 -5.6l5.4 5.6l-5.4 5.6zM1159.6 1981.9l5.4 -5.6l5.4 5.6l-5.4 5.6zM1156.8 1960.6l5.4 -5.6l5.4 5.6l-5.4 5.6zM1151 1962.8l5.4 -5.6l5.4 5.6l-5.4 5.6zM1147 1940.2l5.4 -5.6l5.4 5.6l-5.4 5.6zM1161.8 1971.2l5.4 -5.6l5.4 5.6l-5.4 5.6zM1159.2 1987.4l5.4 -5.6l5.4 5.6l-5.4 5.6zM1168.5 1988.7l5.4 -5.6l5.4 5.6l-5.4 5.6zM1152.1 1971.6l5.4 -5.6l5.4 5.6l-5.4 5.6zM1172.5 1954l5.4 -5.6l5.4 5.6l-5.4 5.6zM1158.9 1979.8l5.4 -5.6l5.4 5.6l-5.4 5.6zM1153.9 1962.4l5.4 -5.6l5.4 5.6l-5.4 5.6zM1153.1 1941.8l5.4 -5.6l5.4 5.6l-5.4 5.6zM1146.9 1979.3l5.4 -5.6l5.4 5.6l-5.4 5.6zM1151.2 1957.8l5.4 -5.6l5.4 5.6l-5.4 5.6zM1172 1999.1l5.4 -5.6l5.4 5.6l-5.4 5.6zM1146.5 1963.1l5.4 -5.6l5.4 5.6l-5.4 5.6zM1149.5 1977.3l5.4 -5.6l5.4 5.6l-5.4 5.6zM1145.5 1984.3l5.4 -5.6l5.4 5.6l-5.4 5.6zM1155.6 2002.7l5.4 -5.6l5.4 5.6l-5.4 5.6zM1160.7 1971.8l5.4 -5.6l5.4 5.6l-5.4 5.6zM1150.4 1966l5.4 -5.6l5.4 5.6l-5.4 5.6zM1153.1 2014.1l5.4 -5.6l5.4 5.6l-5.4 5.6zM1151.4 2015.8l5.4 -5.6l5.4 5.6l-5.4 5.6zM1149.9 1979.4l5.4 -5.6l5.4 5.6l-5.4 5.6zM1159.9 1974.6l5.4 -5.6l5.4 5.6l-5.4 5.6zM1150.5 1969.1l5.4 -5.6l5.4 5.6l-5.4 5.6zM1151.6 1970.7l5.4 -5.6l5.4 5.6l-5.4 5.6zM1154 2008.3l5.4 -5.6l5.4 5.6l-5.4 5.6zM1147.5 2010.2l5.4 -5.6l5.4 5.6l-5.4 5.6zM1181.3 1974.5l5.4 -5.6l5.4 5.6l-5.4 5.6zM1152.8 1968l5.4 -5.6l5.4 5.6l-5.4 5.6zM1159.9 1987.5l5.4 -5.6l5.4 5.6l-5.4 5.6zM1148.9 1983.2l5.4 -5.6l5.4 5.6l-5.4 5.6zM1149.3 1964.9l5.4 -5.6l5.4 5.6l-5.4 5.6zM1147 1947.2l5.4 -5.6l5.4 5.6l-5.4 5.6zM1159.6 1987.6l5.4 -5.6l5.4 5.6l-5.4 5.6zM1159.6 1977.6l5.4 -5.6l5.4 5.6l-5.4 5.6zM1152.9 1979.7l5.4 -5.6l5.4 5.6l-5.4 5.6zM1157.5 1970.9l5.4 -5.6l5.4 5.6l-5.4 5.6zM1153.8 1960.5l5.4 -5.6l5.4 5.6l-5.4 5.6zM1145.9 2001.7l5.4 -5.6l5.4 5.6l-5.4 5.6zM1148.4 1992.7l5.4 -5.6l5.4 5.6l-5.4 5.6zM1149.9 2008.2l5.4 -5.6l5.4 5.6l-5.4 5.6zM1164.3 1990.2l5.4 -5.6l5.4 5.6l-5.4 5.6zM1146.9 1949.9l5.4 -5.6l5.4 5.6l-5.4 5.6zM1159.6 1955.9l5.4 -5.6l5.4 5.6l-5.4 5.6zM1167 1984.9l5.4 -5.6l5.4 5.6l-5.4 5.6zM1154.6 1975.8l5.4 -5.6l5.4 5.6l-5.4 5.6zM1146.2 1961l5.4 -5.6l5.4 5.6l-5.4 5.6zM1149 1973.2l5.4 -5.6l5.4 5.6l-5.4 5.6zM1153.5 1956.6l5.4 -5.6l5.4 5.6l-5.4 5.6zM1148 1973.8l5.4 -5.6l5.4 5.6l-5.4 5.6zM1149.1 2000.6l5.4 -5.6l5.4 5.6l-5.4 5.6zM1170.7 1948.9l5.4 -5.6l5.4 5.6l-5.4 5.6zM1153.5 1951.9l5.4 -5.6l5.4 5.6l-5.4 5.6zM1160.2 1939.9l5.4 -5.6l5.4 5.6l-5.4 5.6zM1150.1 1949.9l5.4 -5.6l5.4 5.6l-5.4 5.6zM1165.4 1993.2l5.4 -5.6l5.4 5.6l-5.4 5.6zM1159.1 1952.6l5.4 -5.6l5.4 5.6l-5.4 5.6zM1153.5 2003.4l5.4 -5.6l5.4 5.6l-5.4 5.6zM1156.6 1942.9l5.4 -5.6l5.4 5.6l-5.4 5.6zM1145.9 1982l5.4 -5.6l5.4 5.6l-5.4 5.6zM1154.1 2008l5.4 -5.6l5.4 5.6l-5.4 5.6zM1148.5 1983.6l5.4 -5.6l5.4 5.6l-5.4 5.6zM1156.7 1973.3l5.4 -5.6l5.4 5.6l-5.4 5.6zM1149.1 1936.6l5.4 -5.6l5.4 5.6l-5.4 5.6zM1145.6 1943.3l5.4 -5.6l5.4 5.6l-5.4 5.6zM1172.4 1981l5.4 -5.6l5.4 5.6l-5.4 5.6zM1156.8 1993.4l5.4 -5.6l5.4 5.6l-5.4 5.6zM1149.7 1992.9l5.4 -5.6l5.4 5.6l-5.4 5.6zM1146.4 1990.6l5.4 -5.6l5.4 5.6l-5.4 5.6zM1157.8 1942.9l5.4 -5.6l5.4 5.6l-5.4 5.6zM1149.1 2015.3l5.4 -5.6l5.4 5.6l-5.4 5.6zM1148.3 1964.4l5.4 -5.6l5.4 5.6l-5.4 5.6zM1150.8 1955.5l5.4 -5.6l5.4 5.6l-5.4 5.6zM1156.7 2007.3l5.4 -5.6l5.4 5.6l-5.4 5.6zM1162.7 1942.4l5.4 -5.6l5.4 5.6l-5.4 5.6zM1149 1972.8l5.4 -5.6l5.4 5.6l-5.4 5.6zM1158.6 1981.3l5.4 -5.6l5.4 5.6l-5.4 5.6zM1147.1 1993.8l5.4 -5.6l5.4 5.6l-5.4 5.6zM1146.9 1979.1l5.4 -5.6l5.4 5.6l-5.4 5.6zM1171.4 1949.9l5.4 -5.6l5.4 5.6l-5.4 5.6zM1151.6 1980.4l5.4 -5.6l5.4 5.6l-5.4 5.6zM1145.3 2005.5l5.4 -5.6l5.4 5.6l-5.4 5.6zM1156.9 1969.1l5.4 -5.6l5.4 5.6l-5.4 5.6zM1148.7 1969.3l5.4 -5.6l5.4 5.6l-5.4 5.6zM1151.9 1962.2l5.4 -5.6l5.4 5.6l-5.4 5.6zM1164.3 1967.5l5.4 -5.6l5.4 5.6l-5.4 5.6zM1160.2 1973.5l5.4 -5.6l5.4 5.6l-5.4 5.6zM1165.3 1944.9l5.4 -5.6l5.4 5.6l-5.4 5.6zM1152.2 1965.1l5.4 -5.6l5.4 5.6l-5.4 5.6zM1148.3 1999.1l5.4 -5.6l5.4 5.6l-5.4 5.6zM1177.1 1994.7l5.4 -5.6l5.4 5.6l-5.4 5.6zM1170.7 1948.9l5.4 -5.6l5.4 5.6l-5.4 5.6zM1183.2 1960.8l5.4 -5.6l5.4 5.6l-5.4 5.6zM1177 1956l5.4 -5.6l5.4 5.6l-5.4 5.6zM1193.9 1968.4l5.4 -5.6l5.4 5.6l-5.4 5.6zM1171.9 1966.3l5.4 -5.6l5.4 5.6l-5.4 5.6zM1166.9 1996.2l5.4 -5.6l5.4 5.6l-5.4 5.6zM1196.1 1973l5.4 -5.6l5.4 5.6l-5.4 5.6zM1182.5 1994.3l5.4 -5.6l5.4 5.6l-5.4 5.6zM1183.8 1973.5l5.4 -5.6l5.4 5.6l-5.4 5.6zM1184.5 1966.7l5.4 -5.6l5.4 5.6l-5.4 5.6zM1194 1980.9l5.4 -5.6l5.4 5.6l-5.4 5.6zM1169.9 1990.1l5.4 -5.6l5.4 5.6l-5.4 5.6zM1184.5 1978.1l5.4 -5.6l5.4 5.6l-5.4 5.6zM1177.7 1985.3l5.4 -5.6l5.4 5.6l-5.4 5.6zM1186.7 1981.8l5.4 -5.6l5.4 5.6l-5.4 5.6zM1168.3 1988.1l5.4 -5.6l5.4 5.6l-5.4 5.6zM1171.6 1982l5.4 -5.6l5.4 5.6l-5.4 5.6zM1183.8 1962.8l5.4 -5.6l5.4 5.6l-5.4 5.6zM1174.5 1986.2l5.4 -5.6l5.4 5.6l-5.4 5.6zM1168.6 1993.6l5.4 -5.6l5.4 5.6l-5.4 5.6zM1189.2 1963.4l5.4 -5.6l5.4 5.6l-5.4 5.6zM1191.5 1995.4l5.4 -5.6l5.4 5.6l-5.4 5.6zM1171.3 1987.1l5.4 -5.6l5.4 5.6l-5.4 5.6zM1184.7 1977l5.4 -5.6l5.4 5.6l-5.4 5.6zM1194.2 1970.3l5.4 -5.6l5.4 5.6l-5.4 5.6zM1182 1960l5.4 -5.6l5.4 5.6l-5.4 5.6zM1179.4 1961.6l5.4 -5.6l5.4 5.6l-5.4 5.6zM1196.5 1968.7l5.4 -5.6l5.4 5.6l-5.4 5.6zM1189.8 1974.9l5.4 -5.6l5.4 5.6l-5.4 5.6zM1171.1 2010.4l5.4 -5.6l5.4 5.6l-5.4 5.6zM1166.7 1969.4l5.4 -5.6l5.4 5.6l-5.4 5.6zM1181.1 1990.7l5.4 -5.6l5.4 5.6l-5.4 5.6zM1188.2 1959.6l5.4 -5.6l5.4 5.6l-5.4 5.6zM1181.6 1979.3l5.4 -5.6l5.4 5.6l-5.4 5.6zM1188.7 1962.8l5.4 -5.6l5.4 5.6l-5.4 5.6zM1187.3 1986.7l5.4 -5.6l5.4 5.6l-5.4 5.6zM1174.5 1971.1l5.4 -5.6l5.4 5.6l-5.4 5.6zM1194.2 1958.2l5.4 -5.6l5.4 5.6l-5.4 5.6zM1193.5 1975.6l5.4 -5.6l5.4 5.6l-5.4 5.6zM1169 1984.4l5.4 -5.6l5.4 5.6l-5.4 5.6zM1192.8 1960.3l5.4 -5.6l5.4 5.6l-5.4 5.6zM1175.2 1972.6l5.4 -5.6l5.4 5.6l-5.4 5.6zM1166.5 1966.3l5.4 -5.6l5.4 5.6l-5.4 5.6zM1172.3 1981.1l5.4 -5.6l5.4 5.6l-5.4 5.6zM1148.5 2022.4l5.4 -5.6l5.4 5.6l-5.4 5.6zM1154.5 2023.5l5.4 -5.6l5.4 5.6l-5.4 5.6zM1152 2014l5.4 -5.6l5.4 5.6l-5.4 5.6zM1149.8 2017.1l5.4 -5.6l5.4 5.6l-5.4 5.6zM1155.2 2012l5.4 -5.6l5.4 5.6l-5.4 5.6zM1153.5 2030.3l5.4 -5.6l5.4 5.6l-5.4 5.6zM1152 2012.7l5.4 -5.6l5.4 5.6l-5.4 5.6zM1148.6 2017.9l5.4 -5.6l5.4 5.6l-5.4 5.6zM1148.8 2018.6l5.4 -5.6l5.4 5.6l-5.4 5.6zM1158.3 2032.8l5.4 -5.6l5.4 5.6l-5.4 5.6zM1157.2 2030.7l5.4 -5.6l5.4 5.6l-5.4 5.6zM1149.9 2036.8l5.4 -5.6l5.4 5.6l-5.4 5.6zM1151.7 2016.5l5.4 -5.6l5.4 5.6l-5.4 5.6zM1155 2018.5l5.4 -5.6l5.4 5.6l-5.4 5.6zM1238.8 1993l5.4 -5.6l5.4 5.6l-5.4 5.6zM1231.6 1987.6l5.4 -5.6l5.4 5.6l-5.4 5.6zM1237.3 1991.6l5.4 -5.6l5.4 5.6l-5.4 5.6zM1234.8 1982.8l5.4 -5.6l5.4 5.6l-5.4 5.6zM1232.1 1992.1l5.4 -5.6l5.4 5.6l-5.4 5.6zM1233.9 1992.6l5.4 -5.6l5.4 5.6l-5.4 5.6zM1236.9 1985.5l5.4 -5.6l5.4 5.6l-5.4 5.6zM1229 1991.9l5.4 -5.6l5.4 5.6l-5.4 5.6zM1232.5 1989.6l5.4 -5.6l5.4 5.6l-5.4 5.6zM1229.4 1981.5l5.4 -5.6l5.4 5.6l-5.4 5.6zM1213.7 1985.7l5.4 -5.6l5.4 5.6l-5.4 5.6zM1205.5 1988.2l5.4 -5.6l5.4 5.6l-5.4 5.6zM1225.2 1985.7l5.4 -5.6l5.4 5.6l-5.4 5.6zM1222.5 1975.4l5.4 -5.6l5.4 5.6l-5.4 5.6zM1205 1977.5l5.4 -5.6l5.4 5.6l-5.4 5.6zM1205.7 1979.6l5.4 -5.6l5.4 5.6l-5.4 5.6zM1222.8 1976.4l5.4 -5.6l5.4 5.6l-5.4 5.6zM1225.3 1980.5l5.4 -5.6l5.4 5.6l-5.4 5.6zM1156.4 1929l5.4 -5.6l5.4 5.6l-5.4 5.6zM1176.6 1921.5l5.4 -5.6l5.4 5.6l-5.4 5.6zM1172.4 1929.3l5.4 -5.6l5.4 5.6l-5.4 5.6zM1185.6 1928.1l5.4 -5.6l5.4 5.6l-5.4 5.6zM1201.6 1928.1l5.4 -5.6l5.4 5.6l-5.4 5.6zM1215 1933.8l5.4 -5.6l5.4 5.6l-5.4 5.6zM1209 1943.8l5.4 -5.6l5.4 5.6l-5.4 5.6zM1219 1943.8l5.4 -5.6l5.4 5.6l-5.4 5.6zM1243.1 1941.3l5.4 -5.6l5.4 5.6l-5.4 5.6zM1240.4 1948.7l5.4 -5.6l5.4 5.6l-5.4 5.6zM1264.3 1945.5l5.4 -5.6l5.4 5.6l-5.4 5.6zM1252.4 1953.2l5.4 -5.6l5.4 5.6l-5.4 5.6zM1262.1 1954.7l5.4 -5.6l5.4 5.6l-5.4 5.6zM1243.1 1957.3l5.4 -5.6l5.4 5.6l-5.4 5.6zM1233.4 1962.2l5.4 -5.6l5.4 5.6l-5.4 5.6zM1222.5 1963.7l5.4 -5.6l5.4 5.6l-5.4 5.6zM1280 1958.5l5.4 -5.6l5.4 5.6l-5.4 5.6zM1270.3 1962.9l5.4 -5.6l5.4 5.6l-5.4 5.6zM1260.6 1969.7l5.4 -5.6l5.4 5.6l-5.4 5.6zM1248.3 1969.7l5.4 -5.6l5.4 5.6l-5.4 5.6zM1299.4 1952.9l5.4 -5.6l5.4 5.6l-5.4 5.6zM1305.9 1960.2l5.4 -5.6l5.4 5.6l-5.4 5.6zM1311.1 1946.9l5.4 -5.6l5.4 5.6l-5.4 5.6zM1319.3 1939.8l5.4 -5.6l5.4 5.6l-5.4 5.6zM1331.9 1970l5.4 -5.6l5.4 5.6l-5.4 5.6zM1345.8 1975.2l5.4 -5.6l5.4 5.6l-5.4 5.6zM1305.9 1977.9l5.4 -5.6l5.4 5.6l-5.4 5.6zM1304.7 1986.1l5.4 -5.6l5.4 5.6l-5.4 5.6zM1316.6 1984.6l5.4 -5.6l5.4 5.6l-5.4 5.6zM1316.6 1991.3l5.4 -5.6l5.4 5.6l-5.4 5.6zM1328.6 1997.3l5.4 -5.6l5.4 5.6l-5.4 5.6zM1333.8 1996.9l5.4 -5.6l5.4 5.6l-5.4 5.6zM1292.7 1996.6l5.4 -5.6l5.4 5.6l-5.4 5.6zM1292.7 2001.3l5.4 -5.6l5.4 5.6l-5.4 5.6zM1279.6 1991.8l5.4 -5.6l5.4 5.6l-5.4 5.6zM1264.8 1993.9l5.4 -5.6l5.4 5.6l-5.4 5.6zM1271.1 1999.1l5.4 -5.6l5.4 5.6l-5.4 5.6zM1274.5 2007l5.4 -5.6l5.4 5.6l-5.4 5.6zM1250.1 2005.5l5.4 -5.6l5.4 5.6l-5.4 5.6zM1238.2 2013l5.4 -5.6l5.4 5.6l-5.4 5.6zM1226.2 2010l5.4 -5.6l5.4 5.6l-5.4 5.6zM1215 2010.8l5.4 -5.6l5.4 5.6l-5.4 5.6zM1206.8 2007.8l5.4 -5.6l5.4 5.6l-5.4 5.6zM1206 2019l5.4 -5.6l5.4 5.6l-5.4 5.6zM1187.4 2022.4l5.4 -5.6l5.4 5.6l-5.4 5.6zM1176.9 2010.8l5.4 -5.6l5.4 5.6l-5.4 5.6zM1227 2038.7l5.4 -5.6l5.4 5.6l-5.4 5.6zM1159.3 2028.7l5.4 -5.6l5.4 5.6l-5.4 5.6zM1155.2 2038l5.4 -5.6l5.4 5.6l-5.4 5.6zM1145.5 2041.4l5.4 -5.6l5.4 5.6l-5.4 5.6zM1215.8 1990.6l5.4 -5.6l5.4 5.6l-5.4 5.6zM1231.4 1999.6l5.4 -5.6l5.4 5.6l-5.4 5.6zM1247.1 1981.9l5.4 -5.6l5.4 5.6l-5.4 5.6zM1241.9 1975.6l5.4 -5.6l5.4 5.6l-5.4 5.6zM1235.2 1993.6l5.4 -5.6l5.4 5.6l-5.4 5.6zM1229.2 1972.7l5.4 -5.6l5.4 5.6l-5.4 5.6zM1220.2 1984.6l5.4 -5.6l5.4 5.6l-5.4 5.6zM1211.3 1978.6l5.4 -5.6l5.4 5.6l-5.4 5.6zM1203.8 1987.6l5.4 -5.6l5.4 5.6l-5.4 5.6zM1202.3 1999.6l5.4 -5.6l5.4 5.6l-5.4 5.6zM1194.8 1963.7l5.4 -5.6l5.4 5.6l-5.4 5.6zM1191.8 1951.7l5.4 -5.6l5.4 5.6l-5.4 5.6zM1199.3 1960.7l5.4 -5.6l5.4 5.6l-5.4 5.6zM1188.9 1942.8l5.4 -5.6l5.4 5.6l-5.4 5.6zM1181.4 1936.8l5.4 -5.6l5.4 5.6l-5.4 5.6zM1169.4 1939.8l5.4 -5.6l5.4 5.6l-5.4 5.6zM1162 1933.8l5.4 -5.6l5.4 5.6l-5.4 5.6zM1151.5 1936.8l5.4 -5.6l5.4 5.6l-5.4 5.6zM1148.5 1945.8l5.4 -5.6l5.4 5.6l-5.4 5.6zM1145.5 1957.7l5.4 -5.6l5.4 5.6l-5.4 5.6zM1145.5 1984.6l5.4 -5.6l5.4 5.6l-5.4 5.6zM1145.5 1999.6l5.4 -5.6l5.4 5.6l-5.4 5.6zM1145.5 2014.5l5.4 -5.6l5.4 5.6l-5.4 5.6zM1147 2023.5l5.4 -5.6l5.4 5.6l-5.4 5.6zM1150 2032.4l5.4 -5.6l5.4 5.6l-5.4 5.6zM1145.5 2029.4l5.4 -5.6l5.4 5.6l-5.4 5.6zM1154.5 2014.5l5.4 -5.6l5.4 5.6l-5.4 5.6zM1163.5 2011.5l5.4 -5.6l5.4 5.6l-5.4 5.6zM1169.4 2004l5.4 -5.6l5.4 5.6l-5.4 5.6zM1184.4 1999.6l5.4 -5.6l5.4 5.6l-5.4 5.6zM1191.8 1996.6l5.4 -5.6l5.4 5.6l-5.4 5.6zM1196.3 1984.6l5.4 -5.6l5.4 5.6l-5.4 5.6zM1187.4 1977.1l5.4 -5.6l5.4 5.6l-5.4 5.6zM1178.4 1947.2l5.4 -5.6l5.4 5.6l-5.4 5.6zM1173.9 1954.7l5.4 -5.6l5.4 5.6l-5.4 5.6zM1358.6 1954.7l5.4 -5.6l5.4 5.6l-5.4 5.6zM1364.8 1971.5l5.4 -5.6l5.4 5.6l-5.4 5.6zM1375.2 1968.9l5.4 -5.6l5.4 5.6l-5.4 5.6zM1391.5 1973.8l5.4 -5.6l5.4 5.6l-5.4 5.6zM1374 1987.3l5.4 -5.6l5.4 5.6l-5.4 5.6zM1380.8 1985.8l5.4 -5.6l5.4 5.6l-5.4 5.6zM1401.2 1990.1l5.4 -5.6l5.4 5.6l-5.4 5.6zM1399.1 2009.6l5.4 -5.6l5.4 5.6l-5.4 5.6zM1439 1983.6l5.4 -5.6l5.4 5.6l-5.4 5.6zM1445.8 1986.4l5.4 -5.6l5.4 5.6l-5.4 5.6zM1451.3 1996.6l5.4 -5.6l5.4 5.6l-5.4 5.6zM1438 2004.8l5.4 -5.6l5.4 5.6l-5.4 5.6zM1519 1987.3l5.4 -5.6l5.4 5.6l-5.4 5.6z" fill="none" stroke="#4a7ebb" stroke-width="2.8"/>
<path d="M1255.4 2113.3l5.4 -5.6l5.4 5.6l-5.4 5.6z" fill="none" stroke="#4a7ebb" stroke-width="2.8"/>
<line x1="1212.8" y1="2143.5" x2="1305.1" y2="2143.5" stroke="#c00000" stroke-width="2.0" stroke-dasharray="6.3 2.9"/>
<path d="M1255.5 2138.2h10.6v10.6h-10.6z" fill="none" stroke="#c0504d" stroke-width="3.1"/>
<line x1="1212.8" y1="2173.3" x2="1305.1" y2="2173.3" stroke="#92d050" stroke-width="2.0" stroke-dasharray="6.3 2.9"/>
<path d="M1260.8 2168.1l5.2 10.4h-10.4z" fill="none" stroke="#9bbb59" stroke-width="2.9"/>
<text transform="translate(1316.8 2121.2) scale(1 1.045)">Observed values</text>
<text transform="translate(1316.8 2150.6) scale(1 1.045)">Regressed curve</text>
<text transform="translate(1316.8 2180.8) scale(1 1.045)">Fitted curve</text>
</g>
</svg>
</body>
</html>
